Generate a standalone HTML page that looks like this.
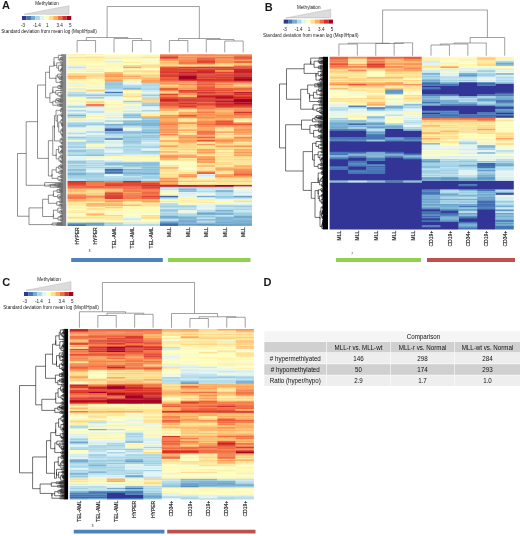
<!DOCTYPE html>
<html lang="en">
<head>
<meta charset="utf-8">
<title>Methylation heatmaps</title>
<style>
html,body{margin:0;padding:0;background:#fff;}
body{width:520px;height:536px;position:relative;overflow:hidden;font-family:"Liberation Sans",Arial,sans-serif;}
svg{position:absolute;left:0;top:0;}
svg text{font-family:"Liberation Sans",Arial,sans-serif;fill:#1a1a1a;}
svg .tbl text{fill:#111;}
</style>
</head>
<body>
<svg width="520" height="536" viewBox="0 0 520 536">
<defs>
<filter id="bl" x="-5%" y="-5%" width="110%" height="110%"><feGaussianBlur stdDeviation="0.55"/></filter>
<clipPath id="clipA"><rect x="67.5" y="54.2" width="184.5" height="171.8"/></clipPath>
<clipPath id="clipB"><rect x="329.6" y="56.8" width="184.2" height="172.6"/></clipPath>
<clipPath id="clipC"><rect x="69.7" y="328.9" width="184.2" height="170.5"/></clipPath>
</defs>
<g filter="url(#bl)" clip-path="url(#clipA)" fill="none" stroke-width="1.25">
<path stroke="#313695" d="M104.4 129.7h18.75M104.4 130.59h18.75"/>
<path stroke="#4168ae" d="M104.4 127.91h18.75M104.4 169.11h18.75M104.4 170.01h18.75M104.4 172.7h18.75M104.4 173.59h18.75M159.75 195.99h18.75M159.75 196.89h18.75M159.75 223.76h18.75M64.5 224.66h21.75M159.75 224.66h18.75"/>
<path stroke="#4575b4" d="M104.4 92.07h18.75M104.4 92.97h18.75M104.4 138.66h18.75M104.4 139.55h18.75M104.4 170.91h18.75M159.75 222.86h18.75M64.5 225.55h21.75M159.75 225.55h18.75M64.5 226.45h21.75M159.75 226.45h18.75M64.5 227.34h21.75M159.75 227.34h18.75M64.5 228.24h21.75M159.75 228.24h18.75M64.5 229.14h21.75M159.75 229.14h18.75M64.5 230.03h21.75M159.75 230.03h18.75M64.5 230.93h21.75M159.75 230.93h18.75"/>
<path stroke="#4e80ba" d="M104.4 128.8h18.75M104.4 171.8h18.75"/>
<path stroke="#588bc0" d="M196.65 213.01h18.75M178.2 221.97h18.75M233.55 223.76h21.45"/>
<path stroke="#6197c5" d="M215.1 213.01h18.75M215.1 214.8h18.75M178.2 220.18h37.2M233.55 221.97h21.45M196.65 223.76h18.75M178.2 224.66h37.2"/>
<path stroke="#6ba2cb" d="M64.5 115.36h21.75M122.85 137.76h18.75M122.85 163.74h18.75M64.5 170.01h21.75M178.2 191.51h18.75M233.55 195.99h21.45M233.55 196.89h21.45M196.65 213.91h18.75M159.75 216.59h18.75M233.55 216.59h21.45M233.55 217.49h21.45M215.1 220.18h39.9M159.75 221.97h18.75M64.5 222.86h40.2M64.5 223.76h40.2M178.2 223.76h18.75M215.1 223.76h18.75M85.95 224.66h18.75M215.1 224.66h39.9M215.1 225.55h18.75M215.1 226.45h18.75M215.1 227.34h18.75M215.1 228.24h18.75M215.1 229.14h18.75M215.1 230.03h18.75M215.1 230.93h18.75"/>
<path stroke="#74add1" d="M122.85 88.49h18.75M141.3 105.51h18.75M122.85 117.16h18.75M122.85 120.74h37.2M141.3 123.43h18.75M104.4 124.32h37.2M64.5 126.11h21.75M104.4 126.11h18.75M104.4 132.39h18.75M141.3 132.39h18.75M64.5 137.76h21.75M122.85 143.14h18.75M85.95 154.78h18.75M104.4 163.74h18.75M141.3 170.01h18.75M64.5 173.59h21.75M122.85 173.59h37.2M64.5 174.49h21.75M215.1 190.61h18.75M215.1 191.51h18.75M196.65 195.99h18.75M196.65 196.89h18.75M215.1 210.32h18.75M196.65 214.8h18.75M159.75 217.49h37.2M215.1 217.49h18.75M178.2 221.07h18.75M233.55 221.07h21.45M215.1 221.97h18.75M178.2 222.86h18.75M215.1 222.86h39.9M85.95 225.55h18.75M196.65 225.55h18.75M233.55 225.55h21.45M85.95 226.45h18.75M196.65 226.45h18.75M233.55 226.45h21.45M85.95 227.34h18.75M196.65 227.34h18.75M233.55 227.34h21.45M85.95 228.24h18.75M196.65 228.24h18.75M233.55 228.24h21.45M85.95 229.14h18.75M196.65 229.14h18.75M233.55 229.14h21.45M85.95 230.03h18.75M196.65 230.03h18.75M233.55 230.03h21.45M85.95 230.93h18.75M196.65 230.93h18.75M233.55 230.93h21.45"/>
<path stroke="#7fb6d6" d="M104.4 84.01h18.75M64.5 94.76h21.75M122.85 115.36h18.75M141.3 117.16h18.75M122.85 123.43h18.75M141.3 124.32h18.75M104.4 125.22h55.65M141.3 126.11h18.75M141.3 127.91h18.75M122.85 131.49h18.75M104.4 133.28h37.2M141.3 137.76h18.75M64.5 152.09h21.75M141.3 152.09h18.75M141.3 163.74h18.75M122.85 165.53h18.75M141.3 167.32h18.75M64.5 169.11h21.75M122.85 169.11h37.2M122.85 170.01h18.75M122.85 172.7h18.75M141.3 174.49h18.75M122.85 180.76h18.75M178.2 188.82h18.75M178.2 189.72h18.75M159.75 211.22h18.75M215.1 211.22h18.75M215.1 213.91h18.75M159.75 218.39h37.2M215.1 218.39h18.75M215.1 219.28h18.75M215.1 221.07h18.75M178.2 225.55h18.75M178.2 226.45h18.75M178.2 227.34h18.75M178.2 228.24h18.75M178.2 229.14h18.75M178.2 230.03h18.75M178.2 230.93h18.75"/>
<path stroke="#8abfdb" d="M104.4 83.11h18.75M104.4 85.8h18.75M122.85 89.39h18.75M85.95 94.76h37.2M85.95 98.34h18.75M122.85 101.03h18.75M64.5 110.89h21.75M141.3 110.89h18.75M122.85 118.05h18.75M122.85 121.64h37.2M141.3 122.53h18.75M64.5 125.22h21.75M141.3 129.7h18.75M141.3 130.59h18.75M104.4 131.49h18.75M122.85 132.39h18.75M141.3 133.28h18.75M122.85 135.97h18.75M141.3 136.86h18.75M122.85 141.34h18.75M64.5 151.2h21.75M85.95 155.68h18.75M122.85 161.95h18.75M104.4 164.64h18.75M141.3 164.64h18.75M64.5 165.53h21.75M141.3 165.53h18.75M104.4 167.32h18.75M122.85 171.8h18.75M141.3 172.7h18.75M85.95 177.18h18.75M141.3 178.07h18.75M85.95 180.76h37.2M159.75 197.78h18.75M215.1 197.78h18.75M196.65 212.11h18.75M233.55 213.01h21.45M159.75 215.7h18.75M233.55 215.7h21.45M178.2 216.59h37.2M233.55 218.39h21.45M178.2 219.28h37.2M233.55 219.28h21.45M159.75 221.07h18.75M196.65 222.86h18.75"/>
<path stroke="#95c7df" d="M104.4 81.32h18.75M104.4 82.22h18.75M104.4 84.91h18.75M122.85 85.8h18.75M104.4 87.59h18.75M85.95 95.66h37.2M141.3 95.66h18.75M85.95 97.45h18.75M122.85 101.93h18.75M141.3 103.72h18.75M122.85 114.47h18.75M64.5 117.16h21.75M141.3 118.05h18.75M141.3 118.95h18.75M104.4 120.74h18.75M122.85 122.53h18.75M85.95 124.32h18.75M122.85 126.11h18.75M141.3 131.49h18.75M141.3 135.07h18.75M141.3 135.97h18.75M64.5 136.86h21.75M122.85 136.86h18.75M85.95 137.76h37.2M122.85 139.55h37.2M85.95 141.34h18.75M122.85 142.24h18.75M64.5 143.14h40.2M64.5 146.72h21.75M122.85 146.72h18.75M64.5 150.3h21.75M141.3 151.2h18.75M122.85 152.09h18.75M64.5 154.78h21.75M64.5 155.68h21.75M64.5 161.05h40.2M64.5 161.95h21.75M141.3 161.95h18.75M64.5 162.84h21.75M141.3 162.84h18.75M85.95 163.74h18.75M122.85 164.64h18.75M85.95 167.32h18.75M141.3 168.22h18.75M64.5 170.91h21.75M122.85 170.91h37.2M141.3 171.8h18.75M64.5 172.7h21.75M85.95 173.59h18.75M85.95 174.49h18.75M122.85 174.49h18.75M64.5 175.39h21.75M122.85 175.39h18.75M64.5 177.18h21.75M141.3 177.18h18.75M104.4 178.07h18.75M122.85 178.97h18.75M104.4 179.86h18.75M178.2 187.03h18.75M178.2 190.61h18.75M215.1 195.99h18.75M215.1 196.89h18.75M233.55 197.78h21.45M215.1 206.74h39.9M159.75 209.43h37.2M233.55 209.43h21.45M159.75 210.32h18.75M215.1 212.11h18.75M159.75 213.91h18.75M104.4 223.76h18.75M141.3 224.66h18.75"/>
<path stroke="#a0d0e4" d="M141.3 85.8h18.75M104.4 86.7h18.75M122.85 87.59h18.75M104.4 88.49h18.75M141.3 89.39h18.75M141.3 94.76h18.75M64.5 95.66h21.75M141.3 104.61h18.75M64.5 106.41h21.75M64.5 107.3h21.75M85.95 111.78h18.75M122.85 116.26h18.75M141.3 119.84h18.75M64.5 123.43h40.2M64.5 124.32h21.75M85.95 125.22h18.75M141.3 127.01h18.75M104.4 134.18h18.75M122.85 138.66h18.75M122.85 140.45h18.75M141.3 141.34h18.75M64.5 142.24h21.75M64.5 144.93h21.75M122.85 144.93h18.75M141.3 146.72h18.75M64.5 147.61h21.75M104.4 147.61h18.75M141.3 147.61h18.75M85.95 149.41h18.75M122.85 149.41h18.75M85.95 152.09h18.75M104.4 153.89h18.75M104.4 161.95h18.75M104.4 162.84h37.2M64.5 163.74h21.75M85.95 165.53h37.2M122.85 166.43h37.2M64.5 167.32h21.75M122.85 167.32h18.75M104.4 168.22h18.75M64.5 171.8h21.75M85.95 172.7h18.75M85.95 175.39h18.75M64.5 176.28h40.2M141.3 176.28h18.75M64.5 178.07h21.75M122.85 178.07h18.75M85.95 178.97h18.75M85.95 179.86h18.75M122.85 179.86h18.75M141.3 180.76h18.75M196.65 187.03h37.2M159.75 187.93h55.65M196.65 191.51h18.75M215.1 194.2h18.75M159.75 205.84h37.2M233.55 205.84h21.45M159.75 206.74h37.2M159.75 213.01h18.75M178.2 213.91h18.75M233.55 213.91h21.45M233.55 214.8h21.45M215.1 216.59h18.75M196.65 217.49h18.75M196.65 221.97h18.75M104.4 222.86h18.75M122.85 224.66h18.75M104.4 225.55h18.75M104.4 226.45h18.75M104.4 227.34h18.75M104.4 228.24h18.75M104.4 229.14h18.75M104.4 230.03h18.75M104.4 230.93h18.75"/>
<path stroke="#a50026" d="M178.2 75.95h18.75M178.2 76.84h18.75M178.2 77.74h18.75M233.55 77.74h21.45M178.2 78.64h18.75M233.55 79.53h21.45M233.55 80.43h21.45M233.55 92.97h21.45M215.1 97.45h18.75M233.55 99.24h21.45M233.55 100.14h21.45M215.1 101.03h39.9M233.55 101.93h21.45M233.55 103.72h21.45M159.75 185.24h95.25M215.1 186.14h18.75"/>
<path stroke="#abd9e9" d="M64.5 67.89h21.75M141.3 83.11h18.75M141.3 84.01h18.75M141.3 84.91h18.75M122.85 86.7h18.75M141.3 88.49h18.75M104.4 89.39h18.75M141.3 91.18h18.75M64.5 92.97h21.75M104.4 93.86h18.75M141.3 102.82h18.75M122.85 113.57h18.75M64.5 114.47h21.75M64.5 116.26h21.75M104.4 121.64h18.75M64.5 122.53h40.2M64.5 127.01h21.75M104.4 127.01h18.75M141.3 128.8h18.75M85.95 131.49h18.75M85.95 132.39h18.75M64.5 133.28h21.75M122.85 134.18h37.2M122.85 135.07h18.75M141.3 138.66h18.75M64.5 139.55h40.2M85.95 142.24h18.75M64.5 144.03h21.75M141.3 144.93h18.75M122.85 147.61h18.75M64.5 149.41h21.75M85.95 150.3h18.75M122.85 150.3h18.75M85.95 151.2h18.75M122.85 151.2h18.75M85.95 152.99h18.75M141.3 152.99h18.75M64.5 153.89h40.2M122.85 153.89h37.2M64.5 166.43h21.75M141.3 175.39h18.75M122.85 177.18h18.75M85.95 178.07h18.75M64.5 178.97h21.75M104.4 178.97h18.75M141.3 178.97h18.75M159.75 187.03h18.75M215.1 187.93h18.75M215.1 192.41h18.75M159.75 204.95h18.75M215.1 204.95h18.75M215.1 205.84h18.75M215.1 209.43h18.75M159.75 214.8h37.2M178.2 215.7h37.2M159.75 220.18h18.75M104.4 224.66h18.75"/>
<path stroke="#af0a26" d="M215.1 101.93h18.75M178.2 186.14h18.75"/>
<path stroke="#b6deec" d="M141.3 86.7h18.75M141.3 87.59h18.75M104.4 91.18h18.75M64.5 92.07h21.75M64.5 93.86h21.75M64.5 96.55h21.75M141.3 97.45h18.75M141.3 98.34h18.75M64.5 109.99h21.75M141.3 109.99h18.75M64.5 113.57h21.75M64.5 118.05h21.75M104.4 135.07h18.75M104.4 135.97h18.75M85.95 136.86h18.75M64.5 138.66h40.2M85.95 140.45h18.75M122.85 144.03h18.75M64.5 145.82h21.75M122.85 145.82h37.2M122.85 148.51h18.75M64.5 152.99h21.75M104.4 152.99h37.2M64.5 168.22h40.2M104.4 176.28h18.75M104.4 177.18h18.75M64.5 179.86h21.75M64.5 180.76h21.75M159.75 189.72h18.75M215.1 193.3h18.75M159.75 198.68h18.75M215.1 198.68h18.75M159.75 203.16h18.75M159.75 204.05h18.75M178.2 204.95h18.75M233.55 204.95h21.45M159.75 207.64h37.2M233.55 207.64h21.45M215.1 208.53h39.9M196.65 210.32h18.75M196.65 211.22h18.75M159.75 212.11h18.75M233.55 212.11h21.45M196.65 221.07h18.75M122.85 225.55h37.2M122.85 226.45h37.2M122.85 227.34h37.2M122.85 228.24h37.2M122.85 229.14h37.2M122.85 230.03h37.2M122.85 230.93h37.2"/>
<path stroke="#b91326" d="M233.55 69.68h21.45M178.2 74.16h18.75M233.55 75.95h21.45M233.55 78.64h21.45M233.55 92.07h21.45M196.65 96.55h37.2M215.1 98.34h18.75M233.55 102.82h21.45M159.75 186.14h18.75M196.65 186.14h18.75M233.55 186.14h21.45"/>
<path stroke="#c0e3ef" d="M64.5 66.99h21.75M122.85 84.91h18.75M85.95 93.86h18.75M141.3 93.86h18.75M104.4 96.55h18.75M122.85 110.89h18.75M85.95 112.68h18.75M104.4 117.16h18.75M64.5 134.18h21.75M85.95 135.07h18.75M85.95 135.97h18.75M104.4 136.86h18.75M141.3 140.45h18.75M104.4 143.14h18.75M141.3 143.14h18.75M104.4 148.51h18.75M64.5 160.16h40.2M85.95 161.95h18.75M85.95 162.84h18.75M64.5 164.64h40.2M85.95 166.43h18.75M85.95 170.01h18.75M122.85 176.28h18.75M141.3 179.86h18.75M196.65 188.82h37.2M196.65 190.61h18.75M215.1 195.09h18.75M233.55 198.68h21.45M233.55 201.36h21.45M215.1 207.64h18.75M178.2 208.53h18.75M233.55 211.22h21.45M215.1 215.7h18.75M196.65 218.39h18.75M159.75 219.28h18.75"/>
<path stroke="#c31d27" d="M196.65 67.89h18.75M233.55 71.47h21.45M178.2 72.36h37.2M233.55 72.36h21.45M159.75 74.16h18.75M233.55 74.16h21.45M178.2 79.53h37.2M196.65 92.97h18.75M196.65 95.66h37.2M233.55 97.45h21.45M178.2 100.14h18.75M104.4 197.78h18.75"/>
<path stroke="#c4b3a4" d="M122.85 66.99h18.75M122.85 67.89h18.75"/>
<path stroke="#cbe9f2" d="M104.4 61.61h18.75M104.4 90.28h18.75M141.3 90.28h18.75M85.95 96.55h18.75M141.3 96.55h18.75M85.95 106.41h18.75M122.85 108.2h18.75M85.95 110.89h18.75M64.5 111.78h21.75M122.85 111.78h37.2M104.4 123.43h18.75M122.85 127.01h18.75M85.95 127.91h18.75M122.85 127.91h18.75M141.3 144.03h18.75M104.4 146.72h18.75M64.5 148.51h21.75M141.3 148.51h18.75M104.4 154.78h55.65M104.4 155.68h18.75M104.4 166.43h18.75M122.85 168.22h18.75M85.95 169.11h18.75M196.65 175.39h18.75M159.75 188.82h18.75M196.65 189.72h37.2M196.65 192.41h18.75M233.55 192.41h21.45M178.2 195.99h18.75M196.65 197.78h18.75M159.75 201.36h18.75M159.75 208.53h18.75M233.55 210.32h21.45M178.2 213.01h18.75M122.85 219.28h18.75M122.85 220.18h18.75M122.85 222.86h37.2"/>
<path stroke="#cd2627" d="M196.65 66.99h18.75M233.55 70.57h21.45M196.65 71.47h18.75M215.1 74.16h18.75M178.2 75.05h18.75M233.55 76.84h21.45M178.2 80.43h18.75M159.75 99.24h37.2M159.75 100.14h18.75M196.65 100.14h37.2M159.75 101.03h18.75M215.1 104.61h39.9M233.55 112.68h21.45M122.85 181.66h18.75M141.3 187.93h18.75M104.4 195.99h18.75M141.3 195.99h18.75"/>
<path stroke="#d5eef5" d="M85.95 69.68h18.75M64.5 88.49h21.75M64.5 89.39h21.75M122.85 102.82h18.75M122.85 103.72h18.75M64.5 105.51h21.75M122.85 106.41h37.2M85.95 107.3h18.75M141.3 107.3h18.75M64.5 108.2h40.2M104.4 111.78h18.75M104.4 115.36h18.75M104.4 118.05h18.75M64.5 120.74h40.2M85.95 126.11h18.75M64.5 127.91h21.75M64.5 132.39h21.75M64.5 141.34h21.75M104.4 141.34h18.75M104.4 142.24h18.75M85.95 147.61h18.75M104.4 149.41h18.75M104.4 150.3h18.75M141.3 150.3h18.75M104.4 161.05h18.75M104.4 174.49h18.75M196.65 177.18h18.75M178.2 193.3h18.75M178.2 194.2h18.75M196.65 206.74h18.75M196.65 209.43h18.75M122.85 218.39h18.75M122.85 223.76h37.2"/>
<path stroke="#d73027" d="M233.55 68.78h21.45M178.2 69.68h37.2M196.65 70.57h18.75M159.75 72.36h18.75M233.55 75.05h21.45M215.1 75.95h18.75M196.65 76.84h18.75M215.1 79.53h18.75M196.65 80.43h37.2M178.2 90.28h37.2M196.65 92.07h18.75M233.55 93.86h21.45M233.55 94.76h21.45M196.65 97.45h18.75M233.55 98.34h21.45M196.65 99.24h37.2M178.2 101.03h37.2M159.75 101.93h18.75M178.2 102.82h18.75M215.1 102.82h18.75M178.2 103.72h18.75M215.1 103.72h18.75M215.1 105.51h39.9M178.2 106.41h18.75M196.65 173.59h18.75M64.5 181.66h21.75M141.3 183.45h18.75M141.3 185.24h18.75M122.85 186.14h37.2M104.4 196.89h18.75M141.3 196.89h18.75"/>
<path stroke="#dd3c2d" d="M159.75 57.14h18.75M233.55 57.14h21.45M159.75 58.03h18.75M196.65 58.03h18.75M196.65 59.82h18.75M196.65 61.61h18.75M196.65 62.51h18.75M159.75 66.99h37.2M215.1 66.99h39.9M178.2 67.89h18.75M215.1 67.89h18.75M159.75 69.68h18.75M215.1 69.68h18.75M159.75 71.47h18.75M215.1 72.36h18.75M178.2 73.26h18.75M233.55 73.26h21.45M196.65 74.16h18.75M159.75 75.05h18.75M215.1 75.05h18.75M159.75 75.95h18.75M196.65 75.95h18.75M159.75 76.84h18.75M215.1 76.84h18.75M196.65 77.74h37.2M215.1 82.22h39.9M215.1 90.28h18.75M215.1 92.97h18.75M196.65 93.86h18.75M233.55 96.55h21.45M178.2 97.45h18.75M196.65 101.93h18.75M196.65 103.72h18.75M215.1 106.41h18.75M215.1 107.3h18.75M233.55 111.78h21.45M196.65 140.45h18.75M196.65 141.34h18.75M196.65 172.7h18.75M64.5 182.55h21.75M122.85 182.55h18.75M64.5 183.45h21.75M104.4 185.24h37.2M64.5 186.14h21.75M104.4 186.14h18.75M141.3 187.03h18.75M104.4 195.09h18.75M104.4 198.68h18.75"/>
<path stroke="#e0f3f8" d="M64.5 65.2h21.75M64.5 66.09h21.75M64.5 69.68h21.75M122.85 81.32h18.75M64.5 83.11h21.75M64.5 84.01h21.75M122.85 84.01h18.75M64.5 85.8h21.75M85.95 87.59h18.75M85.95 92.97h18.75M141.3 92.97h18.75M104.4 98.34h18.75M64.5 101.03h21.75M141.3 108.2h18.75M85.95 109.99h18.75M85.95 114.47h18.75M104.4 122.53h18.75M64.5 129.7h21.75M122.85 129.7h18.75M122.85 130.59h18.75M64.5 131.49h21.75M85.95 133.28h18.75M141.3 142.24h18.75M104.4 152.09h18.75M122.85 155.68h37.2M64.5 157.47h40.2M64.5 158.36h21.75M64.5 159.26h21.75M104.4 160.16h18.75M85.95 171.8h18.75M196.65 174.49h18.75M196.65 176.28h18.75M233.55 187.03h21.45M233.55 187.93h21.45M159.75 191.51h18.75M233.55 191.51h21.45M178.2 192.41h18.75M196.65 194.2h18.75M233.55 194.2h21.45M178.2 196.89h18.75M196.65 204.95h18.75M196.65 205.84h18.75M196.65 207.64h18.75"/>
<path stroke="#e34832" d="M233.55 58.03h21.45M233.55 62.51h21.45M159.75 67.89h18.75M233.55 67.89h21.45M159.75 68.78h37.2M215.1 68.78h18.75M159.75 70.57h37.2M178.2 71.47h18.75M196.65 73.26h18.75M196.65 75.05h18.75M215.1 78.64h18.75M159.75 79.53h18.75M196.65 82.22h18.75M196.65 84.91h18.75M159.75 88.49h18.75M215.1 88.49h18.75M215.1 92.07h18.75M178.2 92.97h18.75M159.75 93.86h18.75M159.75 94.76h18.75M215.1 94.76h18.75M159.75 97.45h18.75M159.75 98.34h18.75M196.65 98.34h18.75M178.2 101.93h18.75M196.65 104.61h18.75M178.2 105.51h18.75M233.55 106.41h21.45M178.2 107.3h18.75M233.55 107.3h21.45M215.1 125.22h18.75M196.65 137.76h18.75M104.4 183.45h37.2M64.5 184.34h21.75M104.4 184.34h55.65M64.5 185.24h21.75M141.3 188.82h18.75M104.4 193.3h18.75M104.4 194.2h18.75"/>
<path stroke="#e6f5ed" d="M64.5 68.78h21.75M122.85 83.11h18.75M85.95 92.07h18.75M104.4 100.14h18.75M64.5 101.93h21.75M122.85 107.3h18.75M64.5 112.68h21.75M122.85 112.68h18.75M85.95 113.57h37.2M104.4 114.47h18.75M85.95 118.95h55.65M85.95 119.84h18.75M122.85 119.84h18.75M64.5 121.64h40.2M85.95 129.7h18.75M85.95 130.59h18.75M85.95 134.18h18.75M64.5 135.07h21.75M64.5 135.97h21.75M104.4 144.03h18.75M104.4 144.93h18.75M104.4 145.82h18.75M85.95 148.51h18.75M141.3 149.41h18.75M104.4 151.2h18.75M64.5 156.57h21.75M85.95 170.91h18.75M233.55 190.61h21.45M196.65 193.3h18.75M233.55 193.3h21.45M233.55 195.09h21.45M196.65 198.68h18.75M215.1 199.57h18.75M233.55 202.26h21.45M196.65 204.05h58.35M196.65 208.53h18.75M178.2 211.22h18.75"/>
<path stroke="#e85538" d="M159.75 56.24h18.75M233.55 58.93h21.45M196.65 60.72h18.75M233.55 61.61h21.45M196.65 68.78h18.75M159.75 73.26h18.75M196.65 78.64h18.75M196.65 81.32h58.35M196.65 84.01h18.75M196.65 87.59h18.75M196.65 88.49h18.75M233.55 88.49h21.45M159.75 89.39h18.75M178.2 91.18h37.2M178.2 92.07h18.75M215.1 93.86h18.75M196.65 94.76h18.75M233.55 95.66h21.45M178.2 98.34h18.75M159.75 102.82h18.75M159.75 103.72h18.75M85.95 104.61h18.75M159.75 104.61h37.2M159.75 105.51h18.75M196.65 105.51h18.75M178.2 115.36h18.75M215.1 121.64h18.75M215.1 123.43h18.75M215.1 124.32h39.9M233.55 125.22h21.45M196.65 134.18h18.75M196.65 136.86h18.75M233.55 174.49h21.45M64.5 187.93h40.2M122.85 188.82h18.75M141.3 193.3h18.75M64.5 197.78h21.75M122.85 197.78h37.2"/>
<path stroke="#ecf8e1" d="M104.4 58.93h18.75M104.4 62.51h18.75M64.5 63.41h21.75M104.4 63.41h18.75M85.95 68.78h18.75M85.95 73.26h18.75M122.85 82.22h18.75M64.5 84.91h21.75M85.95 89.39h18.75M141.3 92.07h18.75M104.4 97.45h18.75M104.4 99.24h18.75M64.5 104.61h21.75M104.4 106.41h18.75M85.95 109.09h18.75M104.4 112.68h18.75M141.3 112.68h18.75M104.4 119.84h18.75M85.95 127.01h18.75M64.5 128.8h40.2M64.5 130.59h21.75M178.2 133.28h18.75M104.4 140.45h18.75M85.95 146.72h18.75M85.95 156.57h18.75M178.2 165.53h18.75M178.2 170.01h18.75M159.75 190.61h18.75M178.2 195.09h18.75M215.1 200.47h18.75M178.2 201.36h18.75M215.1 203.16h39.9M178.2 210.32h18.75M122.85 212.11h18.75M122.85 217.49h18.75"/>
<path stroke="#ee613d" d="M233.55 56.24h21.45M215.1 57.14h18.75M159.75 58.93h18.75M196.65 58.93h18.75M233.55 66.09h21.45M215.1 73.26h18.75M159.75 77.74h18.75M159.75 78.64h18.75M159.75 80.43h18.75M196.65 83.11h18.75M196.65 89.39h58.35M215.1 91.18h18.75M196.65 102.82h18.75M196.65 108.2h18.75M233.55 109.99h21.45M233.55 114.47h21.45M178.2 116.26h18.75M215.1 120.74h18.75M215.1 122.53h18.75M233.55 170.91h21.45M85.95 181.66h18.75M85.95 186.14h18.75M85.95 187.03h18.75M122.85 187.93h18.75M104.4 192.41h18.75M141.3 192.41h18.75M64.5 195.99h40.2M122.85 195.99h18.75M141.3 198.68h18.75"/>
<path stroke="#f3fad6" d="M104.4 56.24h18.75M104.4 59.82h55.65M104.4 60.72h18.75M141.3 60.72h18.75M64.5 61.61h40.2M122.85 61.61h18.75M85.95 63.41h18.75M141.3 63.41h18.75M64.5 70.57h21.75M64.5 73.26h21.75M85.95 86.7h18.75M64.5 103.72h21.75M104.4 108.2h18.75M64.5 109.09h21.75M122.85 109.09h37.2M122.85 109.99h18.75M104.4 116.26h18.75M85.95 117.16h18.75M122.85 128.8h18.75M64.5 140.45h21.75M85.95 158.36h55.65M122.85 161.05h37.2M159.75 164.64h18.75M178.2 167.32h18.75M104.4 175.39h18.75M196.65 178.07h18.75M233.55 188.82h21.45M233.55 189.72h21.45M196.65 195.09h18.75M178.2 197.78h18.75M196.65 201.36h18.75M159.75 202.26h18.75M196.65 203.16h18.75M141.3 212.11h18.75M178.2 212.11h18.75M64.5 214.8h21.75M122.85 216.59h18.75M64.5 219.28h40.2"/>
<path stroke="#f46d43" d="M178.2 57.14h18.75M215.1 58.03h18.75M178.2 59.82h18.75M233.55 59.82h21.45M178.2 62.51h18.75M196.65 63.41h18.75M178.2 82.22h18.75M178.2 84.91h18.75M196.65 85.8h18.75M196.65 86.7h18.75M233.55 90.28h21.45M196.65 109.09h18.75M233.55 113.57h21.45M233.55 118.05h21.45M196.65 124.32h18.75M196.65 125.22h18.75M196.65 131.49h18.75M196.65 132.39h18.75M233.55 175.39h21.45M104.4 182.55h18.75M141.3 182.55h18.75M85.95 185.24h18.75M64.5 187.03h21.75M104.4 187.03h37.2M104.4 187.93h18.75M122.85 191.51h18.75M122.85 194.2h18.75M64.5 196.89h21.75M122.85 196.89h18.75"/>
<path stroke="#f67a49" d="M196.65 53.55h18.75M196.65 52.66h18.75M196.65 51.76h18.75M196.65 50.86h18.75M196.65 54.45h18.75M159.75 55.34h18.75M215.1 55.34h18.75M196.65 57.14h18.75M215.1 62.51h18.75M178.2 63.41h18.75M178.2 64.3h18.75M215.1 71.47h18.75M159.75 81.32h18.75M159.75 90.28h18.75M159.75 95.66h18.75M159.75 96.55h18.75M85.95 105.51h18.75M159.75 106.41h18.75M196.65 106.41h18.75M159.75 107.3h18.75M196.65 107.3h18.75M196.65 111.78h18.75M196.65 112.68h18.75M159.75 117.16h18.75M178.2 118.05h18.75M178.2 123.43h18.75M233.55 123.43h21.45M159.75 124.32h18.75M159.75 127.01h18.75M196.65 133.28h18.75M178.2 135.07h18.75M178.2 136.86h18.75M215.1 141.34h18.75M159.75 145.82h18.75M215.1 145.82h18.75M196.65 149.41h18.75M196.65 152.99h18.75M233.55 169.11h21.45M233.55 171.8h21.45M233.55 173.59h21.45M159.75 178.97h18.75M141.3 181.66h18.75M85.95 182.55h18.75M85.95 183.45h18.75M85.95 184.34h18.75M141.3 189.72h18.75M122.85 190.61h18.75M141.3 191.51h18.75M141.3 194.2h18.75M122.85 195.09h37.2M85.95 196.89h18.75M64.5 198.68h21.75M122.85 198.68h18.75"/>
<path stroke="#f8874f" d="M159.75 53.55h37.2M159.75 52.66h37.2M159.75 51.76h37.2M159.75 50.86h37.2M159.75 54.45h37.2M178.2 55.34h37.2M233.55 55.34h21.45M178.2 58.03h18.75M159.75 59.82h18.75M215.1 59.82h18.75M178.2 60.72h18.75M178.2 61.61h18.75M196.65 64.3h18.75M159.75 82.22h18.75M178.2 84.01h18.75M215.1 84.01h18.75M215.1 84.91h18.75M233.55 91.18h21.45M159.75 108.2h37.2M215.1 108.2h39.9M233.55 110.89h21.45M196.65 114.47h18.75M215.1 115.36h39.9M178.2 117.16h37.2M233.55 117.16h21.45M159.75 118.05h18.75M196.65 118.05h18.75M196.65 121.64h18.75M196.65 122.53h18.75M159.75 123.43h18.75M196.65 123.43h18.75M159.75 125.22h18.75M215.1 127.01h39.9M159.75 128.8h18.75M196.65 128.8h18.75M233.55 128.8h21.45M159.75 132.39h18.75M159.75 134.18h18.75M233.55 134.18h21.45M159.75 135.07h18.75M196.65 135.07h18.75M233.55 136.86h21.45M178.2 137.76h18.75M233.55 137.76h21.45M215.1 140.45h18.75M159.75 141.34h18.75M196.65 144.03h18.75M233.55 145.82h21.45M233.55 152.09h21.45M178.2 154.78h18.75M159.75 156.57h18.75M178.2 157.47h18.75M196.65 159.26h18.75M233.55 172.7h21.45M178.2 174.49h18.75M178.2 177.18h18.75M233.55 177.18h21.45M159.75 180.76h18.75M104.4 181.66h18.75M159.75 181.66h18.75M159.75 184.34h18.75M64.5 188.82h21.75M104.4 188.82h18.75M122.85 189.72h18.75M141.3 190.61h18.75M122.85 193.3h18.75M64.5 195.09h21.75M85.95 197.78h18.75M104.4 201.36h18.75"/>
<path stroke="#f99455" d="M215.1 53.55h39.9M215.1 52.66h39.9M215.1 51.76h39.9M215.1 50.86h39.9M215.1 54.45h39.9M196.65 56.24h18.75M178.2 58.93h18.75M215.1 58.93h18.75M215.1 60.72h18.75M215.1 61.61h18.75M233.55 65.2h21.45M215.1 70.57h18.75M104.4 75.95h18.75M104.4 76.84h37.2M104.4 80.43h18.75M141.3 80.43h18.75M178.2 81.32h18.75M141.3 82.22h18.75M159.75 83.11h18.75M215.1 83.11h39.9M159.75 84.01h18.75M233.55 87.59h21.45M178.2 88.49h18.75M159.75 91.18h18.75M178.2 93.86h18.75M178.2 94.76h18.75M159.75 109.09h37.2M233.55 109.09h21.45M196.65 110.89h18.75M178.2 114.47h18.75M159.75 115.36h18.75M196.65 115.36h18.75M215.1 116.26h39.9M215.1 117.16h18.75M215.1 118.05h18.75M159.75 122.53h37.2M233.55 122.53h21.45M159.75 126.11h18.75M196.65 126.11h58.35M196.65 127.01h18.75M159.75 129.7h18.75M233.55 129.7h21.45M159.75 130.59h55.65M233.55 130.59h21.45M215.1 132.39h39.9M233.55 141.34h21.45M178.2 142.24h18.75M196.65 144.93h18.75M233.55 146.72h21.45M233.55 149.41h21.45M159.75 152.09h18.75M233.55 152.99h21.45M159.75 154.78h18.75M196.65 156.57h18.75M159.75 157.47h18.75M159.75 159.26h18.75M196.65 160.16h18.75M159.75 168.22h18.75M215.1 169.11h18.75M233.55 170.01h21.45M196.65 170.91h18.75M215.1 174.49h18.75M178.2 176.28h18.75M215.1 176.28h18.75M215.1 177.18h18.75M159.75 178.07h18.75M85.95 188.82h18.75M64.5 194.2h21.75M141.3 201.36h18.75"/>
<path stroke="#f9fdca" d="M141.3 53.55h18.75M141.3 52.66h18.75M141.3 51.76h18.75M141.3 50.86h18.75M141.3 54.45h18.75M104.4 55.34h55.65M122.85 56.24h18.75M141.3 61.61h18.75M122.85 63.41h18.75M141.3 64.3h18.75M85.95 70.57h18.75M85.95 72.36h18.75M64.5 79.53h40.2M122.85 79.53h18.75M85.95 81.32h18.75M85.95 84.01h18.75M85.95 85.8h18.75M85.95 88.49h18.75M64.5 102.82h21.75M104.4 102.82h18.75M104.4 103.72h18.75M104.4 105.51h37.2M104.4 110.89h18.75M85.95 115.36h18.75M233.55 120.74h21.45M85.95 144.93h18.75M159.75 162.84h18.75M178.2 164.64h18.75M178.2 168.22h18.75M178.2 171.8h18.75M159.75 192.41h18.75M159.75 193.3h18.75M215.1 201.36h18.75M85.95 206.74h18.75M141.3 206.74h18.75M104.4 209.43h18.75M64.5 211.22h58.65M104.4 212.11h18.75M104.4 214.8h18.75M141.3 214.8h18.75M122.85 215.7h18.75M64.5 216.59h21.75M141.3 219.28h18.75M64.5 220.18h21.75M64.5 221.07h40.2M141.3 221.07h18.75"/>
<path stroke="#fba15b" d="M178.2 56.24h18.75M215.1 56.24h18.75M159.75 60.72h18.75M233.55 60.72h21.45M104.4 74.16h18.75M104.4 75.05h18.75M122.85 75.95h18.75M141.3 81.32h18.75M178.2 83.11h18.75M233.55 84.01h21.45M215.1 85.8h18.75M215.1 86.7h39.9M215.1 87.59h18.75M178.2 89.39h18.75M215.1 109.09h18.75M196.65 109.99h37.2M159.75 110.89h18.75M178.2 112.68h18.75M196.65 113.57h37.2M215.1 114.47h18.75M159.75 116.26h18.75M196.65 116.26h18.75M196.65 118.95h18.75M215.1 119.84h18.75M159.75 121.64h18.75M159.75 127.91h18.75M178.2 129.7h18.75M159.75 131.49h18.75M233.55 131.49h21.45M196.65 138.66h18.75M233.55 138.66h21.45M196.65 139.55h37.2M159.75 140.45h37.2M178.2 141.34h18.75M159.75 146.72h18.75M215.1 146.72h18.75M196.65 152.09h18.75M233.55 154.78h21.45M159.75 155.68h18.75M233.55 155.68h21.45M178.2 156.57h18.75M196.65 157.47h18.75M196.65 158.36h18.75M196.65 161.05h18.75M196.65 161.95h18.75M196.65 162.84h18.75M215.1 168.22h18.75M215.1 170.01h18.75M196.65 171.8h18.75M178.2 175.39h18.75M215.1 175.39h18.75M233.55 176.28h21.45M122.85 192.41h18.75M64.5 200.47h21.75M104.4 200.47h37.2M85.95 203.16h18.75M85.95 205.84h18.75M122.85 205.84h18.75"/>
<path stroke="#fdae61" d="M159.75 66.09h18.75M64.5 75.95h21.75M64.5 76.84h21.75M104.4 79.53h18.75M159.75 86.7h37.2M159.75 87.59h37.2M159.75 109.99h18.75M215.1 111.78h18.75M215.1 112.68h18.75M178.2 113.57h18.75M159.75 118.95h18.75M215.1 118.95h18.75M159.75 119.84h18.75M196.65 119.84h18.75M159.75 120.74h18.75M196.65 120.74h18.75M196.65 127.91h18.75M233.55 127.91h21.45M196.65 129.7h18.75M215.1 131.49h18.75M233.55 133.28h21.45M178.2 135.97h18.75M178.2 138.66h18.75M215.1 138.66h18.75M178.2 139.55h18.75M233.55 139.55h21.45M233.55 140.45h21.45M215.1 142.24h18.75M178.2 143.14h18.75M215.1 143.14h18.75M196.65 150.3h18.75M233.55 150.3h21.45M196.65 151.2h18.75M233.55 153.89h21.45M178.2 155.68h18.75M159.75 158.36h18.75M233.55 165.53h21.45M196.65 166.43h18.75M233.55 166.43h21.45M233.55 168.22h21.45M159.75 179.86h18.75M159.75 182.55h18.75M159.75 183.45h18.75M104.4 191.51h18.75M141.3 200.47h18.75M104.4 203.16h18.75M85.95 204.05h18.75M104.4 204.95h18.75M104.4 205.84h18.75"/>
<path stroke="#fdb86a" d="M159.75 62.51h18.75M196.65 66.09h37.2M104.4 73.26h18.75M141.3 77.74h18.75M104.4 78.64h55.65M141.3 79.53h18.75M159.75 84.91h18.75M178.2 85.8h18.75M178.2 96.55h18.75M215.1 110.89h18.75M178.2 111.78h18.75M159.75 135.97h18.75M196.65 135.97h18.75M159.75 151.2h18.75M233.55 151.2h21.45M196.65 153.89h18.75M196.65 165.53h18.75M159.75 167.32h18.75M64.5 190.61h21.75M64.5 191.51h21.75M85.95 198.68h18.75M64.5 199.57h21.75M122.85 199.57h37.2M85.95 200.47h18.75M104.4 204.05h18.75M85.95 204.95h18.75M122.85 204.95h18.75M85.95 213.91h18.75M85.95 214.8h18.75"/>
<path stroke="#fdc274" d="M159.75 63.41h18.75M215.1 63.41h39.9M159.75 64.3h18.75M233.55 64.3h21.45M178.2 66.09h18.75M104.4 72.36h18.75M64.5 77.74h21.75M104.4 77.74h18.75M64.5 78.64h21.75M233.55 84.91h21.45M85.95 90.28h18.75M141.3 116.26h18.75M178.2 125.22h18.75M178.2 127.01h18.75M159.75 133.28h18.75M215.1 135.07h39.9M215.1 144.03h18.75M178.2 149.41h18.75M215.1 149.41h18.75M215.1 167.32h39.9M215.1 170.91h18.75M178.2 180.76h37.2M178.2 181.66h18.75M64.5 189.72h58.65M104.4 190.61h18.75M85.95 195.09h18.75M85.95 199.57h37.2M64.5 201.36h21.75M141.3 202.26h18.75M104.4 207.64h18.75"/>
<path stroke="#fecc7d" d="M159.75 61.61h18.75M215.1 64.3h18.75M141.3 66.99h18.75M64.5 74.16h21.75M85.95 75.05h18.75M122.85 75.05h37.2M141.3 75.95h18.75M85.95 76.84h18.75M122.85 77.74h18.75M159.75 92.97h18.75M178.2 95.66h18.75M122.85 96.55h18.75M141.3 99.24h18.75M141.3 100.14h18.75M141.3 101.93h18.75M178.2 124.32h18.75M178.2 126.11h18.75M178.2 132.39h18.75M215.1 134.18h18.75M159.75 137.76h18.75M233.55 144.93h21.45M159.75 149.41h18.75M159.75 152.99h37.2M215.1 152.99h18.75M159.75 170.91h18.75M233.55 178.97h21.45M196.65 181.66h18.75M233.55 181.66h21.45M64.5 193.3h40.2M85.95 194.2h18.75M85.95 201.36h18.75M122.85 201.36h18.75M104.4 202.26h18.75"/>
<path stroke="#fed687" d="M64.5 57.14h40.2M141.3 58.03h18.75M122.85 65.2h37.2M122.85 66.09h18.75M122.85 71.47h37.2M85.95 74.16h18.75M122.85 74.16h18.75M64.5 75.05h21.75M85.95 75.95h18.75M141.3 76.84h18.75M233.55 85.8h21.45M159.75 92.07h18.75M122.85 93.86h18.75M141.3 101.03h18.75M85.95 101.93h18.75M85.95 102.82h18.75M159.75 112.68h18.75M159.75 114.47h18.75M215.1 128.8h18.75M159.75 136.86h18.75M215.1 136.86h18.75M215.1 137.76h18.75M178.2 144.03h18.75M159.75 144.93h37.2M178.2 145.82h37.2M178.2 146.72h18.75M159.75 147.61h95.25M196.65 154.78h37.2M215.1 156.57h39.9M233.55 157.47h21.45M233.55 159.26h21.45M159.75 160.16h37.2M215.1 160.16h39.9M215.1 164.64h18.75M159.75 169.11h18.75M196.65 169.11h18.75M159.75 174.49h18.75M159.75 177.18h18.75M178.2 178.97h18.75M215.1 178.97h18.75M215.1 180.76h39.9M215.1 181.66h18.75M196.65 184.34h18.75M233.55 184.34h21.45M85.95 191.51h18.75M64.5 192.41h21.75M141.3 204.95h18.75M85.95 208.53h18.75M85.95 213.01h18.75M85.95 215.7h37.2M64.5 217.49h40.2M141.3 217.49h18.75"/>
<path stroke="#fee090" d="M141.3 57.14h18.75M122.85 58.03h18.75M159.75 65.2h18.75M141.3 66.09h18.75M122.85 70.57h37.2M141.3 72.36h18.75M141.3 74.16h18.75M159.75 85.8h18.75M85.95 91.18h18.75M85.95 101.03h18.75M233.55 119.84h21.45M178.2 121.64h18.75M178.2 127.91h18.75M215.1 127.91h18.75M178.2 128.8h18.75M215.1 129.7h18.75M159.75 142.24h18.75M159.75 143.14h18.75M233.55 143.14h21.45M159.75 144.03h18.75M233.55 144.03h21.45M215.1 144.93h18.75M159.75 148.51h95.25M178.2 152.09h18.75M215.1 152.09h18.75M215.1 157.47h18.75M178.2 159.26h18.75M215.1 159.26h18.75M215.1 161.95h18.75M215.1 162.84h39.9M215.1 163.74h18.75M196.65 164.64h18.75M178.2 172.7h18.75M159.75 176.28h18.75M215.1 178.07h39.9M215.1 179.86h18.75M178.2 184.34h18.75M215.1 184.34h18.75M85.95 190.61h18.75M85.95 192.41h18.75M141.3 203.16h18.75M122.85 204.05h18.75M64.5 204.95h21.75M141.3 205.84h18.75M85.95 209.43h18.75M64.5 213.01h21.75M141.3 215.7h18.75M104.4 217.49h18.75M141.3 218.39h18.75"/>
<path stroke="#fee699" d="M64.5 53.55h21.75M64.5 52.66h21.75M64.5 51.76h21.75M64.5 50.86h21.75M64.5 54.45h21.75M64.5 58.03h40.2M178.2 65.2h55.65M141.3 67.89h18.75M85.95 77.74h18.75M85.95 78.64h18.75M178.2 109.99h18.75M178.2 110.89h18.75M159.75 113.57h18.75M178.2 120.74h18.75M215.1 130.59h18.75M178.2 131.49h18.75M159.75 139.55h18.75M196.65 142.24h18.75M233.55 142.24h21.45M196.65 143.14h18.75M196.65 146.72h18.75M178.2 150.3h18.75M196.65 155.68h18.75M215.1 158.36h39.9M233.55 161.05h21.45M233.55 161.95h21.45M196.65 163.74h18.75M233.55 163.74h21.45M233.55 164.64h21.45M159.75 165.53h18.75M159.75 166.43h18.75M215.1 166.43h18.75M196.65 168.22h18.75M159.75 170.01h18.75M159.75 171.8h18.75M215.1 171.8h18.75M215.1 172.7h18.75M159.75 175.39h18.75M178.2 178.07h18.75M196.65 179.86h18.75M233.55 179.86h21.45M178.2 183.45h18.75M64.5 202.26h21.75M64.5 203.16h21.75M122.85 203.16h18.75M64.5 204.05h21.75M141.3 204.05h18.75M64.5 205.84h21.75M104.4 206.74h18.75M64.5 212.11h21.75M141.3 216.59h18.75M104.4 220.18h18.75"/>
<path stroke="#feeca3" d="M85.95 53.55h18.75M85.95 52.66h18.75M85.95 51.76h18.75M85.95 50.86h18.75M85.95 54.45h18.75M104.4 58.03h18.75M64.5 60.72h21.75M122.85 62.51h18.75M85.95 71.47h18.75M122.85 72.36h18.75M122.85 90.28h18.75M122.85 94.76h18.75M122.85 95.66h18.75M85.95 103.72h18.75M104.4 109.09h18.75M159.75 111.78h18.75M178.2 118.95h18.75M233.55 118.95h21.45M178.2 119.84h18.75M215.1 133.28h18.75M178.2 134.18h18.75M215.1 135.97h39.9M159.75 138.66h18.75M159.75 150.3h18.75M215.1 150.3h18.75M178.2 151.2h18.75M159.75 153.89h37.2M215.1 153.89h18.75M215.1 155.68h18.75M178.2 158.36h18.75M159.75 161.05h37.2M215.1 161.05h18.75M215.1 165.53h18.75M196.65 170.01h18.75M178.2 170.91h18.75M159.75 172.7h18.75M159.75 173.59h37.2M215.1 173.59h18.75M178.2 179.86h18.75M215.1 182.55h39.9M196.65 183.45h58.35M159.75 199.57h18.75M196.65 199.57h18.75M178.2 200.47h18.75M233.55 200.47h21.45M85.95 202.26h18.75M196.65 202.26h18.75M64.5 207.64h21.75M104.4 208.53h18.75M85.95 216.59h37.2M64.5 218.39h58.65M104.4 219.28h18.75M85.95 221.97h55.65"/>
<path stroke="#fff3ac" d="M64.5 55.34h21.75M85.95 56.24h18.75M141.3 56.24h18.75M104.4 57.14h37.2M64.5 58.93h40.2M85.95 59.82h18.75M85.95 60.72h18.75M104.4 65.2h18.75M85.95 66.99h18.75M122.85 68.78h18.75M64.5 71.47h21.75M122.85 73.26h37.2M64.5 80.43h21.75M122.85 80.43h18.75M64.5 86.7h21.75M64.5 90.28h21.75M64.5 91.18h21.75M64.5 97.45h21.75M122.85 97.45h18.75M122.85 100.14h18.75M104.4 101.93h18.75M104.4 104.61h18.75M104.4 109.99h18.75M141.3 113.57h18.75M141.3 114.47h18.75M141.3 115.36h18.75M85.95 116.26h18.75M64.5 118.95h21.75M64.5 119.84h21.75M215.1 151.2h18.75M122.85 156.57h37.2M141.3 157.47h18.75M196.65 167.32h18.75M196.65 178.97h18.75M178.2 182.55h37.2M159.75 195.09h18.75M178.2 198.68h18.75M233.55 199.57h21.45M196.65 200.47h18.75M122.85 202.26h18.75M178.2 202.26h18.75M178.2 203.16h18.75M64.5 208.53h21.75M122.85 208.53h18.75M64.5 210.32h95.55M85.95 212.11h18.75M104.4 213.01h18.75M141.3 213.01h18.75"/>
<path stroke="#fff9b6" d="M122.85 58.93h18.75M64.5 59.82h21.75M64.5 62.51h40.2M141.3 62.51h18.75M64.5 64.3h21.75M104.4 64.3h18.75M85.95 65.2h18.75M85.95 66.09h37.2M104.4 66.99h18.75M85.95 67.89h37.2M122.85 69.68h18.75M104.4 71.47h18.75M85.95 80.43h18.75M64.5 81.32h21.75M64.5 82.22h40.2M85.95 83.11h18.75M85.95 84.91h18.75M122.85 91.18h18.75M64.5 99.24h40.2M122.85 99.24h18.75M64.5 100.14h40.2M122.85 104.61h18.75M104.4 107.3h18.75M233.55 121.64h21.45M85.95 144.03h18.75M85.95 145.82h18.75M104.4 156.57h18.75M122.85 157.47h18.75M122.85 159.26h37.2M122.85 160.16h37.2M178.2 161.95h18.75M159.75 163.74h37.2M178.2 166.43h18.75M159.75 194.2h18.75M178.2 199.57h18.75M159.75 200.47h18.75M215.1 202.26h18.75M64.5 206.74h21.75M122.85 206.74h18.75M85.95 207.64h18.75M122.85 207.64h37.2M141.3 208.53h18.75M122.85 213.01h18.75M104.4 213.91h18.75M64.5 215.7h21.75M64.5 221.97h21.75M141.3 221.97h18.75"/>
<path stroke="#ffffbf" d="M104.4 53.55h37.2M104.4 52.66h37.2M104.4 51.76h37.2M104.4 50.86h37.2M104.4 54.45h37.2M85.95 55.34h18.75M64.5 56.24h21.75M141.3 58.93h18.75M122.85 60.72h18.75M85.95 64.3h18.75M122.85 64.3h18.75M104.4 68.78h18.75M141.3 68.78h18.75M104.4 69.68h18.75M141.3 69.68h18.75M104.4 70.57h18.75M64.5 72.36h21.75M64.5 87.59h21.75M122.85 92.07h18.75M122.85 92.97h18.75M64.5 98.34h21.75M122.85 98.34h18.75M104.4 101.03h18.75M85.95 118.05h18.75M104.4 157.47h18.75M141.3 158.36h18.75M85.95 159.26h37.2M159.75 161.95h18.75M178.2 162.84h18.75M178.2 169.11h18.75M178.2 204.05h18.75M64.5 209.43h21.75M122.85 209.43h37.2M122.85 211.22h37.2M64.5 213.91h21.75M122.85 213.91h37.2M122.85 214.8h18.75M85.95 220.18h18.75M141.3 220.18h18.75M104.4 221.07h37.2"/>
</g>
<path d="M61.18 55.33L63.5 54.2L63.5 56.46ZM59.77 59.09L63.5 56.46L63.5 61.72ZM60.49 58.56L63.5 56.46L63.5 60.67ZM61.77 57.51L63.5 56.46L63.5 58.56ZM61.8 59.61L63.5 58.56L63.5 60.67ZM60.8 62.85L63.5 61.72L63.5 63.98ZM60.95 65.33L63.5 63.98L63.5 66.68ZM61.83 64.65L63.5 63.98L63.5 65.33ZM60.34 69.84L63.5 66.68L63.5 73ZM61.06 68.89L63.5 66.68L63.5 71.1ZM61.66 68.45L63.5 66.68L63.5 70.22ZM61.92 72.05L63.5 71.1L63.5 73ZM60.95 74.16L63.5 73L63.5 75.31ZM58.8 78L63.5 75.31L63.5 80.7ZM61.13 76.12L63.5 75.31L63.5 76.93ZM59.78 78.81L63.5 76.93L63.5 80.7ZM61.29 77.87L63.5 76.93L63.5 78.81ZM61.14 79.76L63.5 78.81L63.5 80.7ZM59.96 82.35L63.5 80.7L63.5 84ZM61.31 81.53L63.5 80.7L63.5 82.35ZM61.18 83.17L63.5 82.35L63.5 84ZM57.98 86.8L63.5 84L63.5 89.6ZM60.17 85.68L63.5 84L63.5 87.36ZM61.29 84.84L63.5 84L63.5 85.68ZM61.41 86.52L63.5 85.68L63.5 87.36ZM60.37 88.48L63.5 87.36L63.5 89.6ZM60.59 90.44L63.5 89.6L63.5 91.28ZM60.65 92.62L63.5 91.28L63.5 93.97ZM59.96 95.98L63.5 93.97L63.5 98ZM61.28 94.98L63.5 93.97L63.5 95.98ZM61.12 96.99L63.5 95.98L63.5 98ZM55.67 100.7L63.5 98L63.5 103.4ZM56.87 100.16L63.5 98L63.5 102.32ZM58.53 100.59L63.5 98.86L63.5 102.32ZM60.44 99.73L63.5 98.86L63.5 100.59ZM60.41 101.46L63.5 100.59L63.5 102.32ZM57.69 105.2L63.5 103.4L63.5 107ZM59.66 104.3L63.5 103.4L63.5 105.2ZM59.9 106.1L63.5 105.2L63.5 107ZM60.64 110.04L63.5 107L63.5 113.08ZM61.55 108.82L63.5 107L63.5 110.65ZM61.04 115.51L63.5 113.08L63.5 117.94ZM61.69 116.24L63.5 114.54L63.5 117.94ZM61.94 119.89L63.5 117.94L63.5 121.84ZM61.63 124.75L63.5 121.84L63.5 127.67ZM61.97 130.1L63.5 127.67L63.5 132.54ZM61.92 134.97L63.5 132.54L63.5 137.4ZM61.26 139.3L63.5 137.4L63.5 141.2ZM61.89 139.87L63.5 138.54L63.5 141.2ZM61.51 143.1L63.5 141.2L63.5 145ZM60.61 146.9L63.5 145L63.5 148.8ZM61.29 147.28L63.5 145.76L63.5 148.8ZM59.93 151.65L63.5 148.8L63.5 154.5ZM60.97 151.08L63.5 148.8L63.5 153.36ZM61.7 150.4L63.5 148.8L63.5 151.99ZM60.52 156.88L63.5 154.5L63.5 159.25ZM61.86 155.45L63.5 154.5L63.5 156.4ZM61.59 157.82L63.5 156.4L63.5 159.25ZM60.55 161.62L63.5 159.25L63.5 164ZM61.95 159.96L63.5 159.25L63.5 160.68ZM61.52 162.34L63.5 160.68L63.5 164ZM58.72 166.7L63.5 164L63.5 169.4ZM60.11 166.16L63.5 164L63.5 168.32ZM61.12 166.81L63.5 165.3L63.5 168.32ZM61.86 167.56L63.5 166.81L63.5 168.32ZM59 172.1L63.5 169.4L63.5 174.8ZM60.74 171.02L63.5 169.4L63.5 172.64ZM61.91 170.21L63.5 169.4L63.5 171.02ZM61.74 171.83L63.5 171.02L63.5 172.64ZM60.97 173.72L63.5 172.64L63.5 174.8ZM60.07 176.6L63.5 174.8L63.5 178.4ZM61.17 175.7L63.5 174.8L63.5 176.6ZM61.55 177.5L63.5 176.6L63.5 178.4ZM59.78 180.2L63.5 178.4L63.5 182ZM61.14 179.3L63.5 178.4L63.5 180.2ZM61.44 181.1L63.5 180.2L63.5 182ZM44.7 185L63.5 182L63.5 188ZM50.25 185.6L63.5 183.2L63.5 188ZM54.84 184.88L63.5 183.2L63.5 186.56ZM58.72 184.04L63.5 183.2L63.5 184.88ZM57.86 185.72L63.5 184.88L63.5 186.56ZM57.53 187.28L63.5 186.56L63.5 188ZM57.13 191L63.5 188L63.5 194ZM59.5 189.5L63.5 188L63.5 191ZM60.87 188.75L63.5 188L63.5 189.5ZM60.79 190.25L63.5 189.5L63.5 191ZM60.06 192.5L63.5 191L63.5 194ZM61.44 191.75L63.5 191L63.5 192.5ZM61.56 193.25L63.5 192.5L63.5 194ZM57.72 197L63.5 194L63.5 200ZM60.92 194.9L63.5 194L63.5 195.8ZM59.04 197.9L63.5 195.8L63.5 200ZM60.67 197.06L63.5 195.8L63.5 198.32ZM61.02 199.16L63.5 198.32L63.5 200ZM59.57 201.75L63.5 200L63.5 203.5ZM60.81 200.88L63.5 200L63.5 201.75ZM61.1 202.62L63.5 201.75L63.5 203.5ZM59.13 205.25L63.5 203.5L63.5 207ZM60.53 204.38L63.5 203.5L63.5 205.25ZM61.09 206.12L63.5 205.25L63.5 207ZM60.97 208.12L63.5 207L63.5 209.25ZM59.86 211.88L63.5 209.25L63.5 214.5ZM61.1 211.09L63.5 209.25L63.5 212.93ZM61.7 211.64L63.5 210.35L63.5 212.93ZM61.7 213.71L63.5 212.93L63.5 214.5ZM59.97 216.38L63.5 214.5L63.5 218.25ZM60.57 216L63.5 214.5L63.5 217.5ZM61.81 215.25L63.5 214.5L63.5 216ZM61.54 216.75L63.5 216L63.5 217.5ZM60.27 220.12L63.5 218.25L63.5 222ZM61.8 219L63.5 218.25L63.5 219.75ZM61.47 220.88L63.5 219.75L63.5 222ZM52.2 224L63.5 222L63.5 226ZM57.39 223L63.5 222L63.5 224ZM56.71 225L63.5 224L63.5 226Z" fill="#444" fill-opacity="0.45"/>
<path d="M61.18 54.76L61.18 55.89M61.18 54.76L63.2 54.76M61.18 55.89L63.2 55.89M61.77 56.98L61.77 58.04M61.77 56.98L63.2 56.98M61.77 58.04L63.2 58.04M61.8 59.09L61.8 60.14M61.8 59.09L63.2 59.09M61.8 60.14L63.2 60.14M60.49 57.51L60.49 59.61M60.49 57.51L61.77 57.51M60.49 59.61L61.8 59.61M59.77 58.56L59.77 61.19M59.77 58.56L60.49 58.56M59.77 61.19L63.2 61.19M58.34 55.33L58.34 59.88M58.34 55.33L61.18 55.33M58.34 59.88L59.77 59.88M60.8 62.28L60.8 63.41M60.8 62.28L63.2 62.28M60.8 63.41L63.2 63.41M61.83 64.31L61.83 64.99M61.83 64.31L63.2 64.31M61.83 64.99L63.2 64.99M62.04 65.67L62.04 66.34M62.04 65.67L63.2 65.67M62.04 66.34L63.2 66.34M60.95 64.65L60.95 66.01M60.95 64.65L61.83 64.65M60.95 66.01L62.04 66.01M62.2 67.13L62.2 68.01M62.2 67.13L63.2 67.13M62.2 68.01L63.2 68.01M62.2 68.89L62.2 69.78M62.2 68.89L63.2 68.89M62.2 69.78L63.2 69.78M61.66 67.57L61.66 69.34M61.66 67.57L62.2 67.57M61.66 69.34L62.2 69.34M61.06 68.45L61.06 70.66M61.06 68.45L61.66 68.45M61.06 70.66L63.2 70.66M61.92 71.58L61.92 72.53M61.92 71.58L63.2 71.58M61.92 72.53L63.2 72.53M60.34 69.56L60.34 72.05M60.34 69.56L61.06 69.56M60.34 72.05L61.92 72.05M58.6 65.33L58.6 70.8M58.6 65.33L60.95 65.33M58.6 70.8L60.34 70.8M56.76 62.85L56.76 68.07M56.76 62.85L60.8 62.85M56.76 68.07L58.6 68.07M54 57.6L54 65.46M54 57.6L58.34 57.6M54 65.46L56.76 65.46M54 61.53L54 66.2M60.95 73.58L60.95 74.73M60.95 73.58L63.2 73.58M60.95 74.73L63.2 74.73M61.13 75.71L61.13 76.52M61.13 75.71L63.2 75.71M61.13 76.52L63.2 76.52M61.29 77.4L61.29 78.34M61.29 77.4L63.2 77.4M61.29 78.34L63.2 78.34M61.14 79.29L61.14 80.23M61.14 79.29L63.2 79.29M61.14 80.23L63.2 80.23M59.78 77.87L59.78 79.76M59.78 77.87L61.29 77.87M59.78 79.76L61.14 79.76M58.8 76.12L58.8 78.81M58.8 76.12L61.13 76.12M58.8 78.81L59.78 78.81M57.67 74.16L57.67 77.47M57.67 74.16L60.95 74.16M57.67 77.47L58.8 77.47M61.31 81.11L61.31 81.94M61.31 81.11L63.2 81.11M61.31 81.94L63.2 81.94M61.18 82.76L61.18 83.59M61.18 82.76L63.2 82.76M61.18 83.59L63.2 83.59M59.96 81.53L59.96 83.17M59.96 81.53L61.31 81.53M59.96 83.17L61.18 83.17M56 75.81L56 82.35M56 75.81L57.67 75.81M56 82.35L59.96 82.35M56 78.3L56 79.08M49.5 66.2L49.5 78.3M49.5 66.2L54 66.2M49.5 78.3L56 78.3M61.29 84.42L61.29 85.26M61.29 84.42L63.2 84.42M61.29 85.26L63.2 85.26M61.41 86.1L61.41 86.94M61.41 86.1L63.2 86.1M61.41 86.94L63.2 86.94M60.17 84.84L60.17 86.52M60.17 84.84L61.29 84.84M60.17 86.52L61.41 86.52M60.37 87.92L60.37 89.04M60.37 87.92L63.2 87.92M60.37 89.04L63.2 89.04M57.98 85.68L57.98 88.48M57.98 85.68L60.17 85.68M57.98 88.48L60.37 88.48M60.59 90.02L60.59 90.86M60.59 90.02L63.2 90.02M60.59 90.86L63.2 90.86M60.65 91.95L60.65 93.3M60.65 91.95L63.2 91.95M60.65 93.3L63.2 93.3M61.28 94.47L61.28 95.48M61.28 94.47L63.2 94.47M61.28 95.48L63.2 95.48M61.12 96.49L61.12 97.5M61.12 96.49L63.2 96.49M61.12 97.5L63.2 97.5M59.96 94.98L59.96 96.99M59.96 94.98L61.28 94.98M59.96 96.99L61.12 96.99M57.84 92.62L57.84 95.98M57.84 92.62L60.65 92.62M57.84 95.98L59.96 95.98M55.79 90.44L55.79 94.3M55.79 90.44L60.59 90.44M55.79 94.3L57.84 94.3M52.8 87.08L52.8 92.37M52.8 87.08L57.98 87.08M52.8 92.37L55.79 92.37M52.8 89.73L52.8 93M60.44 99.3L60.44 100.16M60.44 99.3L63.2 99.3M60.44 100.16L63.2 100.16M60.41 101.02L60.41 101.89M60.41 101.02L63.2 101.02M60.41 101.89L63.2 101.89M58.53 99.73L58.53 101.46M58.53 99.73L60.44 99.73M58.53 101.46L60.41 101.46M56.87 98.43L56.87 100.59M56.87 98.43L63.2 98.43M56.87 100.59L58.53 100.59M55.67 99.51L55.67 102.86M55.67 99.51L56.87 99.51M55.67 102.86L63.2 102.86M59.66 103.85L59.66 104.75M59.66 103.85L63.2 103.85M59.66 104.75L63.2 104.75M59.9 105.65L59.9 106.55M59.9 105.65L63.2 105.65M59.9 106.55L63.2 106.55M57.69 104.3L57.69 106.1M57.69 104.3L59.66 104.3M57.69 106.1L59.9 106.1M52.8 101.19L52.8 105.2M52.8 101.19L55.67 101.19M52.8 105.2L57.69 105.2M52.8 102.6L52.8 103.19M49.9 93L49.9 102.6M49.9 93L52.8 93M49.9 102.6L52.8 102.6M45.6 72.25L45.6 97.8M45.6 72.25L49.5 72.25M45.6 97.8L49.9 97.8M62.2 107.46L62.2 108.37M62.2 107.46L63.2 107.46M62.2 108.37L63.2 108.37M62.2 109.28L62.2 110.19M62.2 109.28L63.2 109.28M62.2 110.19L63.2 110.19M61.55 107.91L61.55 109.74M61.55 107.91L62.2 107.91M61.55 109.74L62.2 109.74M62.03 111.26L62.03 112.47M62.03 111.26L63.2 111.26M62.03 112.47L63.2 112.47M60.64 108.82L60.64 111.86M60.64 108.82L61.55 108.82M60.64 111.86L62.03 111.86M62.15 113.44L62.15 114.17M62.15 113.44L63.2 113.44M62.15 114.17L63.2 114.17M62.2 114.96L62.2 115.82M62.2 114.96L63.2 114.96M62.2 115.82L63.2 115.82M62.2 116.67L62.2 117.52M62.2 116.67L63.2 116.67M62.2 117.52L63.2 117.52M61.69 115.39L61.69 117.09M61.69 115.39L62.2 115.39M61.69 117.09L62.2 117.09M61.04 113.81L61.04 116.24M61.04 113.81L62.15 113.81M61.04 116.24L61.69 116.24M62.2 118.43L62.2 119.4M62.2 118.43L63.2 118.43M62.2 119.4L63.2 119.4M62.2 120.38L62.2 121.35M62.2 120.38L63.2 120.38M62.2 121.35L63.2 121.35M61.94 118.92L61.94 120.86M61.94 118.92L62.2 118.92M61.94 120.86L62.2 120.86M62.2 123.35L62.2 124.05M62.2 123.35L63.2 123.35M62.2 124.05L63.2 124.05M62.2 124.75L62.2 125.45M62.2 124.75L63.2 124.75M62.2 125.45L63.2 125.45M62.2 123.7L62.2 125.1M62.2 123.7L62.2 123.7M62.2 125.1L62.2 125.1M62.2 126.27L62.2 127.21M62.2 126.27L63.2 126.27M62.2 127.21L63.2 127.21M62.2 124.4L62.2 126.74M62.2 124.4L62.2 124.4M62.2 126.74L62.2 126.74M61.63 122.42L61.63 125.57M61.63 122.42L63.2 122.42M61.63 125.57L62.2 125.57M60.87 119.89L60.87 123.99M60.87 119.89L61.94 119.89M60.87 123.99L61.63 123.99M62.2 128.16L62.2 129.13M62.2 128.16L63.2 128.16M62.2 129.13L63.2 129.13M62.2 129.98L62.2 130.71M62.2 129.98L63.2 129.98M62.2 130.71L63.2 130.71M62.2 131.44L62.2 132.17M62.2 131.44L63.2 131.44M62.2 132.17L63.2 132.17M62.2 130.35L62.2 131.81M62.2 130.35L62.2 130.35M62.2 131.81L62.2 131.81M61.97 128.64L61.97 131.08M61.97 128.64L62.2 128.64M61.97 131.08L62.2 131.08M62.2 134.09L62.2 135.26M62.2 134.09L63.2 134.09M62.2 135.26L63.2 135.26M62.2 136.23L62.2 137.01M62.2 136.23L63.2 136.23M62.2 137.01L63.2 137.01M62.2 134.68L62.2 136.62M62.2 134.68L62.2 134.68M62.2 136.62L62.2 136.62M61.92 133.02L61.92 135.65M61.92 133.02L63.2 133.02M61.92 135.65L62.2 135.65M60.81 129.86L60.81 134.34M60.81 129.86L61.97 129.86M60.81 134.34L61.92 134.34M58.74 121.94L58.74 132.1M58.74 121.94L60.87 121.94M58.74 132.1L60.81 132.1M57.59 115.03L57.59 127.02M57.59 115.03L61.04 115.03M57.59 127.02L58.74 127.02M56.05 110.34L56.05 121.02M56.05 110.34L60.64 110.34M56.05 121.02L57.59 121.02M61.89 139.2L61.89 140.53M61.89 139.2L63.2 139.2M61.89 140.53L63.2 140.53M61.26 137.97L61.26 139.87M61.26 137.97L63.2 137.97M61.26 139.87L61.89 139.87M62.2 141.58L62.2 142.34M62.2 141.58L63.2 141.58M62.2 142.34L63.2 142.34M62.17 143.29L62.17 144.43M62.17 143.29L63.2 143.29M62.17 144.43L63.2 144.43M61.51 141.96L61.51 143.86M61.51 141.96L62.2 141.96M61.51 143.86L62.17 143.86M60.18 138.92L60.18 142.91M60.18 138.92L61.26 138.92M60.18 142.91L61.51 142.91M54.5 115.68L54.5 140.92M54.5 115.68L56.05 115.68M54.5 140.92L60.18 140.92M54.5 126L54.5 128.3M62.19 146.14L62.19 146.9M62.19 146.14L63.2 146.14M62.19 146.9L63.2 146.9M62.06 147.66L62.06 148.42M62.06 147.66L63.2 147.66M62.06 148.42L63.2 148.42M61.29 146.52L61.29 148.04M61.29 146.52L62.19 146.52M61.29 148.04L62.06 148.04M60.61 145.38L60.61 147.28M60.61 145.38L63.2 145.38M60.61 147.28L61.29 147.28M62.2 149.2L62.2 150M62.2 149.2L63.2 149.2M62.2 150L63.2 150M62.2 150.8L62.2 151.59M62.2 150.8L63.2 150.8M62.2 151.59L63.2 151.59M61.7 149.6L61.7 151.19M61.7 149.6L62.2 149.6M61.7 151.19L62.2 151.19M62.2 152.33L62.2 153.02M62.2 152.33L63.2 152.33M62.2 153.02L63.2 153.02M60.97 150.4L60.97 152.68M60.97 150.4L61.7 150.4M60.97 152.68L62.2 152.68M59.93 151.54L59.93 153.93M59.93 151.54L60.97 151.54M59.93 153.93L63.2 153.93M58.6 146.33L58.6 152.73M58.6 146.33L60.61 146.33M58.6 152.73L59.93 152.73M61.86 154.97L61.86 155.93M61.86 154.97L63.2 154.97M61.86 155.93L63.2 155.93M62.19 156.76L62.19 157.47M62.19 156.76L63.2 156.76M62.19 157.47L63.2 157.47M62.2 158.18L62.2 158.89M62.2 158.18L63.2 158.18M62.2 158.89L63.2 158.89M61.59 157.11L61.59 158.54M61.59 157.11L62.19 157.11M61.59 158.54L62.2 158.54M60.52 155.45L60.52 157.82M60.52 155.45L61.86 155.45M60.52 157.82L61.59 157.82M61.95 159.61L61.95 160.32M61.95 159.61L63.2 159.61M61.95 160.32L63.2 160.32M62.12 161.09L62.12 161.92M62.12 161.09L63.2 161.09M62.12 161.92L63.2 161.92M62.2 162.75L62.2 163.58M62.2 162.75L63.2 162.75M62.2 163.58L63.2 163.58M61.52 161.51L61.52 163.17M61.52 161.51L62.12 161.51M61.52 163.17L62.2 163.17M60.55 159.96L60.55 162.34M60.55 159.96L61.95 159.96M60.55 162.34L61.52 162.34M59.01 156.64L59.01 161.15M59.01 156.64L60.52 156.64M59.01 161.15L60.55 161.15M56.2 149.53L56.2 158.89M56.2 149.53L58.6 149.53M56.2 158.89L59.01 158.89M56.2 154.21L56.2 155.4M52.8 126L52.8 155.4M52.8 126L54.5 126M52.8 155.4L56.2 155.4M62.11 165.67L62.11 166.43M62.11 165.67L63.2 165.67M62.11 166.43L63.2 166.43M61.86 167.19L61.86 167.94M61.86 167.19L63.2 167.19M61.86 167.94L63.2 167.94M61.12 166.05L61.12 167.56M61.12 166.05L62.11 166.05M61.12 167.56L61.86 167.56M60.11 164.65L60.11 166.81M60.11 164.65L63.2 164.65M60.11 166.81L61.12 166.81M58.72 165.73L58.72 168.86M58.72 165.73L60.11 165.73M58.72 168.86L63.2 168.86M61.91 169.81L61.91 170.62M61.91 169.81L63.2 169.81M61.91 170.62L63.2 170.62M61.74 171.43L61.74 172.24M61.74 171.43L63.2 171.43M61.74 172.24L63.2 172.24M60.74 170.21L60.74 171.83M60.74 170.21L61.91 170.21M60.74 171.83L61.74 171.83M60.97 173.18L60.97 174.26M60.97 173.18L63.2 173.18M60.97 174.26L63.2 174.26M59 171.02L59 173.72M59 171.02L60.74 171.02M59 173.72L60.97 173.72M56.23 167.29L56.23 172.37M56.23 167.29L58.72 167.29M56.23 172.37L59 172.37M61.17 175.25L61.17 176.15M61.17 175.25L63.2 175.25M61.17 176.15L63.2 176.15M61.55 177.05L61.55 177.95M61.55 177.05L63.2 177.05M61.55 177.95L63.2 177.95M60.07 175.7L60.07 177.5M60.07 175.7L61.17 175.7M60.07 177.5L61.55 177.5M61.14 178.85L61.14 179.75M61.14 178.85L63.2 178.85M61.14 179.75L63.2 179.75M61.44 180.65L61.44 181.55M61.44 180.65L63.2 180.65M61.44 181.55L63.2 181.55M59.78 179.3L59.78 181.1M59.78 179.3L61.14 179.3M59.78 181.1L61.44 181.1M57.96 176.6L57.96 180.2M57.96 176.6L60.07 176.6M57.96 180.2L59.78 180.2M52 169.83L52 178.4M52 169.83L56.23 169.83M52 178.4L57.96 178.4M52 174.12L52 176M48.4 140.7L48.4 176M48.4 140.7L52.8 140.7M48.4 176L52 176M37.5 85.03L37.5 158.35M37.5 85.03L45.6 85.03M37.5 158.35L48.4 158.35M58.72 183.62L58.72 184.46M58.72 183.62L63.2 183.62M58.72 184.46L63.2 184.46M57.86 185.3L57.86 186.14M57.86 185.3L63.2 185.3M57.86 186.14L63.2 186.14M54.84 184.04L54.84 185.72M54.84 184.04L58.72 184.04M54.84 185.72L57.86 185.72M57.53 186.92L57.53 187.64M57.53 186.92L63.2 186.92M57.53 187.64L63.2 187.64M50.25 184.88L50.25 187.28M50.25 184.88L54.84 184.88M50.25 187.28L57.53 187.28M44.7 182.6L44.7 186.08M44.7 182.6L63.2 182.6M44.7 186.08L50.25 186.08M44.7 184.34L44.7 185.3M26.2 121.69L26.2 185.3M26.2 121.69L37.5 121.69M26.2 185.3L44.7 185.3M60.87 188.38L60.87 189.12M60.87 188.38L63.2 188.38M60.87 189.12L63.2 189.12M60.79 189.88L60.79 190.62M60.79 189.88L63.2 189.88M60.79 190.62L63.2 190.62M59.5 188.75L59.5 190.25M59.5 188.75L60.87 188.75M59.5 190.25L60.79 190.25M61.44 191.38L61.44 192.12M61.44 191.38L63.2 191.38M61.44 192.12L63.2 192.12M61.56 192.88L61.56 193.62M61.56 192.88L63.2 192.88M61.56 193.62L63.2 193.62M60.06 191.75L60.06 193.25M60.06 191.75L61.44 191.75M60.06 193.25L61.56 193.25M57.13 189.5L57.13 192.5M57.13 189.5L59.5 189.5M57.13 192.5L60.06 192.5M60.92 194.45L60.92 195.35M60.92 194.45L63.2 194.45M60.92 195.35L63.2 195.35M60.67 196.43L60.67 197.69M60.67 196.43L63.2 196.43M60.67 197.69L63.2 197.69M61.02 198.74L61.02 199.58M61.02 198.74L63.2 198.74M61.02 199.58L63.2 199.58M59.04 197.06L59.04 199.16M59.04 197.06L60.67 197.06M59.04 199.16L61.02 199.16M57.72 194.9L57.72 198.11M57.72 194.9L60.92 194.9M57.72 198.11L59.04 198.11M53.4 191L53.4 196.5M53.4 191L57.13 191M53.4 196.5L57.72 196.5M53.4 193.75L53.4 195.2M60.81 200.44L60.81 201.31M60.81 200.44L63.2 200.44M60.81 201.31L63.2 201.31M61.1 202.19L61.1 203.06M61.1 202.19L63.2 202.19M61.1 203.06L63.2 203.06M59.57 200.88L59.57 202.62M59.57 200.88L60.81 200.88M59.57 202.62L61.1 202.62M60.53 203.94L60.53 204.81M60.53 203.94L63.2 203.94M60.53 204.81L63.2 204.81M61.09 205.69L61.09 206.56M61.09 205.69L63.2 205.69M61.09 206.56L63.2 206.56M59.13 204.38L59.13 206.12M59.13 204.38L60.53 204.38M59.13 206.12L61.09 206.12M56.8 201.75L56.8 205.25M56.8 201.75L59.57 201.75M56.8 205.25L59.13 205.25M56.8 203.3L56.8 203.5M48.4 195.2L48.4 203.3M48.4 195.2L53.4 195.2M48.4 203.3L56.8 203.3M60.97 207.56L60.97 208.69M60.97 207.56L63.2 207.56M60.97 208.69L63.2 208.69M61.7 211L61.7 212.28M61.7 211L63.2 211M61.7 212.28L63.2 212.28M61.1 209.8L61.1 211.64M61.1 209.8L63.2 209.8M61.1 211.64L61.7 211.64M61.7 213.32L61.7 214.11M61.7 213.32L63.2 213.32M61.7 214.11L63.2 214.11M59.86 210.72L59.86 213.71M59.86 210.72L61.1 210.72M59.86 213.71L61.7 213.71M57.82 208.12L57.82 212.22M57.82 208.12L60.97 208.12M57.82 212.22L59.86 212.22M61.81 214.88L61.81 215.62M61.81 214.88L63.2 214.88M61.81 215.62L63.2 215.62M61.54 216.38L61.54 217.12M61.54 216.38L63.2 216.38M61.54 217.12L63.2 217.12M60.57 215.25L60.57 216.75M60.57 215.25L61.81 215.25M60.57 216.75L61.54 216.75M59.97 216L59.97 217.88M59.97 216L60.57 216M59.97 217.88L63.2 217.88M61.8 218.62L61.8 219.38M61.8 218.62L63.2 218.62M61.8 219.38L63.2 219.38M61.47 220.31L61.47 221.44M61.47 220.31L63.2 220.31M61.47 221.44L63.2 221.44M60.27 219L60.27 220.88M60.27 219L61.8 219M60.27 220.88L61.47 220.88M58.03 216.94L58.03 219.94M58.03 216.94L59.97 216.94M58.03 219.94L60.27 219.94M53.4 210.17L53.4 218.44M53.4 210.17L57.82 210.17M53.4 218.44L58.03 218.44M53.4 214.3L53.4 216.5M42.6 199.25L42.6 216.5M42.6 199.25L48.4 199.25M42.6 216.5L53.4 216.5M57.39 222.5L57.39 223.5M57.39 222.5L63.2 222.5M57.39 223.5L63.2 223.5M56.71 224.5L56.71 225.5M56.71 224.5L63.2 224.5M56.71 225.5L63.2 225.5M52.2 223L52.2 225M52.2 223L57.39 223M52.2 225L56.71 225M52.2 224L52.2 224.6M29 207.88L29 224.6M29 207.88L42.6 207.88M29 224.6L52.2 224.6M17.5 153.49L17.5 216.24M17.5 153.49L26.2 153.49M17.5 216.24L29 216.24" fill="none" stroke="#444" stroke-width="0.6"/>
<rect x="62.8" y="54.2" width="3.4" height="171.8" fill="#858585"/>
<path transform="translate(0.4 0)" d="M76.72 40.5L95.17 40.5M76.72 40.5L76.72 52.4M95.17 40.5L95.17 52.4M132.07 40.5L150.52 40.5M132.07 40.5L132.07 52.4M150.52 40.5L150.52 52.4M113.62 38.5L141.3 38.5M113.62 38.5L113.62 52.4M141.3 38.5L141.3 40.5M85.95 37.5L127.46 37.5M85.95 37.5L85.95 40.5M127.46 37.5L127.46 38.5M168.97 40.5L187.43 40.5M168.97 40.5L168.97 52.4M187.43 40.5L187.43 52.4M224.32 41L242.78 41M224.32 41L224.32 52.4M242.78 41L242.78 52.4M205.88 39.5L233.55 39.5M205.88 39.5L205.88 52.4M233.55 39.5L233.55 41M178.2 38.5L219.71 38.5M178.2 38.5L178.2 40.5M219.71 38.5L219.71 39.5M106.71 6.5L198.96 6.5M106.71 6.5L106.71 37.5M198.96 6.5L198.96 38.5" fill="none" stroke="#555" stroke-width="0.55"/>
<text transform="translate(78.92 227.3) rotate(-90)" font-size="5.0" text-anchor="end" fill="#111" stroke="#111" stroke-width="0.15">HYPER</text>
<text transform="translate(97.38 227.3) rotate(-90)" font-size="5.0" text-anchor="end" fill="#111" stroke="#111" stroke-width="0.15">HYPER</text>
<text transform="translate(115.83 227.3) rotate(-90)" font-size="5.0" text-anchor="end" fill="#111" stroke="#111" stroke-width="0.15">TEL-AML</text>
<text transform="translate(134.28 227.3) rotate(-90)" font-size="5.0" text-anchor="end" fill="#111" stroke="#111" stroke-width="0.15">TEL-AML</text>
<text transform="translate(152.72 227.3) rotate(-90)" font-size="5.0" text-anchor="end" fill="#111" stroke="#111" stroke-width="0.15">TEL-AML</text>
<text transform="translate(171.18 227.3) rotate(-90)" font-size="5.0" text-anchor="end" fill="#111" stroke="#111" stroke-width="0.15">MLL</text>
<text transform="translate(189.63 227.3) rotate(-90)" font-size="5.0" text-anchor="end" fill="#111" stroke="#111" stroke-width="0.15">MLL</text>
<text transform="translate(208.08 227.3) rotate(-90)" font-size="5.0" text-anchor="end" fill="#111" stroke="#111" stroke-width="0.15">MLL</text>
<text transform="translate(226.53 227.3) rotate(-90)" font-size="5.0" text-anchor="end" fill="#111" stroke="#111" stroke-width="0.15">MLL</text>
<text transform="translate(244.98 227.3) rotate(-90)" font-size="5.0" text-anchor="end" fill="#111" stroke="#111" stroke-width="0.15">MLL</text>
<rect x="71.2" y="258" width="91.6" height="4" fill="#4f81bd"/>
<rect x="168" y="258" width="82.5" height="4" fill="#92d050"/>
<text x="89.5" y="252" font-size="3" text-anchor="middle" fill="#444">8</text>
<g transform="translate(0 0)">
<text x="47" y="4.7" font-size="4.6" text-anchor="middle">Methylation</text>
<path d="M24 14.3L69 5.7L69 14.3Z" fill="#dcdcdc" stroke="#a8a8a8" stroke-width="0.4"/>
<rect x="22" y="16" width="4.52" height="4" fill="#313695"/>
<rect x="26.47" y="16" width="4.52" height="4" fill="#4575b4"/>
<rect x="30.95" y="16" width="4.52" height="4" fill="#74add1"/>
<rect x="35.42" y="16" width="4.52" height="4" fill="#abd9e9"/>
<rect x="39.89" y="16" width="4.52" height="4" fill="#e0f3f8"/>
<rect x="44.36" y="16" width="4.52" height="4" fill="#ffffbf"/>
<rect x="48.84" y="16" width="4.52" height="4" fill="#fee090"/>
<rect x="53.31" y="16" width="4.52" height="4" fill="#fdae61"/>
<rect x="57.78" y="16" width="4.52" height="4" fill="#f46d43"/>
<rect x="62.25" y="16" width="4.52" height="4" fill="#d73027"/>
<rect x="66.73" y="16" width="4.52" height="4" fill="#a50026"/>
<text x="23.1" y="27.3" font-size="4.6" text-anchor="middle">-3</text>
<text x="36.9" y="27.3" font-size="4.6" text-anchor="middle">-1.4</text>
<text x="47.25" y="27.3" font-size="4.6" text-anchor="middle">1</text>
<text x="59.6" y="27.3" font-size="4.6" text-anchor="middle">3.4</text>
<text x="70.4" y="27.3" font-size="4.6" text-anchor="middle">5</text>
<text x="1.3" y="33.4" font-size="4.6">Standard deviation from mean log (MspI/HpaII)</text>
</g>
<g filter="url(#bl)" clip-path="url(#clipB)" fill="none" stroke-width="1.25">
<path stroke="#313695" d="M458.54 82.53h18.72M458.54 83.43h18.72M458.54 84.32h18.72M495.38 84.32h21.42M458.54 85.22h18.72M495.38 85.22h21.42M421.7 86.11h95.1M421.7 87.01h95.1M440.12 87.91h76.68M440.12 88.8h76.68M421.7 89.7h95.1M421.7 90.59h95.1M421.7 91.49h95.1M421.7 92.39h95.1M421.7 93.28h73.98M421.7 94.18h73.98M458.54 95.07h18.72M458.54 95.97h18.72M421.7 105.82h73.98M421.7 106.72h73.98M421.7 107.61h95.1M421.7 108.51h95.1M421.7 109.41h73.98M421.7 110.3h73.98M458.54 111.2h37.14M458.54 112.09h37.14M421.7 112.99h18.72M458.54 112.99h18.72M495.38 112.99h21.42M421.7 113.89h18.72M458.54 113.89h18.72M495.38 113.89h21.42M495.38 116.57h21.42M495.38 117.47h21.42M384.86 129.11h18.72M384.86 130.01h18.72M326.6 130.91h40.14M384.86 130.91h37.14M326.6 131.8h40.14M384.86 131.8h37.14M326.6 132.7h40.14M384.86 132.7h37.14M326.6 133.59h40.14M384.86 133.59h37.14M326.6 134.49h40.14M384.86 134.49h37.14M326.6 135.39h40.14M384.86 135.39h37.14M326.6 136.28h40.14M384.86 136.28h37.14M326.6 137.18h40.14M384.86 137.18h37.14M326.6 141.66h95.4M326.6 142.55h95.4M326.6 143.45h95.4M326.6 144.34h95.4M326.6 145.24h95.4M326.6 146.14h95.4M326.6 147.03h95.4M326.6 147.93h95.4M326.6 148.82h95.4M326.6 149.72h95.4M326.6 150.61h95.4M326.6 151.51h95.4M403.28 152.41h18.72M403.28 153.3h18.72M348.02 157.78h18.72M384.86 157.78h18.72M348.02 158.68h18.72M384.86 158.68h18.72M326.6 159.57h40.14M384.86 159.57h37.14M326.6 160.47h40.14M384.86 160.47h37.14M326.6 161.36h21.72M366.44 161.36h55.56M326.6 162.26h21.72M366.44 162.26h55.56M326.6 163.16h21.72M366.44 163.16h55.56M326.6 164.05h21.72M366.44 164.05h55.56M326.6 164.95h21.72M384.86 164.95h37.14M326.6 165.84h21.72M384.86 165.84h37.14M348.02 166.74h18.72M384.86 166.74h37.14M348.02 167.64h18.72M384.86 167.64h37.14M348.02 168.53h18.72M384.86 168.53h37.14M348.02 169.43h18.72M384.86 169.43h37.14M326.6 170.32h21.72M384.86 170.32h37.14M326.6 171.22h21.72M384.86 171.22h37.14M326.6 172.11h21.72M384.86 172.11h37.14M326.6 173.01h21.72M384.86 173.01h37.14M326.6 173.91h95.4M326.6 174.8h95.4M326.6 175.7h95.4M326.6 176.59h95.4M326.6 177.49h95.4M326.6 178.39h95.4M326.6 179.28h95.4M326.6 180.18h95.4M421.7 181.07h95.1M421.7 181.97h95.1M326.6 182.86h190.2M326.6 183.76h190.2M326.6 184.66h132.24M476.96 184.66h39.84M326.6 185.55h132.24M476.96 185.55h39.84M326.6 186.45h190.2M326.6 187.34h190.2M326.6 188.24h190.2M326.6 189.14h190.2M326.6 190.03h95.4M326.6 190.93h95.4M326.6 191.82h95.4M326.6 192.72h95.4M326.6 193.61h95.4M495.38 193.61h21.42M326.6 194.51h95.4M495.38 194.51h21.42M326.6 195.41h95.4M326.6 196.3h95.4M326.6 197.2h95.4M326.6 198.09h95.4M326.6 198.99h95.4M326.6 199.89h95.4M326.6 200.78h95.4M326.6 201.68h95.4M326.6 202.57h95.4M326.6 203.47h95.4M326.6 204.36h95.4M326.6 205.26h95.4M326.6 206.16h95.4M326.6 207.05h95.4M326.6 207.95h95.4M326.6 208.84h95.4M326.6 209.74h113.82M476.96 209.74h18.72M326.6 210.64h113.82M476.96 210.64h18.72M326.6 211.53h95.4M440.12 211.53h18.72M476.96 211.53h18.72M326.6 212.43h95.4M440.12 212.43h18.72M476.96 212.43h18.72M326.6 213.32h95.4M476.96 213.32h18.72M326.6 214.22h95.4M476.96 214.22h18.72M326.6 215.11h95.4M476.96 215.11h18.72M326.6 216.01h95.4M476.96 216.01h18.72M326.6 216.91h95.4M476.96 216.91h18.72M326.6 217.8h95.4M476.96 217.8h18.72M326.6 218.7h113.82M458.54 218.7h37.14M326.6 219.59h113.82M458.54 219.59h37.14M326.6 220.49h95.4M458.54 220.49h37.14M326.6 221.39h95.4M458.54 221.39h37.14M326.6 222.28h132.24M476.96 222.28h18.72M326.6 223.18h132.24M476.96 223.18h18.72M326.6 224.07h132.24M476.96 224.07h18.72M326.6 224.97h132.24M476.96 224.97h18.72M326.6 225.86h95.4M440.12 225.86h18.72M476.96 225.86h18.72M326.6 226.76h95.4M440.12 226.76h18.72M476.96 226.76h18.72M326.6 227.66h132.24M476.96 227.66h18.72M326.6 228.55h132.24M476.96 228.55h18.72M326.6 229.45h132.24M476.96 229.45h18.72M326.6 230.34h132.24M476.96 230.34h18.72M326.6 231.24h132.24M476.96 231.24h18.72M326.6 232.14h132.24M476.96 232.14h18.72M326.6 233.03h132.24M476.96 233.03h18.72M326.6 233.93h132.24M476.96 233.93h18.72"/>
<path stroke="#3d5ca8" d="M348.02 139.86h18.72"/>
<path stroke="#4168ae" d="M421.7 83.43h18.72M476.96 83.43h18.72M440.12 85.22h18.72M495.38 93.28h21.42M495.38 94.18h21.42M495.38 100.45h21.42M495.38 103.14h21.42M348.02 105.82h18.72M458.54 114.78h37.14M440.12 115.68h18.72M476.96 115.68h39.84M421.7 117.47h73.98M348.02 123.74h18.72M348.02 124.64h18.72M326.6 129.11h40.14M326.6 139.86h21.72M384.86 139.86h37.14M348.02 152.41h18.72M384.86 152.41h18.72M348.02 156.89h18.72M384.86 156.89h18.72M326.6 157.78h21.72M403.28 157.78h18.72M348.02 162.26h18.72M476.96 163.16h18.72M476.96 164.05h18.72M476.96 164.95h18.72M476.96 165.84h18.72M326.6 166.74h21.72M366.44 166.74h18.72M348.02 171.22h18.72M421.7 190.03h18.72M476.96 201.68h18.72M476.96 202.57h18.72M476.96 204.36h18.72M421.7 211.53h18.72M421.7 213.32h37.14M421.7 216.01h37.14M421.7 216.91h18.72M421.7 220.49h18.72M495.38 221.39h21.42M458.54 223.18h18.72M421.7 226.76h18.72"/>
<path stroke="#4575b4" d="M421.7 82.53h18.72M476.96 82.53h18.72M421.7 84.32h37.14M476.96 84.32h18.72M421.7 85.22h18.72M476.96 85.22h18.72M421.7 87.91h18.72M421.7 88.8h18.72M440.12 95.07h18.72M495.38 101.34h21.42M421.7 102.24h18.72M495.38 102.24h21.42M421.7 103.14h18.72M440.12 104.03h37.14M495.38 105.82h21.42M366.44 107.61h18.72M421.7 111.2h37.14M495.38 111.2h21.42M440.12 113.89h18.72M421.7 114.78h37.14M495.38 114.78h21.42M421.7 115.68h18.72M458.54 115.68h18.72M458.54 116.57h37.14M326.6 130.01h21.72M366.44 134.49h18.72M366.44 135.39h18.72M366.44 136.28h18.72M366.44 137.18h18.72M326.6 138.07h58.56M403.28 138.07h18.72M326.6 138.97h58.56M403.28 138.97h18.72M326.6 140.76h21.72M384.86 140.76h18.72M326.6 152.41h21.72M384.86 153.3h18.72M326.6 154.2h21.72M403.28 154.2h18.72M326.6 155.09h21.72M403.28 155.09h18.72M348.02 155.99h18.72M384.86 155.99h18.72M366.44 157.78h18.72M366.44 159.57h18.72M348.02 161.36h18.72M348.02 164.05h18.72M366.44 165.84h18.72M476.96 166.74h18.72M476.96 167.64h18.72M326.6 168.53h21.72M366.44 168.53h18.72M326.6 169.43h21.72M348.02 170.32h37.14M366.44 171.22h18.72M348.02 172.11h37.14M348.02 173.01h37.14M458.54 185.55h18.72M476.96 190.03h18.72M476.96 190.93h18.72M421.7 191.82h18.72M421.7 192.72h18.72M421.7 193.61h18.72M421.7 194.51h18.72M476.96 200.78h18.72M476.96 205.26h18.72M458.54 206.16h37.14M458.54 207.05h37.14M421.7 207.95h18.72M440.12 209.74h18.72M440.12 210.64h18.72M421.7 212.43h18.72M421.7 214.22h37.14M440.12 215.11h18.72M458.54 216.91h18.72M421.7 217.8h18.72M458.54 217.8h18.72M495.38 220.49h21.42M421.7 221.39h18.72M458.54 222.28h18.72M421.7 225.86h18.72M495.38 225.86h21.42M495.38 226.76h21.42M458.54 227.66h18.72M495.38 227.66h21.42M458.54 228.55h18.72M495.38 228.55h21.42M458.54 229.45h18.72M495.38 229.45h21.42M458.54 230.34h18.72M495.38 230.34h21.42M458.54 231.24h18.72M495.38 231.24h21.42M458.54 232.14h18.72M495.38 232.14h21.42M458.54 233.03h18.72M495.38 233.03h21.42M458.54 233.93h18.72M495.38 233.93h21.42"/>
<path stroke="#4e80ba" d="M421.7 95.07h18.72M476.96 95.07h39.84M421.7 95.97h37.14M476.96 95.97h39.84M440.12 104.93h37.14M348.02 106.72h18.72M495.38 106.72h21.42M366.44 108.51h18.72M421.7 112.09h37.14M495.38 112.09h21.42M440.12 112.99h18.72M476.96 112.99h18.72M476.96 113.89h18.72M421.7 116.57h37.14M348.02 130.01h18.72M348.02 140.76h18.72M403.28 140.76h18.72M326.6 153.3h40.14M326.6 158.68h21.72M366.44 158.68h18.72M403.28 158.68h18.72M366.44 160.47h18.72M348.02 163.16h18.72M348.02 164.95h37.14M348.02 165.84h18.72M326.6 167.64h21.72M366.44 167.64h18.72M366.44 169.43h18.72M384.86 181.07h18.72M384.86 181.97h18.72M458.54 184.66h18.72M421.7 190.93h18.72M476.96 203.47h18.72M476.96 207.95h18.72M421.7 208.84h18.72M476.96 208.84h18.72M421.7 215.11h18.72"/>
<path stroke="#588bc0" d="M366.44 139.86h18.72M476.96 146.14h18.72M326.6 156.89h21.72M440.12 177.49h18.72M440.12 179.28h18.72M476.96 179.28h18.72M421.7 199.89h18.72M476.96 199.89h18.72M458.54 209.74h18.72M495.38 209.74h21.42M458.54 216.01h18.72M440.12 221.39h18.72"/>
<path stroke="#6197c5" d="M421.7 73.57h18.72M458.54 73.57h18.72M458.54 75.36h18.72M384.86 90.59h18.72M384.86 91.49h18.72M384.86 92.39h18.72M476.96 99.55h18.72M495.38 110.3h21.42M366.44 127.32h18.72M366.44 131.8h18.72M476.96 153.3h18.72M366.44 154.2h18.72M421.7 159.57h18.72M421.7 161.36h18.72M458.54 164.95h18.72M495.38 165.84h21.42M476.96 170.32h18.72M421.7 177.49h18.72M476.96 177.49h18.72M440.12 178.39h18.72M476.96 178.39h18.72M458.54 190.03h18.72M440.12 194.51h18.72M476.96 194.51h18.72M421.7 198.99h18.72M476.96 198.99h18.72M440.12 199.89h37.14M495.38 210.64h21.42M458.54 214.22h18.72M440.12 220.49h18.72M495.38 223.18h21.42M495.38 224.07h21.42"/>
<path stroke="#6ba2cb" d="M495.38 63.72h21.42M495.38 73.57h21.42M458.54 76.26h18.72M421.7 80.74h18.72M440.12 83.43h18.72M384.86 89.7h18.72M384.86 93.28h18.72M458.54 97.76h18.72M495.38 99.55h21.42M421.7 100.45h37.14M476.96 100.45h18.72M421.7 101.34h18.72M458.54 103.14h18.72M403.28 104.03h18.72M384.86 105.82h18.72M495.38 109.41h21.42M366.44 122.84h18.72M326.6 123.74h21.72M366.44 123.74h18.72M366.44 124.64h18.72M348.02 126.43h55.56M326.6 127.32h21.72M384.86 127.32h18.72M366.44 128.22h18.72M403.28 129.11h18.72M366.44 132.7h18.72M384.86 138.07h18.72M384.86 138.97h18.72M366.44 152.41h18.72M348.02 154.2h18.72M384.86 154.2h18.72M495.38 163.16h21.42M495.38 164.95h21.42M458.54 165.84h18.72M476.96 171.22h18.72M476.96 175.7h18.72M421.7 178.39h18.72M421.7 179.28h18.72M458.54 179.28h18.72M458.54 195.41h18.72M421.7 197.2h18.72M476.96 197.2h18.72M476.96 198.09h18.72M421.7 202.57h18.72M421.7 204.36h55.56M421.7 205.26h18.72M458.54 213.32h18.72M495.38 213.32h21.42M495.38 214.22h21.42M495.38 216.01h21.42M440.12 217.8h18.72M458.54 224.07h18.72M458.54 225.86h18.72M458.54 226.76h18.72"/>
<path stroke="#74add1" d="M495.38 62.82h21.42M458.54 74.47h18.72M421.7 79.84h18.72M440.12 82.53h18.72M495.38 83.43h21.42M384.86 94.18h18.72M421.7 96.86h18.72M495.38 96.86h21.42M421.7 97.76h18.72M495.38 97.76h21.42M476.96 98.66h39.84M421.7 99.55h18.72M440.12 101.34h18.72M476.96 101.34h18.72M440.12 102.24h37.14M440.12 103.14h18.72M421.7 104.03h18.72M384.86 106.72h18.72M384.86 107.61h18.72M326.6 124.64h21.72M326.6 126.43h21.72M326.6 128.22h21.72M366.44 133.59h18.72M421.7 143.45h18.72M421.7 144.34h18.72M476.96 147.93h18.72M366.44 155.09h37.14M366.44 156.89h18.72M403.28 156.89h18.72M421.7 162.26h18.72M495.38 164.05h21.42M421.7 166.74h18.72M440.12 180.18h18.72M326.6 181.07h21.72M476.96 191.82h18.72M476.96 192.72h39.84M421.7 196.3h18.72M421.7 198.09h18.72M440.12 198.99h37.14M421.7 200.78h18.72M421.7 201.68h18.72M440.12 205.26h37.14M440.12 206.16h18.72M495.38 206.16h21.42M421.7 207.05h37.14M495.38 207.05h21.42M458.54 210.64h18.72M440.12 216.91h18.72M495.38 216.91h21.42M440.12 219.59h18.72M495.38 219.59h21.42M458.54 224.97h18.72M495.38 224.97h21.42"/>
<path stroke="#7fb6d6" d="M495.38 64.61h21.42M495.38 65.51h21.42M421.7 74.47h18.72M495.38 74.47h21.42M421.7 81.64h18.72M458.54 96.86h18.72M495.38 104.03h21.42M421.7 104.93h18.72M476.96 104.93h39.84M366.44 109.41h18.72M366.44 110.3h18.72M366.44 117.47h18.72M326.6 120.16h40.14M326.6 121.95h21.72M326.6 122.84h40.14M326.6 125.53h21.72M384.86 125.53h18.72M384.86 128.22h18.72M476.96 152.41h18.72M366.44 153.3h18.72M348.02 155.09h18.72M366.44 155.99h18.72M403.28 155.99h18.72M421.7 160.47h18.72M476.96 168.53h18.72M476.96 173.91h18.72M476.96 176.59h18.72M421.7 180.18h18.72M476.96 180.18h18.72M366.44 181.07h18.72M403.28 181.07h18.72M458.54 190.93h18.72M495.38 191.82h21.42M440.12 193.61h18.72M421.7 195.41h37.14M476.96 195.41h18.72M458.54 196.3h37.14M421.7 206.16h18.72M440.12 207.95h18.72M440.12 208.84h37.14M458.54 215.11h18.72M495.38 215.11h21.42M495.38 217.8h21.42M440.12 218.7h18.72M495.38 222.28h21.42"/>
<path stroke="#8abfdb" d="M421.7 78.95h18.72M458.54 80.74h18.72M495.38 82.53h21.42M421.7 98.66h18.72M476.96 104.03h18.72M403.28 104.93h18.72M384.86 108.51h18.72M366.44 116.57h18.72M348.02 121.05h18.72M348.02 121.95h37.14M348.02 125.53h18.72M403.28 130.01h18.72M366.44 130.91h18.72M476.96 145.24h18.72M476.96 147.03h18.72M326.6 155.99h21.72M458.54 161.36h37.14M440.12 164.95h18.72M421.7 167.64h18.72M476.96 169.43h18.72M476.96 174.8h18.72M458.54 178.39h18.72M458.54 180.18h18.72M326.6 181.97h21.72M366.44 181.97h18.72M403.28 181.97h18.72M476.96 193.61h18.72M440.12 196.3h18.72M458.54 202.57h18.72M421.7 203.47h18.72M495.38 218.7h21.42"/>
<path stroke="#95c7df" d="M476.96 69.99h18.72M421.7 76.26h18.72M421.7 77.16h18.72M495.38 77.16h21.42M440.12 80.74h18.72M476.96 97.76h18.72M403.28 105.82h18.72M326.6 121.05h21.72M384.86 123.74h18.72M366.44 125.53h18.72M348.02 127.32h18.72M366.44 140.76h18.72M458.54 143.45h18.72M476.96 149.72h18.72M440.12 159.57h18.72M440.12 161.36h18.72M495.38 161.36h21.42M421.7 163.16h18.72M458.54 163.16h18.72M458.54 166.74h18.72M440.12 173.01h18.72M476.96 173.01h18.72M421.7 175.7h18.72M458.54 177.49h18.72M495.38 190.03h21.42M458.54 192.72h18.72M440.12 201.68h37.14M495.38 201.68h21.42M495.38 205.26h21.42M458.54 207.95h18.72"/>
<path stroke="#a0d0e4" d="M495.38 61.93h21.42M476.96 70.89h18.72M458.54 71.78h37.14M476.96 73.57h18.72M476.96 74.47h18.72M476.96 75.36h18.72M476.96 76.26h18.72M440.12 77.16h37.14M495.38 80.74h21.42M440.12 99.55h37.14M458.54 100.45h18.72M476.96 103.14h18.72M348.02 107.61h18.72M403.28 107.61h18.72M326.6 118.36h21.72M366.44 118.36h18.72M403.28 122.84h18.72M403.28 127.32h18.72M366.44 129.11h18.72M495.38 159.57h21.42M421.7 164.05h18.72M421.7 164.95h18.72M421.7 165.84h37.14M440.12 166.74h18.72M495.38 166.74h21.42M421.7 170.32h37.14M421.7 171.22h37.14M421.7 172.11h18.72M476.96 172.11h18.72M421.7 173.01h18.72M440.12 173.91h18.72M440.12 175.7h37.14M440.12 190.03h18.72M458.54 194.51h18.72M440.12 197.2h18.72M495.38 200.78h21.42M440.12 202.57h18.72M495.38 202.57h21.42M495.38 211.53h21.42"/>
<path stroke="#abd9e9" d="M495.38 61.03h21.42M421.7 75.36h18.72M421.7 78.05h18.72M458.54 78.05h18.72M458.54 79.84h18.72M440.12 96.86h18.72M476.96 96.86h18.72M440.12 97.76h18.72M476.96 102.24h18.72M326.6 107.61h21.72M326.6 109.41h21.72M326.6 110.3h21.72M384.86 110.3h18.72M384.86 114.78h18.72M403.28 120.16h18.72M403.28 121.95h18.72M384.86 124.64h18.72M348.02 128.22h18.72M458.54 142.55h18.72M476.96 148.82h18.72M495.38 150.61h21.42M458.54 159.57h18.72M458.54 160.47h18.72M440.12 162.26h76.68M440.12 163.16h18.72M440.12 164.05h37.14M458.54 167.64h18.72M421.7 168.53h37.14M440.12 169.43h18.72M440.12 172.11h18.72M421.7 173.91h18.72M440.12 176.59h18.72M440.12 190.93h18.72M458.54 191.82h18.72M440.12 192.72h18.72M458.54 193.61h18.72M458.54 197.2h18.72M440.12 198.09h18.72M440.12 200.78h37.14M440.12 203.47h18.72M495.38 204.36h21.42M458.54 211.53h18.72"/>
<path stroke="#b6deec" d="M421.7 71.78h18.72M440.12 78.05h18.72M495.38 78.05h21.42M495.38 79.84h21.42M440.12 81.64h18.72M440.12 98.66h37.14M458.54 101.34h18.72M403.28 106.72h18.72M348.02 108.51h18.72M384.86 109.41h18.72M326.6 119.26h21.72M366.44 120.16h18.72M458.54 144.34h18.72M495.38 151.51h21.42M458.54 168.53h18.72M495.38 168.53h21.42M458.54 169.43h18.72M495.38 169.43h21.42M421.7 174.8h18.72M348.02 181.07h18.72M440.12 191.82h18.72M458.54 198.09h18.72M458.54 203.47h18.72M458.54 212.43h18.72"/>
<path stroke="#c0e3ef" d="M458.54 68.2h18.72M440.12 76.26h18.72M440.12 78.95h37.14M495.38 78.95h21.42M440.12 79.84h18.72M458.54 81.64h18.72M495.38 81.64h21.42M326.6 108.51h21.72M384.86 115.68h18.72M366.44 119.26h18.72M403.28 128.22h18.72M366.44 130.01h18.72M458.54 141.66h18.72M458.54 156.89h18.72M440.12 160.47h18.72M495.38 160.47h21.42M440.12 167.64h18.72M495.38 167.64h21.42M421.7 169.43h18.72M440.12 174.8h18.72M421.7 176.59h18.72M458.54 176.59h18.72M495.38 179.28h21.42M348.02 181.97h18.72M495.38 190.93h21.42M495.38 203.47h21.42M495.38 208.84h21.42M495.38 212.43h21.42"/>
<path stroke="#cbe9f2" d="M476.96 68.2h18.72M458.54 69.99h18.72M421.7 72.68h18.72M458.54 72.68h37.14M495.38 76.26h21.42M476.96 80.74h18.72M384.86 99.55h18.72M403.28 108.51h18.72M366.44 111.2h18.72M366.44 121.05h18.72M403.28 121.05h18.72M403.28 123.74h18.72M403.28 124.64h18.72M421.7 146.14h18.72M458.54 146.14h18.72M458.54 149.72h18.72M458.54 153.3h18.72M495.38 153.3h21.42M440.12 156.89h18.72M495.38 156.89h21.42M458.54 173.01h18.72M495.38 207.95h21.42"/>
<path stroke="#d5eef5" d="M421.7 61.03h18.72M421.7 61.93h18.72M421.7 62.82h18.72M421.7 69.99h18.72M421.7 70.89h18.72M440.12 73.57h18.72M495.38 75.36h21.42M476.96 77.16h18.72M326.6 104.03h21.72M326.6 105.82h21.72M366.44 105.82h18.72M326.6 111.2h21.72M384.86 111.2h18.72M348.02 112.09h18.72M403.28 118.36h18.72M458.54 140.76h18.72M458.54 148.82h18.72M421.7 149.72h37.14M495.38 152.41h21.42M476.96 156.89h18.72M476.96 159.57h18.72M458.54 170.32h18.72M495.38 170.32h21.42M495.38 171.22h21.42M495.38 173.91h21.42M495.38 175.7h21.42M495.38 177.49h21.42M495.38 178.39h21.42M495.38 197.2h21.42M495.38 198.09h21.42M495.38 198.99h21.42M495.38 199.89h21.42"/>
<path stroke="#d73027" d="M366.44 64.61h18.72M366.44 67.3h18.72"/>
<path stroke="#e0f3f8" d="M440.12 62.82h18.72M421.7 63.72h37.14M440.12 69.99h18.72M495.38 69.99h21.42M440.12 70.89h18.72M495.38 70.89h21.42M495.38 71.78h21.42M440.12 75.36h18.72M476.96 78.05h18.72M384.86 104.03h18.72M348.02 111.2h18.72M403.28 111.2h18.72M366.44 112.09h18.72M403.28 116.57h18.72M495.38 146.14h21.42M421.7 147.93h18.72M421.7 148.82h37.14M458.54 152.41h18.72M421.7 157.78h37.14M495.38 157.78h21.42M458.54 171.22h18.72M458.54 172.11h18.72M495.38 173.01h21.42"/>
<path stroke="#e34832" d="M326.6 59.24h21.72M326.6 63.72h21.72M366.44 66.41h18.72M421.7 119.26h18.72"/>
<path stroke="#e6f5ed" d="M421.7 64.61h18.72M421.7 65.51h18.72M476.96 69.09h18.72M458.54 70.89h18.72M440.12 71.78h18.72M440.12 74.47h18.72M476.96 78.95h18.72M476.96 81.64h18.72M384.86 98.66h18.72M326.6 106.72h21.72M403.28 109.41h18.72M348.02 110.3h18.72M403.28 110.3h18.72M326.6 112.09h21.72M384.86 112.09h37.14M326.6 112.99h21.72M326.6 113.89h21.72M384.86 113.89h18.72M348.02 114.78h18.72M326.6 115.68h21.72M366.44 115.68h18.72M326.6 117.47h21.72M403.28 119.26h18.72M403.28 126.43h18.72M476.96 143.45h18.72M458.54 147.93h18.72M458.54 150.61h37.14M476.96 151.51h18.72M440.12 153.3h18.72M476.96 154.2h18.72M440.12 155.99h18.72M476.96 155.99h18.72M421.7 156.89h18.72M458.54 157.78h37.14M421.7 158.68h55.56M495.38 158.68h21.42M476.96 160.47h18.72M495.38 172.11h21.42M458.54 173.91h18.72M458.54 174.8h18.72M495.38 174.8h21.42M495.38 176.59h21.42M495.38 180.18h21.42M495.38 195.41h21.42"/>
<path stroke="#e85538" d="M403.28 56.55h18.72M403.28 55.66h18.72M403.28 54.76h18.72M403.28 53.86h18.72M403.28 57.45h18.72M366.44 59.24h18.72M326.6 61.03h21.72M366.44 63.72h18.72M326.6 64.61h21.72M366.44 65.51h18.72M348.02 84.32h18.72M348.02 85.22h18.72M458.54 119.26h18.72"/>
<path stroke="#ecf8e1" d="M495.38 59.24h21.42M495.38 60.14h21.42M495.38 68.2h21.42M458.54 69.09h18.72M476.96 79.84h18.72M384.86 103.14h18.72M326.6 104.93h21.72M366.44 106.72h18.72M348.02 109.41h18.72M366.44 112.99h37.14M348.02 113.89h18.72M326.6 114.78h21.72M366.44 114.78h18.72M403.28 114.78h18.72M348.02 115.68h18.72M384.86 116.57h18.72M403.28 117.47h18.72M403.28 125.53h18.72M458.54 135.39h18.72M458.54 139.86h18.72M476.96 144.34h18.72M421.7 145.24h18.72M458.54 145.24h18.72M440.12 146.14h18.72M421.7 147.03h55.56M440.12 147.93h18.72M495.38 149.72h21.42M458.54 151.51h18.72M440.12 152.41h18.72M421.7 153.3h18.72M458.54 154.2h18.72M476.96 155.09h18.72M458.54 155.99h18.72M495.38 155.99h21.42M476.96 158.68h18.72M495.38 196.3h21.42"/>
<path stroke="#ee613d" d="M326.6 56.55h21.72M366.44 56.55h37.14M326.6 55.66h21.72M366.44 55.66h37.14M326.6 54.76h21.72M366.44 54.76h37.14M326.6 53.86h21.72M366.44 53.86h37.14M326.6 57.45h21.72M366.44 57.45h37.14M326.6 58.34h21.72M366.44 58.34h18.72M403.28 58.34h18.72M403.28 59.24h18.72M366.44 61.03h18.72M403.28 68.2h18.72M440.12 119.26h18.72M476.96 119.26h18.72"/>
<path stroke="#f3fad6" d="M421.7 56.55h18.72M458.54 56.55h18.72M495.38 56.55h21.42M421.7 55.66h18.72M458.54 55.66h18.72M495.38 55.66h21.42M421.7 54.76h18.72M458.54 54.76h18.72M495.38 54.76h21.42M421.7 53.86h18.72M458.54 53.86h18.72M495.38 53.86h21.42M421.7 57.45h18.72M458.54 57.45h18.72M495.38 57.45h21.42M458.54 62.82h18.72M440.12 72.68h18.72M495.38 72.68h21.42M326.6 89.7h21.72M326.6 90.59h21.72M326.6 91.49h40.14M403.28 91.49h18.72M348.02 92.39h18.72M403.28 92.39h18.72M348.02 94.18h18.72M348.02 95.07h18.72M384.86 102.24h37.14M326.6 103.14h21.72M403.28 103.14h18.72M384.86 104.93h18.72M348.02 112.99h18.72M366.44 113.89h18.72M403.28 115.68h18.72M326.6 116.57h21.72M384.86 117.47h18.72M495.38 118.36h21.42M495.38 130.91h21.42M458.54 132.7h18.72M476.96 135.39h18.72M476.96 142.55h18.72M440.12 143.45h18.72M440.12 145.24h18.72M495.38 145.24h21.42M495.38 147.93h21.42M421.7 152.41h18.72M421.7 154.2h18.72"/>
<path stroke="#f46d43" d="M366.44 61.93h18.72M326.6 66.41h40.14M326.6 67.3h40.14M384.86 67.3h18.72M348.02 70.89h18.72M421.7 118.36h18.72M458.54 118.36h37.14"/>
<path stroke="#f67a49" d="M384.86 58.34h18.72M326.6 60.14h21.72M326.6 61.93h21.72M366.44 62.82h18.72M384.86 66.41h18.72M348.02 69.99h18.72M440.12 118.36h18.72M476.96 120.16h18.72"/>
<path stroke="#f8874f" d="M348.02 56.55h18.72M348.02 55.66h18.72M348.02 54.76h18.72M348.02 53.86h18.72M348.02 57.45h18.72M326.6 62.82h21.72M403.28 63.72h18.72M326.6 65.51h21.72M403.28 69.09h18.72M384.86 78.05h18.72M326.6 84.32h21.72M403.28 84.32h18.72M476.96 121.05h18.72"/>
<path stroke="#f99455" d="M348.02 58.34h18.72M384.86 59.24h18.72M366.44 60.14h18.72M403.28 60.14h18.72M384.86 61.03h37.14M384.86 63.72h18.72M348.02 64.61h18.72M403.28 64.61h18.72M366.44 78.05h18.72M366.44 84.32h18.72M366.44 85.22h18.72M326.6 87.91h21.72M366.44 104.93h18.72M440.12 131.8h18.72M421.7 138.97h18.72M495.38 138.97h21.42"/>
<path stroke="#f9fdca" d="M440.12 56.55h18.72M440.12 55.66h18.72M440.12 54.76h18.72M440.12 53.86h18.72M440.12 57.45h18.72M458.54 61.03h18.72M458.54 61.93h18.72M476.96 67.3h18.72M421.7 68.2h37.14M366.44 74.47h18.72M403.28 79.84h18.72M326.6 92.39h21.72M366.44 94.18h18.72M348.02 95.97h18.72M384.86 95.97h18.72M326.6 96.86h21.72M348.02 97.76h18.72M384.86 100.45h18.72M384.86 101.34h18.72M326.6 102.24h21.72M384.86 118.36h18.72M495.38 124.64h21.42M495.38 125.53h21.42M476.96 137.18h18.72M495.38 142.55h21.42M495.38 147.03h21.42M495.38 148.82h21.42M421.7 150.61h37.14M440.12 154.2h18.72M458.54 155.09h18.72M495.38 155.09h21.42M421.7 155.99h18.72"/>
<path stroke="#fba15b" d="M384.86 64.61h18.72M403.28 67.3h18.72M440.12 67.3h18.72M366.44 68.2h18.72M403.28 69.99h18.72M403.28 70.89h18.72M326.6 78.05h21.72M384.86 82.53h18.72M348.02 83.43h18.72M384.86 83.43h18.72M384.86 84.32h18.72M326.6 85.22h21.72M384.86 85.22h37.14M384.86 87.91h18.72M476.96 129.11h18.72M476.96 130.01h18.72M421.7 133.59h18.72M495.38 138.07h21.42"/>
<path stroke="#fdae61" d="M384.86 62.82h37.14M403.28 66.41h18.72M440.12 66.41h18.72M326.6 68.2h21.72M326.6 69.09h21.72M384.86 69.09h18.72M384.86 69.99h18.72M384.86 70.89h18.72M326.6 82.53h21.72M326.6 83.43h21.72M366.44 83.43h18.72M366.44 104.03h18.72M421.7 121.05h55.56M421.7 125.53h18.72M421.7 132.7h18.72"/>
<path stroke="#fdb86a" d="M384.86 61.93h37.14M403.28 65.51h18.72M348.02 68.2h18.72M384.86 68.2h18.72M366.44 69.09h18.72M366.44 77.16h37.14M348.02 82.53h37.14M348.02 86.11h37.14M326.6 88.8h21.72M440.12 120.16h37.14M421.7 138.07h18.72"/>
<path stroke="#fdc274" d="M476.96 58.34h18.72M384.86 60.14h18.72M348.02 69.09h18.72M384.86 71.78h18.72M326.6 77.16h21.72M366.44 87.01h18.72M384.86 88.8h18.72M366.44 102.24h18.72M366.44 103.14h18.72M421.7 120.16h18.72M421.7 126.43h18.72M440.12 130.91h18.72"/>
<path stroke="#fecc7d" d="M348.02 59.24h18.72M476.96 59.24h18.72M348.02 61.03h18.72M348.02 63.72h18.72M348.02 65.51h18.72M384.86 65.51h18.72M476.96 65.51h18.72M326.6 70.89h21.72M326.6 71.78h40.14M403.28 71.78h18.72M384.86 73.57h18.72M326.6 80.74h40.14M348.02 87.01h18.72M326.6 98.66h21.72M366.44 98.66h18.72M421.7 121.95h73.98M440.12 127.32h18.72M458.54 131.8h37.14M440.12 133.59h18.72M476.96 133.59h18.72M421.7 136.28h18.72M495.38 136.28h21.42M421.7 139.86h18.72M495.38 139.86h21.42"/>
<path stroke="#fed687" d="M476.96 60.14h18.72M476.96 64.61h18.72M366.44 69.99h18.72M326.6 72.68h21.72M384.86 72.68h18.72M348.02 78.05h18.72M403.28 78.05h18.72M348.02 78.95h37.14M348.02 79.84h18.72M366.44 80.74h18.72M403.28 80.74h18.72M403.28 86.11h18.72M348.02 87.91h18.72M403.28 87.91h18.72M366.44 97.76h18.72M403.28 97.76h18.72M403.28 98.66h18.72M440.12 122.84h37.14M440.12 125.53h18.72M476.96 125.53h18.72M421.7 127.32h18.72M476.96 127.32h18.72M476.96 128.22h18.72M458.54 129.11h18.72M440.12 130.01h18.72M421.7 131.8h18.72M495.38 133.59h21.42M440.12 136.28h18.72M440.12 138.97h18.72M421.7 141.66h37.14"/>
<path stroke="#fee090" d="M476.96 56.55h18.72M476.96 55.66h18.72M476.96 54.76h18.72M476.96 53.86h18.72M476.96 57.45h18.72M348.02 61.93h18.72M476.96 61.93h18.72M476.96 63.72h18.72M421.7 66.41h18.72M326.6 69.99h21.72M366.44 70.89h18.72M348.02 72.68h18.72M403.28 72.68h18.72M326.6 73.57h40.14M403.28 73.57h18.72M326.6 76.26h40.14M384.86 76.26h37.14M403.28 77.16h18.72M326.6 78.95h21.72M384.86 78.95h18.72M366.44 79.84h18.72M384.86 80.74h18.72M403.28 83.43h18.72M384.86 86.11h18.72M366.44 87.91h18.72M403.28 88.8h18.72M348.02 90.59h37.14M403.28 95.07h18.72M366.44 95.97h18.72M403.28 95.97h18.72M366.44 96.86h18.72M348.02 98.66h18.72M421.7 122.84h18.72M458.54 123.74h18.72M458.54 125.53h18.72M476.96 126.43h18.72M458.54 127.32h18.72M458.54 128.22h18.72M421.7 129.11h37.14M421.7 130.01h18.72M458.54 130.01h18.72M440.12 132.7h18.72M476.96 132.7h18.72M421.7 134.49h37.14M495.38 134.49h21.42M440.12 138.07h18.72M495.38 143.45h21.42M495.38 144.34h21.42"/>
<path stroke="#fee699" d="M476.96 62.82h18.72M421.7 67.3h18.72M403.28 74.47h18.72M326.6 75.36h40.14M384.86 75.36h37.14M326.6 79.84h21.72M384.86 79.84h18.72M403.28 82.53h18.72M326.6 86.11h21.72M403.28 87.01h18.72M366.44 88.8h18.72M348.02 89.7h18.72M366.44 92.39h18.72M403.28 96.86h18.72M326.6 99.55h21.72M403.28 99.55h18.72M348.02 100.45h18.72M326.6 101.34h40.14M348.02 103.14h18.72M495.38 120.16h21.42M495.38 121.05h21.42M476.96 122.84h18.72M421.7 123.74h37.14M476.96 123.74h18.72M421.7 124.64h18.72M458.54 124.64h18.72M440.12 126.43h18.72M421.7 128.22h37.14M421.7 130.91h18.72M458.54 130.91h37.14M495.38 132.7h21.42M495.38 135.39h21.42M440.12 137.18h18.72M495.38 137.18h21.42M421.7 140.76h18.72M495.38 140.76h21.42M440.12 142.55h18.72"/>
<path stroke="#feeca3" d="M348.02 60.14h18.72M421.7 60.14h18.72M476.96 61.03h18.72M348.02 62.82h18.72M440.12 69.09h18.72M495.38 69.09h21.42M326.6 74.47h40.14M384.86 74.47h18.72M348.02 77.16h18.72M326.6 81.64h40.14M384.86 81.64h37.14M348.02 88.8h18.72M366.44 89.7h18.72M403.28 89.7h18.72M403.28 90.59h18.72M366.44 91.49h18.72M366.44 95.07h18.72M348.02 99.55h37.14M326.6 100.45h21.72M366.44 100.45h18.72M403.28 100.45h18.72M366.44 101.34h18.72M403.28 101.34h18.72M348.02 102.24h18.72M440.12 124.64h18.72M476.96 124.64h18.72M458.54 126.43h18.72M421.7 137.18h18.72M476.96 139.86h18.72M421.7 142.55h18.72"/>
<path stroke="#fff3ac" d="M421.7 58.34h18.72M495.38 58.34h21.42M421.7 59.24h18.72M458.54 59.24h18.72M458.54 60.14h18.72M458.54 64.61h18.72M440.12 65.51h18.72M495.38 66.41h21.42M421.7 69.09h18.72M366.44 81.64h18.72M326.6 87.01h21.72M384.86 87.01h18.72M348.02 104.93h18.72M403.28 113.89h18.72M348.02 116.57h18.72M348.02 117.47h18.72M348.02 119.26h18.72M384.86 119.26h18.72M495.38 119.26h21.42M384.86 121.05h18.72M495.38 127.32h21.42M495.38 129.11h21.42M458.54 133.59h18.72M421.7 135.39h37.14M458.54 138.97h37.14M440.12 139.86h18.72M476.96 141.66h39.84"/>
<path stroke="#fff9b6" d="M440.12 58.34h37.14M440.12 59.24h18.72M440.12 60.14h18.72M440.12 61.93h18.72M440.12 64.61h18.72M458.54 65.51h18.72M458.54 66.41h37.14M366.44 76.26h18.72M348.02 93.28h18.72M326.6 95.97h21.72M403.28 112.99h18.72M495.38 121.95h21.42M495.38 123.74h21.42M495.38 131.8h21.42M458.54 136.28h37.14M458.54 138.07h18.72M440.12 140.76h18.72M421.7 151.51h37.14"/>
<path stroke="#ffffbf" d="M440.12 61.03h18.72M458.54 63.72h18.72M458.54 67.3h18.72M495.38 67.3h21.42M366.44 71.78h18.72M366.44 72.68h18.72M366.44 73.57h18.72M366.44 75.36h18.72M403.28 78.95h18.72M326.6 93.28h21.72M366.44 93.28h18.72M403.28 93.28h18.72M326.6 94.18h21.72M403.28 94.18h18.72M326.6 95.07h21.72M384.86 95.07h18.72M348.02 96.86h18.72M384.86 96.86h18.72M326.6 97.76h21.72M384.86 97.76h18.72M348.02 104.03h18.72M348.02 118.36h18.72M384.86 120.16h18.72M384.86 121.95h18.72M384.86 122.84h18.72M495.38 122.84h21.42M495.38 126.43h21.42M495.38 128.22h21.42M495.38 130.01h21.42M458.54 134.49h37.14M458.54 137.18h18.72M476.96 138.07h18.72M476.96 140.76h18.72M440.12 144.34h18.72M495.38 154.2h21.42M421.7 155.09h37.14"/>
</g>
<path d="M319.43 58.12L323.8 56.8L323.8 59.44ZM318.33 62.08L323.8 59.44L323.8 64.72ZM319.49 62.61L323.8 60.5L323.8 64.72ZM321.15 61.34L323.8 60.5L323.8 62.19ZM320.8 63.45L323.8 62.19L323.8 64.72ZM318.39 67.36L323.8 64.72L323.8 70ZM320.19 66.04L323.8 64.72L323.8 67.36ZM320.21 68.68L323.8 67.36L323.8 70ZM320.66 71.44L323.8 70L323.8 72.88ZM321.97 70.72L323.8 70L323.8 71.44ZM321.97 72.16L323.8 71.44L323.8 72.88ZM320.24 75.04L323.8 72.88L323.8 77.2ZM320.84 74.61L323.8 72.88L323.8 76.34ZM321.82 73.74L323.8 72.88L323.8 74.61ZM322 75.47L323.8 74.61L323.8 76.34ZM319.68 79.6L323.8 77.2L323.8 82ZM320.65 78.88L323.8 77.2L323.8 80.56ZM321.83 78.04L323.8 77.2L323.8 78.88ZM321.64 79.72L323.8 78.88L323.8 80.56ZM321.82 81.28L323.8 80.56L323.8 82ZM314.8 85L323.8 82L323.8 88ZM317.75 83.8L323.8 82L323.8 85.6ZM320.14 82.9L323.8 82L323.8 83.8ZM320.36 84.7L323.8 83.8L323.8 85.6ZM318.49 86.8L323.8 85.6L323.8 88ZM318.62 90.52L323.8 88L323.8 93.04ZM321.18 88.76L323.8 88L323.8 89.51ZM320.19 91.28L323.8 89.51L323.8 93.04ZM321.31 90.39L323.8 89.51L323.8 91.28ZM321.75 92.16L323.8 91.28L323.8 93.04ZM319.87 94.72L323.8 93.04L323.8 96.4ZM321.27 93.88L323.8 93.04L323.8 94.72ZM321.14 95.56L323.8 94.72L323.8 96.4ZM319.37 98.2L323.8 96.4L323.8 100ZM320.87 97.3L323.8 96.4L323.8 98.2ZM320.8 99.1L323.8 98.2L323.8 100ZM317.99 101.5L323.8 100L323.8 103ZM320.63 100.75L323.8 100L323.8 101.5ZM320.38 102.25L323.8 101.5L323.8 103ZM319.3 104.8L323.8 103L323.8 106.6ZM320.89 103.9L323.8 103L323.8 104.8ZM321.34 105.7L323.8 104.8L323.8 106.6ZM319.86 108.28L323.8 106.6L323.8 109.96ZM321.43 107.44L323.8 106.6L323.8 108.28ZM321.61 109.12L323.8 108.28L323.8 109.96ZM319.19 112.48L323.8 109.96L323.8 115ZM320.64 112.98L323.8 110.97L323.8 115ZM321.59 113.59L323.8 112.18L323.8 115ZM315 117.8L323.8 115L323.8 120.6ZM316.28 117.24L323.8 115L323.8 119.48ZM318.19 117.91L323.8 116.34L323.8 119.48ZM320.11 117.13L323.8 116.34L323.8 117.91ZM320.76 118.7L323.8 117.91L323.8 119.48ZM318.36 121.8L323.8 120.6L323.8 123ZM315 125.5L323.8 123L323.8 128ZM318.48 124.5L323.8 123L323.8 126ZM320.73 123.75L323.8 123L323.8 124.5ZM320.2 125.25L323.8 124.5L323.8 126ZM318.56 127L323.8 126L323.8 128ZM318.38 131L323.8 128L323.8 134ZM321.26 128.9L323.8 128L323.8 129.8ZM320.13 131.9L323.8 129.8L323.8 134ZM321.66 130.85L323.8 129.8L323.8 131.9ZM321.55 132.95L323.8 131.9L323.8 134ZM318.19 137L323.8 134L323.8 140ZM320.28 135.5L323.8 134L323.8 137ZM321.73 134.75L323.8 134L323.8 135.5ZM321.65 136.25L323.8 135.5L323.8 137ZM320.14 138.5L323.8 137L323.8 140ZM321.58 137.75L323.8 137L323.8 138.5ZM321.7 139.25L323.8 138.5L323.8 140ZM320.51 141.5L323.8 140L323.8 143ZM321.92 140.75L323.8 140L323.8 141.5ZM321.96 142.25L323.8 141.5L323.8 143ZM320.61 144.75L323.8 143L323.8 146.5ZM321.71 143.88L323.8 143L323.8 144.75ZM321.83 145.62L323.8 144.75L323.8 146.5ZM320.73 148.25L323.8 146.5L323.8 150ZM321.69 147.38L323.8 146.5L323.8 148.25ZM321.84 149.12L323.8 148.25L323.8 150ZM321.08 151.8L323.8 150L323.8 153.6ZM322.15 150.9L323.8 150L323.8 151.8ZM321.95 152.7L323.8 151.8L323.8 153.6ZM322.01 154.86L323.8 153.6L323.8 156.12ZM320.78 159.06L323.8 156.12L323.8 162ZM321.66 158.47L323.8 156.12L323.8 160.82ZM322.26 158L323.8 156.12L323.8 159.88ZM320.17 164.4L323.8 162L323.8 166.8ZM321.41 163.2L323.8 162L323.8 164.4ZM321.7 165.6L323.8 164.4L323.8 166.8ZM320.53 168.4L323.8 166.8L323.8 170ZM321.92 167.6L323.8 166.8L323.8 168.4ZM321.83 169.2L323.8 168.4L323.8 170ZM321.38 172.7L323.8 170L323.8 175.4ZM322.07 171.62L323.8 170L323.8 173.24ZM322.27 174.32L323.8 173.24L323.8 175.4ZM321.79 177.67L323.8 175.4L323.8 179.94ZM322.04 181.45L323.8 179.94L323.8 182.96ZM321.68 185.48L323.8 182.96L323.8 188ZM322.28 186.24L323.8 184.47L323.8 188ZM320.97 190.55L323.8 188L323.8 193.1ZM321.76 191.06L323.8 189.02L323.8 193.1ZM321.34 195.48L323.8 193.1L323.8 197.86ZM322.13 194.77L323.8 193.1L323.8 196.43ZM322.25 199.29L323.8 197.86L323.8 200.72ZM321.84 202.86L323.8 200.72L323.8 205ZM322.3 207.2L323.8 205L323.8 209.39ZM322.25 212.47L323.8 209.39L323.8 215.54Z" fill="#111" fill-opacity="0.6"/>
<path d="M319.43 57.46L319.43 58.78M319.43 57.46L323.5 57.46M319.43 58.78L323.5 58.78M321.15 60.92L321.15 61.76M321.15 60.92L323.5 60.92M321.15 61.76L323.5 61.76M320.8 62.82L320.8 64.09M320.8 62.82L323.5 62.82M320.8 64.09L323.5 64.09M319.49 61.34L319.49 63.45M319.49 61.34L321.15 61.34M319.49 63.45L320.8 63.45M318.33 59.97L318.33 62.4M318.33 59.97L323.5 59.97M318.33 62.4L319.49 62.4M320.19 65.38L320.19 66.7M320.19 65.38L323.5 65.38M320.19 66.7L323.5 66.7M320.21 68.02L320.21 69.34M320.21 68.02L323.5 68.02M320.21 69.34L323.5 69.34M318.39 66.04L318.39 68.68M318.39 66.04L320.19 66.04M318.39 68.68L320.21 68.68M314.11 61.18L314.11 67.36M314.11 61.18L318.33 61.18M314.11 67.36L318.39 67.36M310.7 58.12L310.7 64.27M310.7 58.12L319.43 58.12M310.7 64.27L314.11 64.27M310.7 61.2L310.7 64.1M321.97 70.36L321.97 71.08M321.97 70.36L323.5 70.36M321.97 71.08L323.5 71.08M321.97 71.8L321.97 72.52M321.97 71.8L323.5 71.8M321.97 72.52L323.5 72.52M320.66 70.72L320.66 72.16M320.66 70.72L321.97 70.72M320.66 72.16L321.97 72.16M321.82 73.31L321.82 74.18M321.82 73.31L323.5 73.31M321.82 74.18L323.5 74.18M322 75.04L322 75.9M322 75.04L323.5 75.04M322 75.9L323.5 75.9M320.84 73.74L320.84 75.47M320.84 73.74L321.82 73.74M320.84 75.47L322 75.47M320.24 74.61L320.24 76.77M320.24 74.61L320.84 74.61M320.24 76.77L323.5 76.77M318.12 71.44L318.12 75.69M318.12 71.44L320.66 71.44M318.12 75.69L320.24 75.69M321.83 77.62L321.83 78.46M321.83 77.62L323.5 77.62M321.83 78.46L323.5 78.46M321.64 79.3L321.64 80.14M321.64 79.3L323.5 79.3M321.64 80.14L323.5 80.14M320.65 78.04L320.65 79.72M320.65 78.04L321.83 78.04M320.65 79.72L321.64 79.72M321.82 80.92L321.82 81.64M321.82 80.92L323.5 80.92M321.82 81.64L323.5 81.64M319.68 78.88L319.68 81.28M319.68 78.88L320.65 78.88M319.68 81.28L321.82 81.28M316 73.56L316 80.08M316 73.56L318.12 73.56M316 80.08L319.68 80.08M316 73.4L316 76.82M304.1 64.1L304.1 73.4M304.1 64.1L310.7 64.1M304.1 73.4L316 73.4M320.14 82.45L320.14 83.35M320.14 82.45L323.5 82.45M320.14 83.35L323.5 83.35M320.36 84.25L320.36 85.15M320.36 84.25L323.5 84.25M320.36 85.15L323.5 85.15M317.75 82.9L317.75 84.7M317.75 82.9L320.14 82.9M317.75 84.7L320.36 84.7M318.49 86.2L318.49 87.4M318.49 86.2L323.5 86.2M318.49 87.4L323.5 87.4M314.8 83.8L314.8 86.8M314.8 83.8L317.75 83.8M314.8 86.8L318.49 86.8M314.8 85L314.8 85.3M321.18 88.38L321.18 89.13M321.18 88.38L323.5 88.38M321.18 89.13L323.5 89.13M321.31 89.95L321.31 90.84M321.31 89.95L323.5 89.95M321.31 90.84L323.5 90.84M321.75 91.72L321.75 92.6M321.75 91.72L323.5 91.72M321.75 92.6L323.5 92.6M320.19 90.39L320.19 92.16M320.19 90.39L321.31 90.39M320.19 92.16L321.75 92.16M318.62 88.76L318.62 91.28M318.62 88.76L321.18 88.76M318.62 91.28L320.19 91.28M321.27 93.46L321.27 94.3M321.27 93.46L323.5 93.46M321.27 94.3L323.5 94.3M321.14 95.14L321.14 95.98M321.14 95.14L323.5 95.14M321.14 95.98L323.5 95.98M319.87 93.88L319.87 95.56M319.87 93.88L321.27 93.88M319.87 95.56L321.14 95.56M316.73 90.02L316.73 94.72M316.73 90.02L318.62 90.02M316.73 94.72L319.87 94.72M320.87 96.85L320.87 97.75M320.87 96.85L323.5 96.85M320.87 97.75L323.5 97.75M320.8 98.65L320.8 99.55M320.8 98.65L323.5 98.65M320.8 99.55L323.5 99.55M319.37 97.3L319.37 99.1M319.37 97.3L320.87 97.3M319.37 99.1L320.8 99.1M313.44 92.37L313.44 98.2M313.44 92.37L316.73 92.37M313.44 98.2L319.37 98.2M320.63 100.38L320.63 101.12M320.63 100.38L323.5 100.38M320.63 101.12L323.5 101.12M320.38 101.88L320.38 102.62M320.38 101.88L323.5 101.88M320.38 102.62L323.5 102.62M317.99 100.75L317.99 102.25M317.99 100.75L320.63 100.75M317.99 102.25L320.38 102.25M309.6 95.28L309.6 101.5M309.6 95.28L313.44 95.28M309.6 101.5L317.99 101.5M309.6 93.6L309.6 98.39M307.6 85L307.6 93.6M307.6 85L314.8 85M307.6 93.6L309.6 93.6M320.89 103.45L320.89 104.35M320.89 103.45L323.5 103.45M320.89 104.35L323.5 104.35M321.34 105.25L321.34 106.15M321.34 105.25L323.5 105.25M321.34 106.15L323.5 106.15M319.3 103.9L319.3 105.7M319.3 103.9L320.89 103.9M319.3 105.7L321.34 105.7M321.43 107.02L321.43 107.86M321.43 107.02L323.5 107.02M321.43 107.86L323.5 107.86M321.61 108.7L321.61 109.54M321.61 108.7L323.5 108.7M321.61 109.54L323.5 109.54M319.86 107.44L319.86 109.12M319.86 107.44L321.43 107.44M319.86 109.12L321.61 109.12M322.5 112.53L322.5 113.24M322.5 112.53L323.5 112.53M322.5 113.24L323.5 113.24M322.39 113.94L322.39 114.65M322.39 113.94L323.5 113.94M322.39 114.65L323.5 114.65M321.59 112.88L321.59 114.29M321.59 112.88L322.5 112.88M321.59 114.29L322.39 114.29M320.64 111.57L320.64 113.59M320.64 111.57L323.5 111.57M320.64 113.59L321.59 113.59M319.19 110.46L319.19 112.58M319.19 110.46L323.5 110.46M319.19 112.58L320.64 112.58M316.9 108.28L316.9 111.52M316.9 108.28L319.86 108.28M316.9 111.52L319.19 111.52M313 104.8L313 109.9M313 104.8L319.3 104.8M313 109.9L316.9 109.9M313 107.35L313 109.2M300.7 89.3L300.7 109.2M300.7 89.3L307.6 89.3M300.7 109.2L313 109.2M286.5 68.75L286.5 99.25M286.5 68.75L304.1 68.75M286.5 99.25L300.7 99.25M320.11 116.74L320.11 117.52M320.11 116.74L323.5 116.74M320.11 117.52L323.5 117.52M320.76 118.3L320.76 119.09M320.76 118.3L323.5 118.3M320.76 119.09L323.5 119.09M318.19 117.13L318.19 118.7M318.19 117.13L320.11 117.13M318.19 118.7L320.76 118.7M316.28 115.67L316.28 117.91M316.28 115.67L323.5 115.67M316.28 117.91L318.19 117.91M315 116.79L315 120.04M315 116.79L316.28 116.79M315 120.04L323.5 120.04M318.36 121.2L318.36 122.4M318.36 121.2L323.5 121.2M318.36 122.4L323.5 122.4M312.5 118.42L312.5 121.8M312.5 118.42L315 118.42M312.5 121.8L318.36 121.8M312.5 120.1L312.5 120.11M320.73 123.38L320.73 124.12M320.73 123.38L323.5 123.38M320.73 124.12L323.5 124.12M320.2 124.88L320.2 125.62M320.2 124.88L323.5 124.88M320.2 125.62L323.5 125.62M318.48 123.75L318.48 125.25M318.48 123.75L320.73 123.75M318.48 125.25L320.2 125.25M318.56 126.5L318.56 127.5M318.56 126.5L323.5 126.5M318.56 127.5L323.5 127.5M315 124.5L315 127M315 124.5L318.48 124.5M315 127L318.56 127M315 125.3L315 125.75M321.26 128.45L321.26 129.35M321.26 128.45L323.5 128.45M321.26 129.35L323.5 129.35M321.66 130.33L321.66 131.38M321.66 130.33L323.5 130.33M321.66 131.38L323.5 131.38M321.55 132.43L321.55 133.47M321.55 132.43L323.5 132.43M321.55 133.47L323.5 133.47M320.13 130.85L320.13 132.95M320.13 130.85L321.66 130.85M320.13 132.95L321.55 132.95M318.38 128.9L318.38 131.9M318.38 128.9L321.26 128.9M318.38 131.9L320.13 131.9M321.73 134.38L321.73 135.12M321.73 134.38L323.5 134.38M321.73 135.12L323.5 135.12M321.65 135.88L321.65 136.62M321.65 135.88L323.5 135.88M321.65 136.62L323.5 136.62M320.28 134.75L320.28 136.25M320.28 134.75L321.73 134.75M320.28 136.25L321.65 136.25M321.58 137.38L321.58 138.12M321.58 137.38L323.5 137.38M321.58 138.12L323.5 138.12M321.7 138.88L321.7 139.62M321.7 138.88L323.5 138.88M321.7 139.62L323.5 139.62M320.14 137.75L320.14 139.25M320.14 137.75L321.58 137.75M320.14 139.25L321.7 139.25M318.19 135.5L318.19 138.5M318.19 135.5L320.28 135.5M318.19 138.5L320.14 138.5M313.6 130.4L313.6 137M313.6 130.4L318.38 130.4M313.6 137L318.19 137M313.6 133.4L313.6 133.7M309.9 125.3L309.9 133.4M309.9 125.3L315 125.3M309.9 133.4L313.6 133.4M301.5 120.1L301.5 129.35M301.5 120.1L312.5 120.1M301.5 129.35L309.9 129.35M321.92 140.38L321.92 141.12M321.92 140.38L323.5 140.38M321.92 141.12L323.5 141.12M321.96 141.88L321.96 142.62M321.96 141.88L323.5 141.88M321.96 142.62L323.5 142.62M320.51 140.75L320.51 142.25M320.51 140.75L321.92 140.75M320.51 142.25L321.96 142.25M321.71 143.44L321.71 144.31M321.71 143.44L323.5 143.44M321.71 144.31L323.5 144.31M321.83 145.19L321.83 146.06M321.83 145.19L323.5 145.19M321.83 146.06L323.5 146.06M320.61 143.88L320.61 145.62M320.61 143.88L321.71 143.88M320.61 145.62L321.83 145.62M321.69 146.94L321.69 147.81M321.69 146.94L323.5 146.94M321.69 147.81L323.5 147.81M321.84 148.69L321.84 149.56M321.84 148.69L323.5 148.69M321.84 149.56L323.5 149.56M320.73 147.38L320.73 149.12M320.73 147.38L321.69 147.38M320.73 149.12L321.84 149.12M318.63 144.75L318.63 148.25M318.63 144.75L320.61 144.75M318.63 148.25L320.73 148.25M316 141.5L316 146.5M316 141.5L320.51 141.5M316 146.5L318.63 146.5M316 143.2L316 144M322.15 150.45L322.15 151.35M322.15 150.45L323.5 150.45M322.15 151.35L323.5 151.35M321.95 152.25L321.95 153.15M321.95 152.25L323.5 152.25M321.95 153.15L323.5 153.15M321.08 150.9L321.08 152.7M321.08 150.9L322.15 150.9M321.08 152.7L321.95 152.7M322.01 154.23L322.01 155.49M322.01 154.23L323.5 154.23M322.01 155.49L323.5 155.49M322.5 157.91L322.5 159.22M322.5 157.91L323.5 157.91M322.5 159.22L323.5 159.22M322.26 156.68L322.26 158.57M322.26 156.68L323.5 156.68M322.26 158.57L322.5 158.57M321.66 157.63L321.66 160.35M321.66 157.63L322.26 157.63M321.66 160.35L323.5 160.35M320.78 158.99L320.78 161.41M320.78 158.99L321.66 158.99M320.78 161.41L323.5 161.41M319.96 154.86L319.96 160.2M319.96 154.86L322.01 154.86M319.96 160.2L320.78 160.2M318.2 151.8L318.2 157.53M318.2 151.8L321.08 151.8M318.2 157.53L319.96 157.53M321.41 162.6L321.41 163.8M321.41 162.6L323.5 162.6M321.41 163.8L323.5 163.8M321.7 165L321.7 166.2M321.7 165L323.5 165M321.7 166.2L323.5 166.2M320.17 163.2L320.17 165.6M320.17 163.2L321.41 163.2M320.17 165.6L321.7 165.6M321.92 167.2L321.92 168M321.92 167.2L323.5 167.2M321.92 168L323.5 168M321.83 168.8L321.83 169.6M321.83 168.8L323.5 168.8M321.83 169.6L323.5 169.6M320.53 167.6L320.53 169.2M320.53 167.6L321.92 167.6M320.53 169.2L321.83 169.2M318.1 164.4L318.1 168.4M318.1 164.4L320.17 164.4M318.1 168.4L320.53 168.4M314.2 154.67L314.2 166.4M314.2 154.67L318.2 154.67M314.2 166.4L318.1 166.4M314.2 160L314.2 160.53M312.5 143.2L312.5 160M312.5 143.2L316 143.2M312.5 160L314.2 160M322.5 170.41L322.5 171.22M322.5 170.41L323.5 170.41M322.5 171.22L323.5 171.22M322.5 172.03L322.5 172.84M322.5 172.03L323.5 172.03M322.5 172.84L323.5 172.84M322.07 170.81L322.07 172.43M322.07 170.81L322.5 170.81M322.07 172.43L322.5 172.43M322.27 173.78L322.27 174.86M322.27 173.78L323.5 173.78M322.27 174.86L323.5 174.86M321.38 171.62L321.38 174.32M321.38 171.62L322.07 171.62M321.38 174.32L322.27 174.32M322.5 176.04L322.5 177.31M322.5 176.04L323.5 176.04M322.5 177.31L323.5 177.31M322.39 176.67L322.39 178.48M322.39 176.67L322.5 176.67M322.39 178.48L323.5 178.48M321.79 177.58L321.79 179.48M321.79 177.58L322.39 177.58M321.79 179.48L323.5 179.48M322.5 180.31L322.5 181.07M322.5 180.31L323.5 180.31M322.5 181.07L323.5 181.07M322.5 181.83L322.5 182.58M322.5 181.83L323.5 181.83M322.5 182.58L323.5 182.58M322.04 180.69L322.04 182.2M322.04 180.69L322.5 180.69M322.04 182.2L322.5 182.2M320.7 178.53L320.7 181.45M320.7 178.53L321.79 178.53M320.7 181.45L322.04 181.45M322.5 183.34L322.5 184.09M322.5 183.34L323.5 183.34M322.5 184.09L323.5 184.09M322.5 184.91L322.5 185.79M322.5 184.91L323.5 184.91M322.5 185.79L323.5 185.79M322.5 186.68L322.5 187.56M322.5 186.68L323.5 186.68M322.5 187.56L323.5 187.56M322.28 185.35L322.28 187.12M322.28 185.35L322.5 185.35M322.28 187.12L322.5 187.12M321.68 183.72L321.68 186.24M321.68 183.72L322.5 183.72M321.68 186.24L322.28 186.24M319.64 179.99L319.64 184.98M319.64 179.99L320.7 179.99M319.64 184.98L321.68 184.98M318.2 172.97L318.2 182.48M318.2 172.97L321.38 172.97M318.2 182.48L319.64 182.48M318.2 177.73L318.2 182.5M322.5 189.53L322.5 190.55M322.5 189.53L323.5 189.53M322.5 190.55L323.5 190.55M322.42 191.57L322.42 192.59M322.42 191.57L323.5 191.57M322.42 192.59L323.5 192.59M321.76 190.04L321.76 192.08M321.76 190.04L322.5 190.04M321.76 192.08L322.42 192.08M320.97 188.51L320.97 191.06M320.97 188.51L323.5 188.51M320.97 191.06L321.76 191.06M322.5 193.52L322.5 194.35M322.5 193.52L323.5 193.52M322.5 194.35L323.5 194.35M322.5 195.18L322.5 196.02M322.5 195.18L323.5 195.18M322.5 196.02L323.5 196.02M322.13 193.93L322.13 195.6M322.13 193.93L322.5 193.93M322.13 195.6L322.5 195.6M322.5 196.79L322.5 197.5M322.5 196.79L323.5 196.79M322.5 197.5L323.5 197.5M321.34 194.77L321.34 197.15M321.34 194.77L322.13 194.77M321.34 197.15L322.5 197.15M322.5 198.22L322.5 198.93M322.5 198.22L323.5 198.22M322.5 198.93L323.5 198.93M322.5 199.64L322.5 200.36M322.5 199.64L323.5 199.64M322.5 200.36L323.5 200.36M322.25 198.57L322.25 200M322.25 198.57L322.5 198.57M322.25 200L322.5 200M322.5 201.25L322.5 202.32M322.5 201.25L323.5 201.25M322.5 202.32L323.5 202.32M322.47 203.39L322.47 204.46M322.47 203.39L323.5 203.39M322.47 204.46L323.5 204.46M321.84 201.79L321.84 203.93M321.84 201.79L322.5 201.79M321.84 203.93L322.47 203.93M321.08 199.29L321.08 202.86M321.08 199.29L322.25 199.29M321.08 202.86L321.84 202.86M319.36 195.96L319.36 201.07M319.36 195.96L321.34 195.96M319.36 201.07L321.08 201.07M318.2 189.78L318.2 198.51M318.2 189.78L320.97 189.78M318.2 198.51L319.36 198.51M318.2 190.6L318.2 194.15M322.5 205.55L322.5 206.65M322.5 205.55L323.5 205.55M322.5 206.65L323.5 206.65M322.5 207.75L322.5 208.84M322.5 207.75L323.5 207.75M322.5 208.84L323.5 208.84M322.3 206.1L322.3 208.29M322.3 206.1L322.5 206.1M322.3 208.29L322.5 208.29M322.5 209.76L322.5 210.5M322.5 209.76L323.5 209.76M322.5 210.5L323.5 210.5M322.5 211.3L322.5 212.16M322.5 211.3L323.5 211.3M322.5 212.16L323.5 212.16M322.5 213.02L322.5 213.88M322.5 213.02L323.5 213.02M322.5 213.88L323.5 213.88M322.5 211.73L322.5 213.45M322.5 211.73L322.5 211.73M322.5 213.45L322.5 213.45M322.5 210.13L322.5 212.59M322.5 210.13L322.5 210.13M322.5 212.59L322.5 212.59M322.25 211.36L322.25 214.93M322.25 211.36L322.5 211.36M322.25 214.93L323.5 214.93M322.5 216.05L322.5 217.08M322.5 216.05L323.5 216.05M322.5 217.08L323.5 217.08M322.5 218.1L322.5 219.13M322.5 218.1L323.5 218.1M322.5 219.13L323.5 219.13M322.44 216.57L322.44 218.62M322.44 216.57L322.5 216.57M322.44 218.62L322.5 218.62M321.56 213.14L321.56 217.59M321.56 213.14L322.25 213.14M321.56 217.59L322.44 217.59M320.96 207.2L320.96 215.37M320.96 207.2L322.3 207.2M320.96 215.37L321.56 215.37M322.5 220.11L322.5 221.05M322.5 220.11L323.5 220.11M322.5 221.05L323.5 221.05M322.5 221.95L322.5 222.83M322.5 221.95L323.5 221.95M322.5 222.83L323.5 222.83M322.5 223.7L322.5 224.57M322.5 223.7L323.5 223.7M322.5 224.57L323.5 224.57M322.5 222.39L322.5 224.14M322.5 222.39L322.5 222.39M322.5 224.14L322.5 224.14M322.5 223.26L322.5 225.45M322.5 223.26L322.5 223.26M322.5 225.45L323.5 225.45M322.5 220.58L322.5 224.36M322.5 220.58L322.5 220.58M322.5 224.36L322.5 224.36M322.5 226.28L322.5 227.06M322.5 226.28L323.5 226.28M322.5 227.06L323.5 227.06M322.36 222.47L322.36 226.67M322.36 222.47L322.5 222.47M322.36 226.67L322.5 226.67M322.5 227.94L322.5 228.91M322.5 227.94L323.5 227.94M322.5 228.91L323.5 228.91M321.76 224.57L321.76 228.42M321.76 224.57L322.36 224.57M321.76 228.42L322.5 228.42M320 211.28L320 226.5M320 211.28L320.96 211.28M320 226.5L321.76 226.5M320 217.4L320 218.89M315 190.6L315 217.4M315 190.6L318.2 190.6M315 217.4L320 217.4M311.3 182.5L311.3 198.3M311.3 182.5L318.2 182.5M311.3 198.3L315 198.3M303.2 151.6L303.2 190.4M303.2 151.6L312.5 151.6M303.2 190.4L311.3 190.4M285.6 124.72L285.6 171M285.6 124.72L301.5 124.72M285.6 171L303.2 171M279.5 84L279.5 147.86M279.5 84L286.5 84M279.5 147.86L285.6 147.86" fill="none" stroke="#111" stroke-width="0.6"/>
<rect x="323" y="56.8" width="5" height="172.6" fill="#000"/>
<path transform="translate(0.1 0)" d="M338.81 44L357.23 44M338.81 44L338.81 55.7M357.23 44L357.23 55.7M394.07 42.8L412.49 42.8M394.07 42.8L394.07 55.7M412.49 42.8L412.49 55.7M375.65 43.5L403.28 43.5M375.65 43.5L375.65 55.7M403.28 43.5L403.28 42.8M348.02 43.2L389.46 43.2M348.02 43.2L348.02 44M389.46 43.2L389.46 43.5M430.91 45L449.33 45M430.91 45L430.91 55.7M449.33 45L449.33 55.7M440.12 44L467.75 44M440.12 44L440.12 45M467.75 44L467.75 55.7M453.94 43L486.17 43M453.94 43L453.94 44M486.17 43L486.17 55.7M470.05 37.5L504.59 37.5M470.05 37.5L470.05 43M504.59 37.5L504.59 55.7M382.5 10L487.32 10M382.5 10L382.5 43.2M487.32 10L487.32 37.5" fill="none" stroke="#555" stroke-width="0.55"/>
<text transform="translate(341.01 230.8) rotate(-90)" font-size="5.0" text-anchor="end" fill="#111" stroke="#111" stroke-width="0.15">MLL</text>
<text transform="translate(359.43 230.8) rotate(-90)" font-size="5.0" text-anchor="end" fill="#111" stroke="#111" stroke-width="0.15">MLL</text>
<text transform="translate(377.85 230.8) rotate(-90)" font-size="5.0" text-anchor="end" fill="#111" stroke="#111" stroke-width="0.15">MLL</text>
<text transform="translate(396.27 230.8) rotate(-90)" font-size="5.0" text-anchor="end" fill="#111" stroke="#111" stroke-width="0.15">MLL</text>
<text transform="translate(414.69 230.8) rotate(-90)" font-size="5.0" text-anchor="end" fill="#111" stroke="#111" stroke-width="0.15">MLL</text>
<text transform="translate(433.11 230.8) rotate(-90)" font-size="5.0" text-anchor="end" fill="#111" stroke="#111" stroke-width="0.15">CD19+</text>
<text transform="translate(451.53 230.8) rotate(-90)" font-size="5.0" text-anchor="end" fill="#111" stroke="#111" stroke-width="0.15">CD19+</text>
<text transform="translate(469.95 230.8) rotate(-90)" font-size="5.0" text-anchor="end" fill="#111" stroke="#111" stroke-width="0.15">CD34+</text>
<text transform="translate(488.37 230.8) rotate(-90)" font-size="5.0" text-anchor="end" fill="#111" stroke="#111" stroke-width="0.15">CD19+</text>
<text transform="translate(506.79 230.8) rotate(-90)" font-size="5.0" text-anchor="end" fill="#111" stroke="#111" stroke-width="0.15">CD34+</text>
<rect x="336" y="258" width="85" height="4" fill="#92d050"/>
<rect x="427" y="258" width="88" height="4" fill="#c0504d"/>
<text x="352" y="254.5" font-size="3" text-anchor="middle" fill="#444">7</text>
<g transform="translate(261.7 3.6)">
<text x="47" y="5.3" font-size="4.6" text-anchor="middle">Methylation</text>
<path d="M24 14.3L69 5.7L69 14.3Z" fill="#dcdcdc" stroke="#a8a8a8" stroke-width="0.4"/>
<rect x="22" y="16" width="4.52" height="4" fill="#313695"/>
<rect x="26.47" y="16" width="4.52" height="4" fill="#4575b4"/>
<rect x="30.95" y="16" width="4.52" height="4" fill="#74add1"/>
<rect x="35.42" y="16" width="4.52" height="4" fill="#abd9e9"/>
<rect x="39.89" y="16" width="4.52" height="4" fill="#e0f3f8"/>
<rect x="44.36" y="16" width="4.52" height="4" fill="#ffffbf"/>
<rect x="48.84" y="16" width="4.52" height="4" fill="#fee090"/>
<rect x="53.31" y="16" width="4.52" height="4" fill="#fdae61"/>
<rect x="57.78" y="16" width="4.52" height="4" fill="#f46d43"/>
<rect x="62.25" y="16" width="4.52" height="4" fill="#d73027"/>
<rect x="66.73" y="16" width="4.52" height="4" fill="#a50026"/>
<text x="23.1" y="27.3" font-size="4.6" text-anchor="middle">-3</text>
<text x="36.9" y="27.3" font-size="4.6" text-anchor="middle">-1.4</text>
<text x="47.25" y="27.3" font-size="4.6" text-anchor="middle">1</text>
<text x="59.6" y="27.3" font-size="4.6" text-anchor="middle">3.4</text>
<text x="70.4" y="27.3" font-size="4.6" text-anchor="middle">5</text>
<text x="1.3" y="33.4" font-size="4.6">Standard deviation from mean log (MspI/HpaII)</text>
</g>
<g filter="url(#bl)" clip-path="url(#clipC)" fill="none" stroke-width="1.24">
<path stroke="#313695" d="M106.54 493.32h18.72M106.54 494.21h18.72M106.54 495.1h37.14M106.54 495.99h37.14M106.54 496.88h37.14M106.54 497.77h37.14"/>
<path stroke="#4168ae" d="M106.54 491.54h37.14M66.7 496.88h40.14M66.7 497.77h40.14M106.54 498.66h18.72"/>
<path stroke="#4575b4" d="M180.22 487.09h18.72M124.96 487.98h18.72M124.96 488.87h18.72M88.12 491.54h18.72M88.12 492.43h55.56M66.7 495.1h40.14M66.7 495.99h40.14M124.96 498.66h18.72M106.54 499.55h37.14M106.54 500.45h37.14M106.54 501.34h37.14M106.54 502.23h37.14M106.54 503.12h37.14M106.54 504.01h37.14M106.54 504.9h37.14"/>
<path stroke="#4e80ba" d="M180.22 486.2h18.72M66.7 493.32h40.14M124.96 493.32h18.72M66.7 494.21h40.14M124.96 494.21h18.72"/>
<path stroke="#588bc0" d="M235.48 381.99h21.42M124.96 461.26h18.72M198.64 485.3h18.72"/>
<path stroke="#6197c5" d="M180.22 381.99h18.72M88.12 429.2h18.72M66.7 442.55h21.72M124.96 476.4h18.72M217.06 481.74h18.72M217.06 483.52h18.72M235.48 485.3h21.42M198.64 487.09h18.72M235.48 487.09h21.42M143.38 497.77h18.72M66.7 498.66h21.72"/>
<path stroke="#6ba2cb" d="M180.22 382.88h18.72M180.22 383.77h18.72M124.96 442.55h18.72M88.12 472.84h18.72M66.7 473.73h21.72M124.96 475.51h18.72M198.64 481.74h18.72M180.22 483.52h37.14M180.22 484.41h18.72M180.22 485.3h18.72M217.06 485.3h18.72M124.96 486.2h18.72M161.8 487.09h18.72M217.06 487.09h18.72M143.38 495.99h18.72M143.38 496.88h18.72M88.12 498.66h18.72"/>
<path stroke="#74add1" d="M235.48 382.88h21.42M88.12 430.09h18.72M66.7 441.66h21.72M124.96 459.48h18.72M66.7 460.37h21.72M66.7 461.26h21.72M66.7 462.15h21.72M88.12 464.82h18.72M180.22 479.07h37.14M180.22 481.74h18.72M217.06 484.41h39.84M106.54 487.98h18.72M106.54 488.87h18.72M124.96 490.65h18.72M66.7 491.54h21.72M66.7 492.43h21.72M143.38 495.1h18.72M66.7 499.55h21.72M66.7 500.45h21.72M66.7 501.34h21.72M66.7 502.23h21.72M66.7 503.12h21.72M66.7 504.01h21.72M66.7 504.9h21.72"/>
<path stroke="#7fb6d6" d="M235.48 381.1h21.42M235.48 383.77h21.42M66.7 459.48h21.72M124.96 460.37h18.72M124.96 462.15h18.72M88.12 465.71h18.72M88.12 471.95h18.72M180.22 479.96h37.14M198.64 482.63h37.14M198.64 484.41h18.72M143.38 493.32h18.72"/>
<path stroke="#8abfdb" d="M217.06 377.54h18.72M88.12 422.96h18.72M124.96 436.32h18.72M124.96 441.66h18.72M88.12 463.04h18.72M143.38 463.04h18.72M66.7 474.62h21.72M66.7 476.4h21.72M180.22 482.63h18.72M161.8 486.2h18.72M198.64 486.2h37.14M124.96 487.09h18.72M124.96 489.76h18.72M143.38 494.21h18.72M143.38 498.66h18.72M88.12 499.55h18.72M88.12 500.45h18.72M88.12 501.34h18.72M88.12 502.23h18.72M88.12 503.12h18.72M88.12 504.01h18.72M88.12 504.9h18.72"/>
<path stroke="#95c7df" d="M161.8 377.54h18.72M198.64 377.54h18.72M161.8 380.21h18.72M235.48 380.21h21.42M180.22 381.1h18.72M198.64 381.99h18.72M124.96 434.54h18.72M66.7 443.45h21.72M106.54 443.45h18.72M88.12 445.23h18.72M66.7 447.9h40.14M106.54 449.68h37.14M88.12 454.13h18.72M88.12 455.91h18.72M124.96 455.91h37.14M143.38 457.7h18.72M106.54 460.37h18.72M88.12 461.26h18.72M66.7 463.04h21.72M106.54 463.04h18.72M106.54 463.93h18.72M106.54 467.49h18.72M143.38 470.16h18.72M88.12 471.05h37.14M66.7 472.84h21.72M180.22 480.85h55.56M161.8 485.3h18.72M66.7 486.2h40.14M143.38 486.2h18.72M235.48 486.2h21.42M143.38 491.54h18.72"/>
<path stroke="#a0d0e4" d="M217.06 376.65h39.84M235.48 377.54h21.42M217.06 380.21h18.72M161.8 381.99h18.72M217.06 381.99h18.72M66.7 426.52h21.72M66.7 438.99h21.72M66.7 439.88h21.72M124.96 440.77h18.72M106.54 445.23h18.72M106.54 446.12h18.72M143.38 447.01h18.72M143.38 447.9h18.72M124.96 448.79h18.72M66.7 449.68h40.14M124.96 451.46h18.72M106.54 452.35h18.72M124.96 454.13h37.14M88.12 455.02h18.72M106.54 455.91h18.72M106.54 457.7h37.14M88.12 460.37h18.72M106.54 461.26h18.72M143.38 461.26h18.72M124.96 463.04h18.72M88.12 463.93h18.72M124.96 463.93h37.14M88.12 466.6h18.72M66.7 467.49h40.14M106.54 470.16h18.72M124.96 471.05h37.14M106.54 472.84h37.14M124.96 473.73h18.72M66.7 477.29h21.72M124.96 477.29h18.72M161.8 481.74h18.72M161.8 483.52h18.72M235.48 483.52h21.42M161.8 484.41h18.72M66.7 487.98h21.72M66.7 488.87h21.72M161.8 496.88h37.14M217.06 496.88h18.72M180.22 498.66h37.14M198.64 499.55h37.14M198.64 500.45h37.14M198.64 501.34h37.14M198.64 502.23h37.14M198.64 503.12h37.14M198.64 504.01h37.14M198.64 504.9h37.14"/>
<path stroke="#a50026" d="M106.54 347.26h18.72M106.54 348.15h18.72M106.54 349.93h18.72M106.54 351.71h18.72M106.54 386.45h18.72M106.54 387.34h18.72M106.54 388.23h18.72M106.54 389.12h18.72M88.12 391.79h18.72M88.12 392.68h18.72M106.54 393.57h18.72M106.54 394.46h18.72M124.96 396.24h18.72M124.96 397.13h18.72M124.96 398.02h37.14M106.54 399.8h55.56M66.7 400.7h95.4M66.7 401.59h95.4M106.54 402.48h55.56M124.96 403.37h18.72M235.48 452.35h21.42M235.48 453.24h21.42"/>
<path stroke="#abd9e9" d="M198.64 376.65h18.72M180.22 377.54h18.72M161.8 378.43h18.72M198.64 378.43h18.72M235.48 378.43h21.42M180.22 380.21h37.14M217.06 382.88h18.72M198.64 383.77h18.72M66.7 427.41h21.72M106.54 429.2h18.72M124.96 432.76h18.72M124.96 433.65h18.72M124.96 438.99h18.72M88.12 446.12h18.72M88.12 447.01h18.72M106.54 447.9h18.72M66.7 448.79h21.72M88.12 451.46h18.72M106.54 453.24h18.72M124.96 455.02h37.14M66.7 455.91h21.72M88.12 456.8h18.72M88.12 457.7h18.72M143.38 460.37h18.72M88.12 462.15h18.72M143.38 462.15h18.72M66.7 463.93h21.72M66.7 465.71h21.72M143.38 465.71h18.72M66.7 466.6h21.72M88.12 468.38h18.72M88.12 469.27h37.14M66.7 470.16h21.72M124.96 470.16h18.72M66.7 471.05h21.72M106.54 474.62h18.72M66.7 475.51h21.72M217.06 479.07h18.72M235.48 481.74h21.42M143.38 487.98h18.72M143.38 488.87h18.72M88.12 490.65h37.14M161.8 497.77h37.14M217.06 497.77h18.72M217.06 498.66h18.72M143.38 499.55h18.72M143.38 500.45h18.72M143.38 501.34h18.72M143.38 502.23h18.72M143.38 503.12h18.72M143.38 504.01h18.72M143.38 504.9h18.72"/>
<path stroke="#af0a26" d="M106.54 349.04h18.72M106.54 350.82h18.72M106.54 398.91h18.72M143.38 398.91h18.72M106.54 403.37h18.72"/>
<path stroke="#b6deec" d="M161.8 347.26h18.72M180.22 374.87h18.72M180.22 375.76h18.72M217.06 375.76h18.72M180.22 376.65h18.72M161.8 381.1h18.72M198.64 381.1h37.14M161.8 382.88h18.72M198.64 382.88h18.72M161.8 383.77h18.72M217.06 383.77h18.72M66.7 428.3h21.72M106.54 430.09h18.72M66.7 438.1h21.72M124.96 439.88h18.72M66.7 440.77h21.72M106.54 444.34h18.72M66.7 447.01h21.72M106.54 447.01h18.72M88.12 448.79h37.14M124.96 456.8h37.14M106.54 458.59h55.56M106.54 459.48h18.72M143.38 459.48h18.72M106.54 462.15h18.72M66.7 464.82h21.72M143.38 464.82h18.72M106.54 465.71h18.72M106.54 466.6h18.72M106.54 468.38h18.72M88.12 470.16h18.72M66.7 471.95h21.72M106.54 471.95h37.14M88.12 473.73h37.14M143.38 477.29h18.72M161.8 479.07h18.72M235.48 479.07h21.42M161.8 482.63h18.72M235.48 482.63h21.42M88.12 487.09h18.72M88.12 487.98h18.72M88.12 489.76h37.14M143.38 489.76h18.72M66.7 490.65h21.72M143.38 490.65h18.72M143.38 492.43h18.72M235.48 496.88h21.42M235.48 497.77h21.42M235.48 498.66h21.42M180.22 499.55h18.72M235.48 499.55h21.42M180.22 500.45h18.72M235.48 500.45h21.42M180.22 501.34h18.72M235.48 501.34h21.42M180.22 502.23h18.72M235.48 502.23h21.42M180.22 503.12h18.72M235.48 503.12h21.42M180.22 504.01h18.72M235.48 504.01h21.42M180.22 504.9h18.72M235.48 504.9h21.42"/>
<path stroke="#b91326" d="M124.96 346.37h18.72M124.96 395.35h18.72M124.96 398.91h18.72M143.38 403.37h18.72M217.06 441.66h18.72M217.06 443.45h18.72"/>
<path stroke="#c0e3ef" d="M161.8 348.15h18.72M198.64 366.85h18.72M161.8 367.74h18.72M198.64 373.98h18.72M198.64 374.87h18.72M198.64 375.76h18.72M180.22 378.43h18.72M217.06 378.43h18.72M161.8 379.32h18.72M235.48 379.32h21.42M88.12 422.07h18.72M66.7 425.63h21.72M124.96 435.43h18.72M124.96 437.21h18.72M124.96 438.1h18.72M66.7 444.34h21.72M143.38 449.68h18.72M88.12 450.57h18.72M124.96 450.57h18.72M66.7 454.13h21.72M106.54 456.8h18.72M88.12 458.59h18.72M88.12 459.48h18.72M106.54 464.82h18.72M88.12 474.62h18.72M106.54 476.4h18.72M124.96 478.18h37.14M161.8 479.96h18.72M217.06 479.96h39.84M66.7 487.09h21.72M143.38 487.09h18.72M88.12 488.87h18.72M66.7 489.76h21.72"/>
<path stroke="#c31d27" d="M66.7 331.23h21.72M88.12 340.13h37.14M66.7 343.7h21.72M106.54 343.7h18.72M143.38 356.16h18.72M88.12 387.34h18.72M124.96 394.46h18.72M143.38 397.13h18.72M88.12 398.02h18.72M66.7 402.48h21.72M217.06 406.04h18.72M217.06 412.27h39.84M161.8 436.32h18.72"/>
<path stroke="#cbe9f2" d="M161.8 349.93h18.72M161.8 365.96h18.72M198.64 367.74h18.72M217.06 371.3h39.84M217.06 372.2h18.72M180.22 373.09h18.72M180.22 373.98h18.72M235.48 375.76h21.42M180.22 379.32h55.56M124.96 430.98h18.72M106.54 432.76h18.72M66.7 436.32h21.72M143.38 438.99h18.72M88.12 443.45h18.72M143.38 445.23h18.72M124.96 452.35h18.72M106.54 454.13h18.72M66.7 456.8h21.72M124.96 474.62h18.72M66.7 478.18h21.72M161.8 480.85h18.72M235.48 480.85h21.42M66.7 484.41h21.72M106.54 484.41h18.72M106.54 486.2h18.72M180.22 495.1h18.72M217.06 495.1h18.72M161.8 495.99h18.72M235.48 495.99h21.42"/>
<path stroke="#cd2627" d="M66.7 328.55h21.72M66.7 327.66h21.72M66.7 326.77h21.72M66.7 325.88h21.72M66.7 329.45h21.72M66.7 330.34h21.72M124.96 336.57h18.72M124.96 340.13h18.72M88.12 351.71h18.72M106.54 366.85h18.72M106.54 367.74h18.72M66.7 384.66h21.72M106.54 384.66h18.72M66.7 385.55h21.72M66.7 387.34h21.72M124.96 387.34h18.72M88.12 388.23h18.72M124.96 388.23h18.72M88.12 389.12h18.72M124.96 389.12h18.72M66.7 391.79h21.72M106.54 391.79h18.72M124.96 393.57h37.14M143.38 394.46h18.72M143.38 396.24h18.72M66.7 398.02h21.72M217.06 406.93h18.72M161.8 412.27h18.72M198.64 412.27h18.72M217.06 444.34h18.72M235.48 447.9h21.42M180.22 451.46h18.72M235.48 451.46h21.42"/>
<path stroke="#d5eef5" d="M161.8 349.04h18.72M161.8 356.16h18.72M161.8 366.85h37.14M180.22 367.74h18.72M180.22 369.52h18.72M180.22 370.41h37.14M235.48 370.41h21.42M180.22 371.3h37.14M235.48 373.09h21.42M124.96 420.29h18.72M106.54 422.96h18.72M88.12 426.52h18.72M88.12 432.76h18.72M66.7 434.54h21.72M143.38 439.88h18.72M143.38 440.77h18.72M88.12 442.55h37.14M143.38 443.45h18.72M66.7 445.23h21.72M88.12 452.35h18.72M124.96 466.6h18.72M124.96 467.49h37.14M143.38 468.38h18.72M66.7 469.27h21.72M124.96 469.27h18.72M143.38 472.84h18.72M88.12 475.51h18.72M88.12 476.4h18.72M143.38 476.4h18.72M198.64 495.1h18.72M180.22 495.99h18.72M198.64 496.88h18.72"/>
<path stroke="#d73027" d="M66.7 344.59h21.72M88.12 347.26h18.72M143.38 347.26h18.72M88.12 348.15h18.72M143.38 349.04h18.72M88.12 349.93h18.72M143.38 349.93h18.72M124.96 384.66h18.72M106.54 385.55h18.72M143.38 388.23h18.72M143.38 389.12h18.72M124.96 390.01h18.72M66.7 390.9h21.72M124.96 390.9h18.72M143.38 391.79h18.72M66.7 392.68h21.72M106.54 392.68h55.56M66.7 399.8h40.14M88.12 402.48h18.72M180.22 402.48h18.72M161.8 411.38h37.14M180.22 412.27h18.72M217.06 446.12h18.72M235.48 447.01h21.42M161.8 450.57h18.72M161.8 451.46h18.72M161.8 452.35h37.14M161.8 453.24h18.72"/>
<path stroke="#dd3c2d" d="M124.96 337.46h18.72M106.54 338.35h37.14M124.96 341.91h18.72M124.96 342.8h18.72M124.96 347.26h18.72M143.38 348.15h18.72M88.12 349.04h18.72M124.96 349.04h18.72M88.12 350.82h18.72M124.96 350.82h18.72M124.96 351.71h18.72M143.38 357.05h18.72M124.96 385.55h18.72M66.7 386.45h21.72M66.7 390.01h21.72M143.38 390.01h18.72M88.12 390.9h37.14M143.38 390.9h18.72M124.96 391.79h18.72M106.54 396.24h18.72M88.12 397.13h18.72M66.7 398.91h40.14M66.7 403.37h40.14M198.64 411.38h58.26M217.06 445.23h18.72M180.22 450.57h18.72M235.48 450.57h21.42"/>
<path stroke="#e0f3f8" d="M161.8 357.95h18.72M180.22 365.07h18.72M180.22 365.96h18.72M217.06 369.52h18.72M217.06 370.41h18.72M180.22 372.2h37.14M235.48 372.2h21.42M143.38 427.41h18.72M88.12 433.65h18.72M88.12 439.88h18.72M88.12 441.66h18.72M143.38 442.55h18.72M66.7 446.12h21.72M143.38 446.12h18.72M143.38 448.79h18.72M106.54 450.57h18.72M88.12 453.24h18.72M124.96 453.24h18.72M66.7 455.02h21.72M106.54 455.02h18.72M66.7 457.7h21.72M66.7 458.59h21.72M124.96 465.71h18.72M143.38 466.6h18.72M66.7 468.38h21.72M124.96 468.38h18.72M143.38 471.95h18.72M106.54 475.51h18.72M143.38 475.51h18.72M88.12 477.29h37.14M88.12 484.41h18.72M161.8 493.32h18.72M161.8 494.21h18.72M161.8 495.1h18.72M235.48 495.1h21.42M198.64 495.99h37.14M161.8 498.66h18.72M161.8 499.55h18.72M161.8 500.45h18.72M161.8 501.34h18.72M161.8 502.23h18.72M161.8 503.12h18.72M161.8 504.01h18.72M161.8 504.9h18.72"/>
<path stroke="#e34832" d="M124.96 331.23h18.72M66.7 332.12h21.72M106.54 341.02h18.72M106.54 341.91h18.72M88.12 342.8h18.72M143.38 342.8h18.72M106.54 344.59h18.72M124.96 345.48h18.72M106.54 346.37h18.72M143.38 346.37h18.72M124.96 348.15h18.72M66.7 349.04h21.72M66.7 349.93h21.72M124.96 349.93h18.72M66.7 354.38h21.72M106.54 354.38h18.72M143.38 354.38h18.72M88.12 386.45h18.72M124.96 386.45h18.72M180.22 386.45h18.72M88.12 390.01h37.14M106.54 395.35h18.72M143.38 395.35h18.72M180.22 403.37h18.72M161.8 406.04h18.72M198.64 406.04h18.72M235.48 406.04h21.42M217.06 410.49h18.72M161.8 437.21h18.72M217.06 442.55h18.72M180.22 453.24h18.72"/>
<path stroke="#e6f5ed" d="M198.64 369.52h18.72M198.64 373.09h37.14M235.48 373.98h21.42M161.8 374.87h18.72M217.06 374.87h39.84M161.8 376.65h18.72M106.54 422.07h18.72M88.12 423.85h18.72M124.96 424.74h37.14M88.12 425.63h18.72M143.38 428.3h18.72M124.96 431.87h18.72M106.54 433.65h18.72M66.7 435.43h21.72M66.7 437.21h21.72M143.38 438.1h18.72M106.54 439.88h18.72M88.12 440.77h37.14M106.54 441.66h18.72M143.38 441.66h18.72M88.12 444.34h18.72M106.54 451.46h18.72M143.38 469.27h18.72M143.38 473.73h18.72M143.38 474.62h18.72M106.54 478.18h18.72M198.64 497.77h18.72"/>
<path stroke="#e85538" d="M106.54 336.57h18.72M106.54 339.24h37.14M88.12 341.02h18.72M124.96 341.02h18.72M88.12 341.91h18.72M143.38 341.91h18.72M106.54 342.8h18.72M143.38 343.7h18.72M88.12 354.38h18.72M106.54 356.16h18.72M106.54 365.07h18.72M66.7 366.85h21.72M143.38 368.63h18.72M143.38 384.66h18.72M143.38 387.34h18.72M66.7 388.23h21.72M66.7 397.13h21.72M106.54 398.02h18.72M198.64 401.59h18.72M180.22 406.04h18.72M161.8 406.93h18.72M198.64 406.93h18.72M198.64 408.71h18.72M180.22 410.49h37.14M217.06 419.4h18.72M217.06 420.29h18.72M161.8 421.18h18.72M235.48 421.18h21.42M161.8 441.66h37.14M235.48 443.45h21.42M217.06 451.46h18.72M161.8 457.7h18.72"/>
<path stroke="#ecf8e1" d="M161.8 340.13h18.72M161.8 357.05h18.72M161.8 358.84h18.72M180.22 368.63h55.56M161.8 373.98h18.72M161.8 397.13h18.72M124.96 414.05h18.72M124.96 421.18h18.72M124.96 422.96h18.72M124.96 423.85h37.14M88.12 424.74h18.72M106.54 427.41h18.72M124.96 464.82h18.72M161.8 474.62h18.72M124.96 480.85h18.72M66.7 485.3h40.14M106.54 487.09h18.72M235.48 491.54h21.42"/>
<path stroke="#ee613d" d="M106.54 328.55h55.56M106.54 327.66h55.56M106.54 326.77h55.56M106.54 325.88h55.56M106.54 329.45h55.56M88.12 331.23h37.14M143.38 331.23h18.72M143.38 333.9h18.72M88.12 335.68h18.72M66.7 336.57h40.14M88.12 337.46h18.72M143.38 340.13h18.72M88.12 343.7h18.72M88.12 346.37h18.72M124.96 352.6h18.72M88.12 353.49h18.72M124.96 353.49h37.14M66.7 355.27h58.56M143.38 355.27h18.72M106.54 361.51h55.56M106.54 365.96h18.72M66.7 367.74h21.72M106.54 368.63h18.72M180.22 387.34h18.72M180.22 392.68h18.72M66.7 393.57h40.14M66.7 394.46h40.14M180.22 401.59h18.72M198.64 405.15h58.26M235.48 408.71h21.42M198.64 409.6h18.72M161.8 416.73h18.72M161.8 420.29h18.72M235.48 420.29h21.42M217.06 421.18h18.72M161.8 422.07h18.72M161.8 439.88h18.72M161.8 443.45h18.72M161.8 444.34h18.72M198.64 447.01h18.72M198.64 447.9h18.72M198.64 450.57h18.72M198.64 452.35h18.72M217.06 454.13h18.72M217.06 457.7h18.72M161.8 458.59h18.72"/>
<path stroke="#f3fad6" d="M217.06 340.13h18.72M217.06 341.02h18.72M198.64 345.48h37.14M217.06 349.04h18.72M235.48 350.82h21.42M161.8 353.49h18.72M161.8 354.38h18.72M161.8 359.73h18.72M217.06 359.73h18.72M180.22 362.4h18.72M217.06 362.4h39.84M161.8 365.07h18.72M217.06 365.96h18.72M217.06 366.85h18.72M161.8 370.41h18.72M161.8 371.3h18.72M217.06 373.98h18.72M161.8 375.76h18.72M66.7 383.77h21.72M106.54 406.04h55.56M124.96 414.95h18.72M124.96 417.62h18.72M66.7 418.51h76.98M124.96 419.4h18.72M124.96 426.52h37.14M106.54 428.3h18.72M66.7 429.2h21.72M88.12 430.98h37.14M143.38 430.98h18.72M66.7 432.76h21.72M143.38 432.76h18.72M143.38 434.54h18.72M88.12 436.32h18.72M143.38 436.32h18.72M143.38 444.34h18.72M124.96 446.12h18.72M180.22 469.27h18.72M235.48 474.62h21.42M198.64 476.4h18.72M235.48 476.4h21.42M161.8 477.29h55.56M88.12 478.18h18.72M88.12 480.85h18.72M124.96 484.41h37.14M106.54 485.3h18.72M161.8 491.54h37.14"/>
<path stroke="#f46d43" d="M88.12 328.55h18.72M88.12 327.66h18.72M88.12 326.77h18.72M88.12 325.88h18.72M88.12 329.45h18.72M88.12 330.34h73.98M66.7 333.9h21.72M106.54 333.9h37.14M106.54 335.68h18.72M66.7 337.46h21.72M124.96 343.7h18.72M143.38 344.59h18.72M143.38 350.82h18.72M106.54 352.6h18.72M143.38 352.6h18.72M106.54 353.49h18.72M66.7 356.16h40.14M124.96 356.16h18.72M66.7 357.95h21.72M106.54 357.95h18.72M143.38 357.95h18.72M106.54 358.84h18.72M143.38 358.84h18.72M88.12 361.51h18.72M124.96 364.18h18.72M88.12 365.96h18.72M88.12 366.85h18.72M124.96 367.74h37.14M66.7 368.63h21.72M124.96 368.63h18.72M106.54 369.52h18.72M143.38 369.52h18.72M88.12 384.66h18.72M235.48 390.01h21.42M198.64 391.79h18.72M198.64 392.68h18.72M235.48 392.68h21.42M66.7 396.24h40.14M106.54 397.13h18.72M198.64 402.48h58.26M198.64 403.37h18.72M217.06 404.26h18.72M161.8 405.15h37.14M180.22 406.93h18.72M235.48 406.93h21.42M217.06 407.82h39.84M217.06 408.71h18.72M180.22 409.6h18.72M217.06 409.6h18.72M217.06 422.07h18.72M217.06 422.96h39.84M217.06 436.32h39.84M217.06 437.21h39.84M180.22 438.99h18.72M161.8 440.77h18.72M235.48 444.34h21.42M198.64 446.12h18.72M180.22 447.01h18.72M217.06 447.01h18.72M161.8 447.9h37.14M217.06 447.9h18.72M161.8 448.79h37.14M217.06 448.79h18.72M198.64 451.46h18.72M217.06 453.24h18.72M161.8 455.91h18.72M217.06 455.91h18.72M217.06 458.59h18.72"/>
<path stroke="#f67a49" d="M88.12 332.12h18.72M124.96 332.12h18.72M88.12 333.9h18.72M106.54 334.79h37.14M124.96 335.68h18.72M106.54 337.46h18.72M66.7 338.35h21.72M66.7 339.24h40.14M143.38 341.02h18.72M66.7 342.8h21.72M88.12 344.59h18.72M124.96 344.59h18.72M66.7 350.82h21.72M66.7 351.71h21.72M143.38 351.71h18.72M88.12 352.6h18.72M124.96 354.38h18.72M66.7 358.84h21.72M124.96 360.62h18.72M124.96 363.29h18.72M66.7 364.18h21.72M143.38 364.18h18.72M124.96 365.07h18.72M66.7 365.96h21.72M124.96 365.96h18.72M143.38 366.85h18.72M88.12 385.55h18.72M143.38 385.55h18.72M143.38 386.45h18.72M66.7 389.12h21.72M235.48 391.79h21.42M235.48 393.57h21.42M235.48 394.46h21.42M88.12 395.35h18.72M198.64 400.7h18.72M161.8 404.26h18.72M180.22 407.82h37.14M180.22 408.71h18.72M66.7 411.38h21.72M66.7 412.27h21.72M217.06 418.51h18.72M235.48 422.07h21.42M217.06 424.74h18.72M161.8 438.1h37.14M235.48 438.1h21.42M161.8 438.99h18.72M235.48 438.99h21.42M161.8 442.55h18.72M161.8 445.23h18.72M235.48 446.12h21.42M161.8 447.01h18.72M198.64 448.79h18.72M235.48 448.79h21.42M217.06 450.57h18.72M217.06 452.35h18.72M198.64 453.24h18.72M217.06 456.8h18.72"/>
<path stroke="#f8874f" d="M106.54 332.12h18.72M143.38 332.12h18.72M88.12 333.01h18.72M124.96 333.01h37.14M88.12 334.79h18.72M88.12 338.35h18.72M143.38 339.24h18.72M66.7 341.91h21.72M88.12 345.48h37.14M143.38 345.48h18.72M66.7 352.6h21.72M124.96 355.27h18.72M106.54 357.05h18.72M88.12 357.95h18.72M124.96 359.73h18.72M143.38 362.4h18.72M88.12 364.18h18.72M66.7 365.07h40.14M124.96 366.85h18.72M88.12 367.74h18.72M88.12 368.63h18.72M66.7 369.52h21.72M124.96 369.52h18.72M106.54 377.54h18.72M235.48 390.9h21.42M180.22 391.79h18.72M66.7 395.35h21.72M217.06 403.37h39.84M180.22 404.26h37.14M235.48 404.26h21.42M235.48 413.16h21.42M161.8 417.62h18.72M198.64 420.29h18.72M161.8 422.96h18.72M217.06 423.85h18.72M217.06 427.41h18.72M217.06 428.3h18.72M180.22 442.55h18.72M198.64 443.45h18.72M198.64 445.23h18.72M161.8 446.12h18.72M180.22 449.68h55.56M217.06 455.02h18.72M161.8 456.8h18.72"/>
<path stroke="#f99455" d="M235.48 328.55h21.42M235.48 327.66h21.42M235.48 326.77h21.42M235.48 325.88h21.42M235.48 329.45h21.42M66.7 333.01h21.72M106.54 333.01h18.72M180.22 337.46h18.72M143.38 338.35h18.72M66.7 346.37h21.72M66.7 353.49h21.72M66.7 357.05h21.72M124.96 357.95h18.72M124.96 358.84h18.72M66.7 359.73h21.72M66.7 360.62h40.14M88.12 362.4h18.72M88.12 363.29h18.72M143.38 363.29h18.72M106.54 364.18h18.72M66.7 377.54h21.72M143.38 380.21h18.72M106.54 381.1h37.14M235.48 386.45h21.42M235.48 389.12h21.42M198.64 395.35h18.72M198.64 396.24h18.72M180.22 400.7h18.72M235.48 401.59h21.42M161.8 410.49h18.72M180.22 413.16h18.72M217.06 413.16h18.72M161.8 418.51h18.72M180.22 419.4h18.72M180.22 420.29h18.72M198.64 421.18h18.72M180.22 430.98h18.72M235.48 435.43h21.42M235.48 441.66h21.42M235.48 445.23h21.42M161.8 449.68h18.72M235.48 449.68h21.42M161.8 454.13h18.72M217.06 460.37h18.72"/>
<path stroke="#f9fdca" d="M161.8 339.24h18.72M161.8 341.02h18.72M161.8 343.7h18.72M161.8 345.48h37.14M180.22 347.26h37.14M180.22 349.04h37.14M235.48 349.04h21.42M180.22 349.93h37.14M235.48 349.93h21.42M198.64 350.82h18.72M180.22 351.71h37.14M235.48 351.71h21.42M217.06 352.6h18.72M180.22 353.49h18.72M217.06 353.49h18.72M180.22 354.38h18.72M180.22 356.16h18.72M235.48 359.73h21.42M161.8 360.62h18.72M161.8 361.51h37.14M217.06 361.51h39.84M198.64 362.4h18.72M235.48 366.85h21.42M217.06 367.74h39.84M235.48 369.52h21.42M88.12 370.41h18.72M88.12 375.76h18.72M88.12 378.43h18.72M161.8 399.8h18.72M66.7 406.04h40.14M66.7 414.95h21.72M143.38 414.95h18.72M66.7 416.73h21.72M124.96 416.73h18.72M106.54 417.62h18.72M66.7 419.4h21.72M106.54 419.4h18.72M106.54 426.52h18.72M143.38 429.2h18.72M66.7 430.98h21.72M88.12 434.54h37.14M106.54 436.32h18.72M88.12 438.99h37.14M124.96 443.45h18.72M124.96 445.23h18.72M124.96 447.9h18.72M180.22 456.8h18.72M180.22 464.82h18.72M235.48 464.82h21.42M161.8 466.6h95.1M161.8 469.27h18.72M198.64 469.27h58.26M235.48 471.95h21.42M180.22 474.62h37.14M180.22 475.51h18.72M217.06 475.51h18.72M161.8 476.4h37.14M217.06 476.4h18.72M217.06 477.29h39.84M180.22 489.76h18.72M217.06 489.76h18.72M180.22 490.65h18.72M217.06 490.65h39.84M198.64 491.54h37.14"/>
<path stroke="#fba15b" d="M180.22 328.55h18.72M217.06 328.55h18.72M180.22 327.66h18.72M217.06 327.66h18.72M180.22 326.77h18.72M217.06 326.77h18.72M180.22 325.88h18.72M217.06 325.88h18.72M180.22 329.45h18.72M217.06 329.45h18.72M235.48 330.34h21.42M180.22 331.23h18.72M66.7 335.68h21.72M88.12 358.84h18.72M88.12 359.73h18.72M143.38 359.73h18.72M106.54 360.62h18.72M143.38 360.62h18.72M106.54 362.4h37.14M66.7 363.29h21.72M106.54 363.29h18.72M88.12 369.52h18.72M66.7 370.41h21.72M66.7 371.3h21.72M143.38 371.3h18.72M106.54 382.88h18.72M198.64 386.45h37.14M180.22 388.23h37.14M235.48 388.23h21.42M180.22 389.12h37.14M235.48 395.35h21.42M198.64 398.02h18.72M198.64 398.91h18.72M217.06 401.59h18.72M235.48 410.49h21.42M106.54 411.38h18.72M124.96 412.27h18.72M161.8 413.16h18.72M198.64 413.16h18.72M161.8 415.84h18.72M161.8 419.4h18.72M235.48 419.4h21.42M180.22 421.18h18.72M198.64 422.07h18.72M161.8 424.74h18.72M217.06 435.43h18.72M198.64 441.66h18.72M180.22 443.45h18.72M180.22 444.34h37.14M235.48 460.37h21.42M106.54 479.96h18.72M106.54 481.74h18.72"/>
<path stroke="#fdae61" d="M161.8 328.55h18.72M161.8 327.66h18.72M161.8 326.77h18.72M161.8 325.88h18.72M161.8 329.45h18.72M180.22 330.34h18.72M217.06 330.34h18.72M161.8 331.23h18.72M235.48 331.23h21.42M66.7 334.79h21.72M143.38 335.68h18.72M143.38 336.57h18.72M180.22 336.57h18.72M66.7 340.13h21.72M88.12 357.05h18.72M124.96 357.05h18.72M106.54 359.73h18.72M66.7 376.65h21.72M143.38 379.32h18.72M124.96 382.88h37.14M124.96 383.77h37.14M198.64 384.66h18.72M235.48 387.34h21.42M161.8 392.68h18.72M217.06 392.68h18.72M161.8 393.57h37.14M180.22 394.46h37.14M235.48 396.24h21.42M161.8 403.37h18.72M66.7 407.82h21.72M161.8 408.71h18.72M161.8 409.6h18.72M124.96 411.38h18.72M198.64 414.05h18.72M198.64 414.95h18.72M180.22 415.84h76.68M180.22 416.73h18.72M217.06 416.73h39.84M180.22 418.51h18.72M235.48 418.51h21.42M180.22 422.07h18.72M235.48 425.63h21.42M235.48 426.52h21.42M161.8 427.41h18.72M235.48 427.41h21.42M180.22 428.3h37.14M217.06 430.09h39.84M198.64 430.98h37.14M198.64 433.65h18.72M235.48 434.54h21.42M180.22 436.32h37.14M180.22 437.21h37.14M217.06 438.99h18.72M180.22 439.88h37.14M235.48 454.13h21.42M235.48 455.02h21.42M106.54 479.07h18.72"/>
<path stroke="#fdb86a" d="M161.8 330.34h18.72M235.48 332.12h21.42M143.38 337.46h18.72M235.48 341.91h21.42M143.38 370.41h18.72M66.7 375.76h21.72M106.54 378.43h18.72M106.54 383.77h18.72M217.06 384.66h39.84M180.22 385.55h76.68M198.64 387.34h37.14M180.22 390.01h37.14M161.8 390.9h18.72M161.8 391.79h18.72M217.06 391.79h18.72M198.64 393.57h37.14M161.8 394.46h18.72M198.64 397.13h18.72M235.48 400.7h21.42M161.8 402.48h18.72M161.8 407.82h18.72M66.7 408.71h21.72M235.48 409.6h21.42M88.12 411.38h18.72M88.12 412.27h37.14M161.8 414.05h18.72M217.06 414.05h39.84M161.8 414.95h37.14M235.48 424.74h21.42M217.06 425.63h18.72M180.22 427.41h37.14M235.48 428.3h21.42M198.64 429.2h18.72M198.64 430.09h18.72M235.48 430.98h21.42M217.06 433.65h18.72M217.06 434.54h18.72M217.06 438.1h18.72M198.64 438.99h18.72M217.06 439.88h39.84M180.22 440.77h18.72M217.06 440.77h39.84M180.22 446.12h18.72M161.8 455.02h18.72M235.48 459.48h21.42M217.06 461.26h18.72M217.06 462.15h18.72M217.06 463.04h18.72M106.54 480.85h18.72"/>
<path stroke="#fdc274" d="M161.8 332.12h37.14M143.38 334.79h18.72M235.48 337.46h21.42M198.64 338.35h37.14M235.48 342.8h21.42M235.48 346.37h21.42M235.48 348.15h21.42M66.7 361.51h21.72M143.38 365.96h18.72M106.54 371.3h37.14M66.7 378.43h21.72M66.7 380.21h40.14M106.54 381.99h37.14M180.22 384.66h18.72M161.8 390.01h18.72M180.22 390.9h37.14M217.06 394.46h18.72M198.64 399.8h18.72M180.22 414.05h18.72M217.06 414.95h39.84M180.22 417.62h18.72M217.06 417.62h39.84M180.22 422.96h37.14M161.8 423.85h18.72M235.48 423.85h21.42M161.8 426.52h18.72M198.64 426.52h37.14M161.8 428.3h18.72M180.22 429.2h18.72M217.06 429.2h39.84M180.22 432.76h18.72M180.22 433.65h18.72M235.48 433.65h21.42M180.22 435.43h37.14M198.64 438.1h18.72M198.64 440.77h18.72M235.48 442.55h21.42M235.48 457.7h21.42M217.06 459.48h18.72M217.06 463.93h18.72"/>
<path stroke="#fecc7d" d="M180.22 333.9h18.72M180.22 334.79h76.68M180.22 338.35h18.72M235.48 340.13h21.42M66.7 341.02h21.72M235.48 341.02h21.42M235.48 344.59h21.42M66.7 345.48h21.72M106.54 373.09h55.56M106.54 373.98h37.14M124.96 377.54h37.14M88.12 379.32h18.72M124.96 379.32h18.72M124.96 380.21h18.72M66.7 381.1h40.14M143.38 381.1h18.72M161.8 386.45h18.72M161.8 395.35h37.14M217.06 395.35h18.72M180.22 396.24h18.72M235.48 398.02h21.42M217.06 400.7h18.72M66.7 404.26h21.72M66.7 405.15h21.72M198.64 418.51h18.72M180.22 426.52h18.72M180.22 430.09h18.72M180.22 431.87h18.72M217.06 431.87h18.72M217.06 432.76h39.84M198.64 442.55h18.72M180.22 445.23h18.72M180.22 472.84h18.72M66.7 479.96h21.72M66.7 481.74h21.72"/>
<path stroke="#fed687" d="M198.64 328.55h18.72M198.64 327.66h18.72M198.64 326.77h18.72M198.64 325.88h18.72M198.64 329.45h18.72M198.64 331.23h18.72M217.06 333.9h39.84M161.8 334.79h18.72M198.64 337.46h37.14M235.48 338.35h21.42M198.64 343.7h18.72M235.48 343.7h21.42M180.22 344.59h37.14M235.48 347.26h21.42M217.06 350.82h18.72M143.38 365.07h18.72M106.54 370.41h18.72M66.7 373.98h21.72M143.38 373.98h18.72M106.54 375.76h18.72M66.7 379.32h21.72M106.54 380.21h18.72M88.12 382.88h18.72M161.8 387.34h18.72M217.06 388.23h18.72M161.8 389.12h18.72M161.8 396.24h18.72M180.22 398.02h18.72M180.22 398.91h18.72M235.48 398.91h21.42M161.8 401.59h18.72M88.12 407.82h18.72M88.12 409.6h55.56M88.12 413.16h18.72M88.12 415.84h37.14M198.64 419.4h18.72M66.7 421.18h40.14M143.38 421.18h18.72M66.7 422.07h21.72M161.8 425.63h55.56M235.48 431.87h21.42M198.64 432.76h18.72M198.64 434.54h18.72M143.38 452.35h18.72M180.22 454.13h37.14M198.64 455.91h18.72M235.48 455.91h21.42M198.64 457.7h18.72M198.64 460.37h18.72M180.22 462.15h37.14M198.64 465.71h18.72M198.64 472.84h18.72M143.38 479.07h18.72M143.38 479.96h18.72M143.38 483.52h18.72"/>
<path stroke="#fee090" d="M198.64 330.34h18.72M198.64 332.12h37.14M161.8 333.9h18.72M198.64 333.9h18.72M161.8 335.68h18.72M198.64 336.57h37.14M217.06 341.91h18.72M161.8 342.8h18.72M217.06 343.7h18.72M217.06 344.59h18.72M66.7 348.15h21.72M198.64 352.6h18.72M235.48 353.49h21.42M235.48 354.38h21.42M235.48 357.05h21.42M124.96 370.41h18.72M66.7 372.2h21.72M124.96 372.2h18.72M66.7 373.09h21.72M66.7 374.87h21.72M106.54 374.87h55.56M124.96 375.76h18.72M143.38 376.65h18.72M143.38 378.43h18.72M106.54 379.32h18.72M143.38 381.99h18.72M88.12 383.77h18.72M161.8 384.66h18.72M161.8 388.23h18.72M217.06 389.12h18.72M217.06 396.24h18.72M217.06 398.02h18.72M217.06 398.91h18.72M106.54 407.82h55.56M66.7 409.6h21.72M143.38 409.6h18.72M88.12 410.49h73.98M66.7 413.16h21.72M106.54 413.16h18.72M143.38 413.16h18.72M88.12 416.73h18.72M143.38 416.73h18.72M88.12 420.29h18.72M143.38 420.29h18.72M143.38 422.07h18.72M161.8 430.98h18.72M198.64 431.87h18.72M161.8 433.65h18.72M180.22 434.54h18.72M143.38 453.24h18.72M198.64 456.8h18.72M235.48 456.8h21.42M161.8 460.37h18.72M161.8 461.26h55.56M161.8 462.15h18.72M217.06 465.71h18.72M180.22 471.95h37.14M66.7 479.07h21.72M143.38 481.74h18.72M143.38 482.63h18.72"/>
<path stroke="#fee699" d="M217.06 331.23h18.72M180.22 333.01h18.72M235.48 335.68h21.42M235.48 336.57h21.42M198.64 339.24h37.14M180.22 341.02h37.14M161.8 341.91h55.56M198.64 342.8h18.72M180.22 343.7h18.72M235.48 345.48h21.42M66.7 347.26h21.72M217.06 351.71h18.72M235.48 355.27h21.42M235.48 356.16h21.42M66.7 362.4h21.72M143.38 372.2h18.72M143.38 375.76h18.72M106.54 376.65h37.14M124.96 378.43h18.72M88.12 381.99h18.72M161.8 385.55h18.72M217.06 399.8h18.72M106.54 408.71h18.72M66.7 410.49h21.72M143.38 411.38h18.72M143.38 412.27h18.72M198.64 416.73h18.72M88.12 417.62h18.72M143.38 417.62h18.72M143.38 419.4h18.72M66.7 420.29h21.72M143.38 422.96h18.72M180.22 423.85h18.72M180.22 424.74h37.14M198.64 458.59h18.72M235.48 458.59h21.42M235.48 461.26h21.42M235.48 462.15h21.42M180.22 463.04h18.72M235.48 463.04h21.42M180.22 463.93h18.72"/>
<path stroke="#feeca3" d="M161.8 333.01h18.72M198.64 333.01h58.26M180.22 335.68h55.56M161.8 338.35h18.72M180.22 339.24h18.72M235.48 339.24h21.42M198.64 340.13h18.72M180.22 342.8h18.72M217.06 346.37h18.72M235.48 352.6h21.42M198.64 353.49h18.72M161.8 364.18h18.72M235.48 364.18h21.42M161.8 368.63h18.72M88.12 371.3h18.72M106.54 372.2h18.72M66.7 381.99h21.72M217.06 390.01h18.72M217.06 390.9h18.72M180.22 397.13h18.72M235.48 397.13h21.42M161.8 400.7h18.72M88.12 404.26h18.72M143.38 404.26h18.72M66.7 406.93h21.72M88.12 408.71h18.72M66.7 414.05h58.56M143.38 414.05h18.72M106.54 414.95h18.72M66.7 422.96h21.72M198.64 423.85h18.72M106.54 425.63h18.72M161.8 430.09h18.72M161.8 435.43h18.72M180.22 455.02h37.14M161.8 459.48h18.72M198.64 459.48h18.72M161.8 463.04h18.72M198.64 463.04h18.72M161.8 463.93h18.72M198.64 463.93h18.72M235.48 463.93h21.42M198.64 464.82h37.14M198.64 470.16h18.72M143.38 485.3h18.72M180.22 487.98h18.72M217.06 487.98h18.72M198.64 488.87h18.72"/>
<path stroke="#fff3ac" d="M161.8 337.46h18.72M180.22 340.13h18.72M217.06 342.8h18.72M161.8 344.59h18.72M161.8 346.37h55.56M198.64 348.15h37.14M198.64 357.05h18.72M217.06 357.95h18.72M180.22 358.84h18.72M217.06 358.84h39.84M217.06 363.29h18.72M217.06 364.18h18.72M217.06 365.07h39.84M235.48 368.63h21.42M88.12 373.09h18.72M217.06 397.13h18.72M161.8 398.02h18.72M180.22 399.8h18.72M235.48 399.8h21.42M124.96 404.26h18.72M124.96 405.15h18.72M88.12 406.93h73.98M124.96 408.71h37.14M88.12 414.95h18.72M124.96 415.84h37.14M198.64 417.62h18.72M143.38 418.51h18.72M106.54 421.18h18.72M66.7 423.85h21.72M66.7 424.74h21.72M124.96 425.63h18.72M161.8 429.2h18.72M143.38 430.09h18.72M161.8 432.76h18.72M88.12 435.43h18.72M143.38 435.43h18.72M88.12 438.1h37.14M124.96 444.34h18.72M124.96 447.01h18.72M180.22 457.7h18.72M235.48 467.49h21.42M180.22 470.16h18.72M217.06 470.16h18.72M217.06 471.05h18.72M161.8 472.84h18.72M235.48 472.84h21.42M161.8 473.73h18.72M235.48 473.73h21.42M161.8 478.18h55.56M235.48 478.18h21.42M88.12 479.07h18.72M88.12 479.96h18.72M66.7 480.85h21.72M143.38 480.85h18.72M88.12 481.74h18.72M124.96 481.74h18.72M66.7 483.52h40.14M124.96 483.52h18.72M124.96 485.3h18.72M161.8 487.98h18.72M235.48 487.98h21.42M217.06 488.87h18.72"/>
<path stroke="#fff9b6" d="M180.22 348.15h18.72M161.8 355.27h18.72M180.22 357.05h18.72M198.64 357.95h18.72M198.64 358.84h18.72M198.64 360.62h37.14M161.8 363.29h18.72M235.48 363.29h21.42M180.22 364.18h37.14M198.64 365.07h18.72M161.8 369.52h18.72M88.12 373.98h18.72M88.12 377.54h18.72M106.54 404.26h18.72M88.12 405.15h37.14M143.38 405.15h18.72M66.7 415.84h21.72M106.54 416.73h18.72M124.96 422.07h18.72M106.54 424.74h18.72M143.38 425.63h18.72M88.12 427.41h18.72M124.96 427.41h18.72M88.12 428.3h18.72M124.96 428.3h18.72M124.96 430.09h18.72M66.7 431.87h21.72M143.38 431.87h37.14M66.7 433.65h21.72M143.38 433.65h18.72M161.8 434.54h18.72M106.54 435.43h18.72M88.12 437.21h37.14M143.38 437.21h18.72M143.38 450.57h18.72M143.38 451.46h18.72M161.8 467.49h37.14M217.06 467.49h18.72M235.48 468.38h21.42M161.8 470.16h18.72M235.48 470.16h21.42M235.48 471.05h21.42M217.06 471.95h18.72M198.64 473.73h37.14M217.06 478.18h18.72M124.96 479.07h18.72M124.96 479.96h18.72M66.7 482.63h21.72M124.96 482.63h18.72M106.54 483.52h18.72M198.64 487.98h18.72M161.8 488.87h37.14M235.48 488.87h21.42M198.64 489.76h18.72M198.64 490.65h18.72M161.8 492.43h18.72M217.06 492.43h39.84M180.22 493.32h18.72M180.22 494.21h18.72M235.48 494.21h21.42"/>
<path stroke="#ffffbf" d="M161.8 336.57h18.72M217.06 347.26h18.72M217.06 349.93h18.72M161.8 350.82h37.14M161.8 351.71h18.72M161.8 352.6h37.14M198.64 354.38h37.14M180.22 355.27h55.56M198.64 356.16h37.14M217.06 357.05h18.72M180.22 357.95h18.72M235.48 357.95h21.42M180.22 359.73h37.14M180.22 360.62h18.72M235.48 360.62h21.42M198.64 361.51h18.72M161.8 362.4h18.72M180.22 363.29h37.14M198.64 365.96h18.72M235.48 365.96h21.42M88.12 372.2h18.72M161.8 372.2h18.72M161.8 373.09h18.72M88.12 374.87h18.72M88.12 376.65h18.72M66.7 382.88h21.72M161.8 398.91h18.72M124.96 413.16h18.72M66.7 417.62h21.72M88.12 419.4h18.72M106.54 420.29h18.72M106.54 423.85h18.72M124.96 429.2h18.72M66.7 430.09h21.72M88.12 431.87h37.14M66.7 450.57h21.72M66.7 451.46h21.72M66.7 452.35h21.72M66.7 453.24h21.72M180.22 455.91h18.72M180.22 458.59h18.72M180.22 459.48h18.72M180.22 460.37h18.72M161.8 464.82h18.72M161.8 465.71h37.14M235.48 465.71h21.42M198.64 467.49h18.72M161.8 468.38h73.98M161.8 471.05h55.56M161.8 471.95h18.72M217.06 472.84h18.72M180.22 473.73h18.72M217.06 474.62h18.72M161.8 475.51h18.72M198.64 475.51h18.72M235.48 475.51h21.42M88.12 482.63h37.14M161.8 489.76h18.72M235.48 489.76h21.42M161.8 490.65h18.72M180.22 492.43h37.14M198.64 493.32h58.26M198.64 494.21h37.14"/>
</g>
<path d="M62.87 329.92L64.8 329L64.8 330.84ZM62.42 332.68L64.8 330.84L64.8 334.52ZM63.02 332.31L64.8 330.84L64.8 333.78ZM62.67 336.36L64.8 334.52L64.8 338.2ZM62.83 339.35L64.8 338.2L64.8 340.5ZM62.7 341.65L64.8 340.5L64.8 342.8ZM62.2 346.02L64.8 342.8L64.8 349.24ZM62.8 345.38L64.8 342.8L64.8 347.95ZM62.9 350.62L64.8 349.24L64.8 352ZM62.49 353L64.8 352L64.8 354ZM61.27 356.4L64.8 354L64.8 358.8ZM62.99 354.72L64.8 354L64.8 355.44ZM62.39 357.12L64.8 355.44L64.8 358.8ZM63.27 357.96L64.8 357.12L64.8 358.8ZM61.95 360.4L64.8 358.8L64.8 362ZM62.89 359.6L64.8 358.8L64.8 360.4ZM63.04 361.2L64.8 360.4L64.8 362ZM61.67 364.5L64.8 362L64.8 367ZM62.44 365.25L64.8 363.5L64.8 367ZM63.22 364.38L64.8 363.5L64.8 365.25ZM61.67 369.5L64.8 367L64.8 372ZM62.45 370L64.8 368L64.8 372ZM63.2 370.6L64.8 369.2L64.8 372ZM59.54 374.8L64.8 372L64.8 377.6ZM61.43 373.68L64.8 372L64.8 375.36ZM62.76 372.84L64.8 372L64.8 373.68ZM62.53 374.52L64.8 373.68L64.8 375.36ZM61.62 376.48L64.8 375.36L64.8 377.6ZM59.65 380.54L64.8 377.6L64.8 383.48ZM61.7 379.07L64.8 377.6L64.8 380.54ZM62.83 378.34L64.8 377.6L64.8 379.07ZM63.06 379.81L64.8 379.07L64.8 380.54ZM61.83 382.01L64.8 380.54L64.8 383.48ZM62.98 381.27L64.8 380.54L64.8 382.01ZM62.89 382.75L64.8 382.01L64.8 383.48ZM61.4 384.74L64.8 383.48L64.8 386ZM62.91 386.76L64.8 386L64.8 387.52ZM61.82 390.56L64.8 387.52L64.8 393.6ZM62.87 389.04L64.8 387.52L64.8 390.56ZM63.01 392.08L64.8 390.56L64.8 393.6ZM62.55 395.5L64.8 393.6L64.8 397.4ZM62.47 399.3L64.8 397.4L64.8 401.2ZM63.07 399.87L64.8 398.54L64.8 401.2ZM61.04 403.1L64.8 401.2L64.8 405ZM62.5 402.15L64.8 401.2L64.8 403.1ZM62.29 404.05L64.8 403.1L64.8 405ZM57.81 407.7L64.8 405L64.8 410.4ZM59.71 407.16L64.8 405L64.8 409.32ZM61.52 407.81L64.8 406.3L64.8 409.32ZM62.83 407.05L64.8 406.3L64.8 407.81ZM62.6 408.56L64.8 407.81L64.8 409.32ZM59.82 412.2L64.8 410.4L64.8 414ZM61.22 411.48L64.8 410.4L64.8 412.56ZM61.98 413.28L64.8 412.56L64.8 414ZM62.53 416.27L64.8 414L64.8 418.55ZM63.23 415.59L64.8 414L64.8 417.19ZM62.53 420.83L64.8 418.55L64.8 423.1ZM63.23 421.96L64.8 420.83L64.8 423.1ZM62.79 424.47L64.8 423.1L64.8 425.83ZM62.27 429.01L64.8 425.83L64.8 432.2ZM62.87 428.38L64.8 425.83L64.8 430.93ZM62.46 433.76L64.8 432.2L64.8 435.32ZM63.2 432.98L64.8 432.2L64.8 433.76ZM61.52 437.66L64.8 435.32L64.8 440ZM63.17 436.02L64.8 435.32L64.8 436.72ZM62.23 438.36L64.8 436.72L64.8 440ZM63.06 437.54L64.8 436.72L64.8 438.36ZM63.02 439.18L64.8 438.36L64.8 440ZM61.62 441.12L64.8 440L64.8 442.24ZM62.59 443.14L64.8 442.24L64.8 444.03ZM62.82 444.75L64.8 444.03L64.8 445.47ZM61.53 448.33L64.8 445.47L64.8 451.2ZM63.19 446.33L64.8 445.47L64.8 447.19ZM62.65 449.19L64.8 447.19L64.8 451.2ZM63.25 448.79L64.8 447.19L64.8 450.4ZM60.74 452.6L64.8 451.2L64.8 454ZM62.42 451.9L64.8 451.2L64.8 452.6ZM62.01 453.3L64.8 452.6L64.8 454ZM61.18 456.8L64.8 454L64.8 459.6ZM61.98 455.96L64.8 454L64.8 457.92ZM62.64 456.35L64.8 454.78L64.8 457.92ZM63 458.76L64.8 457.92L64.8 459.6ZM62.05 461.95L64.8 459.6L64.8 464.3ZM62.99 460.78L64.8 459.6L64.8 461.95ZM63.22 463.13L64.8 461.95L64.8 464.3ZM63.05 465.31L64.8 464.3L64.8 466.32ZM63.04 467.16L64.8 466.32L64.8 468ZM61.34 469.3L64.8 468L64.8 470.6ZM61.91 472.16L64.8 470.6L64.8 473.72ZM62.91 471.38L64.8 470.6L64.8 472.16ZM62.89 472.94L64.8 472.16L64.8 473.72ZM61.9 476.63L64.8 473.72L64.8 479.54ZM62.51 477.21L64.8 474.88L64.8 479.54ZM63.14 477.91L64.8 476.28L64.8 479.54ZM63.07 480.27L64.8 479.54L64.8 481ZM56.15 482.75L64.8 481L64.8 484.5ZM60.09 481.88L64.8 481L64.8 482.75ZM59.29 483.62L64.8 482.75L64.8 484.5ZM57.67 486.25L64.8 484.5L64.8 488ZM60.15 485.38L64.8 484.5L64.8 486.25ZM60.75 487.12L64.8 486.25L64.8 488ZM57.97 491.19L64.8 488L64.8 494.38ZM60.2 489.92L64.8 488L64.8 491.83ZM61.46 489.34L64.8 488L64.8 490.68ZM60.7 493.11L64.8 491.83L64.8 494.38ZM60.01 495.75L64.8 494.38L64.8 497.12ZM61.73 495.07L64.8 494.38L64.8 495.75ZM61.69 496.44L64.8 495.75L64.8 497.12ZM59.74 498.26L64.8 497.12L64.8 499.4Z" fill="#111" fill-opacity="0.6"/>
<path d="M62.87 329.46L62.87 330.38M62.87 329.46L64.5 329.46M62.87 330.38L64.5 330.38M63.5 331.21L63.5 331.94M63.5 331.21L64.5 331.21M63.5 331.94L64.5 331.94M63.5 332.68L63.5 333.42M63.5 332.68L64.5 332.68M63.5 333.42L64.5 333.42M63.02 331.58L63.02 333.05M63.02 331.58L63.5 331.58M63.02 333.05L63.5 333.05M62.42 332.31L62.42 334.15M62.42 332.31L63.02 332.31M62.42 334.15L64.5 334.15M63.32 336.27L63.32 337.56M63.32 336.27L64.5 336.27M63.32 337.56L64.5 337.56M62.67 335.07L62.67 336.91M62.67 335.07L64.5 335.07M62.67 336.91L63.32 336.91M61.36 333.23L61.36 335.99M61.36 333.23L62.42 333.23M61.36 335.99L62.67 335.99M60.35 329.92L60.35 334.61M60.35 329.92L62.87 329.92M60.35 334.61L61.36 334.61M62.83 338.77L62.83 339.93M62.83 338.77L64.5 338.77M62.83 339.93L64.5 339.93M59.21 332.27L59.21 339.35M59.21 332.27L60.35 332.27M59.21 339.35L62.83 339.35M62.7 341.07L62.7 342.23M62.7 341.07L64.5 341.07M62.7 342.23L64.5 342.23M63.5 343.32L63.5 344.35M63.5 343.32L64.5 343.32M63.5 344.35L64.5 344.35M63.5 345.25L63.5 346.02M63.5 345.25L64.5 345.25M63.5 346.02L64.5 346.02M63.5 346.79L63.5 347.57M63.5 346.79L64.5 346.79M63.5 347.57L64.5 347.57M63.5 345.63L63.5 347.18M63.5 345.63L63.5 345.63M63.5 347.18L63.5 347.18M62.8 343.83L62.8 346.41M62.8 343.83L63.5 343.83M62.8 346.41L63.5 346.41M62.2 345.12L62.2 348.6M62.2 345.12L62.8 345.12M62.2 348.6L64.5 348.6M63.5 349.59L63.5 350.27M63.5 349.59L64.5 349.59M63.5 350.27L64.5 350.27M63.5 350.97L63.5 351.65M63.5 350.97L64.5 350.97M63.5 351.65L64.5 351.65M62.9 349.93L62.9 351.31M62.9 349.93L63.5 349.93M62.9 351.31L63.5 351.31M61.15 346.86L61.15 350.62M61.15 346.86L62.2 346.86M61.15 350.62L62.9 350.62M59.82 341.65L59.82 348.74M59.82 341.65L62.7 341.65M59.82 348.74L61.15 348.74M55.7 335.81L55.7 345.19M55.7 335.81L59.21 335.81M55.7 345.19L59.82 345.19M55.7 340.5L55.7 344.2M62.49 352.5L62.49 353.5M62.49 352.5L64.5 352.5M62.49 353.5L64.5 353.5M62.99 354.36L62.99 355.08M62.99 354.36L64.5 354.36M62.99 355.08L64.5 355.08M63.38 355.86L63.38 356.7M63.38 355.86L64.5 355.86M63.38 356.7L64.5 356.7M63.27 357.54L63.27 358.38M63.27 357.54L64.5 357.54M63.27 358.38L64.5 358.38M62.39 356.28L62.39 357.96M62.39 356.28L63.38 356.28M62.39 357.96L63.27 357.96M61.27 354.72L61.27 357.12M61.27 354.72L62.99 354.72M61.27 357.12L62.39 357.12M62.89 359.2L62.89 360M62.89 359.2L64.5 359.2M62.89 360L64.5 360M63.04 360.8L63.04 361.6M63.04 360.8L64.5 360.8M63.04 361.6L64.5 361.6M61.95 359.6L61.95 361.2M61.95 359.6L62.89 359.6M61.95 361.2L63.04 361.2M60.06 355.92L60.06 360.4M60.06 355.92L61.27 355.92M60.06 360.4L61.95 360.4M59.31 353L59.31 358.16M59.31 353L62.49 353M59.31 358.16L60.06 358.16M63.39 362.38L63.39 363.12M63.39 362.38L64.5 362.38M63.39 363.12L64.5 363.12M63.22 363.94L63.22 364.81M63.22 363.94L64.5 363.94M63.22 364.81L64.5 364.81M63.34 365.69L63.34 366.56M63.34 365.69L64.5 365.69M63.34 366.56L64.5 366.56M62.44 364.38L62.44 366.12M62.44 364.38L63.22 364.38M62.44 366.12L63.34 366.12M61.67 362.75L61.67 365.25M61.67 362.75L63.39 362.75M61.67 365.25L62.44 365.25M63.5 369.55L63.5 370.25M63.5 369.55L64.5 369.55M63.5 370.25L64.5 370.25M63.5 370.95L63.5 371.65M63.5 370.95L64.5 370.95M63.5 371.65L64.5 371.65M63.2 369.9L63.2 371.3M63.2 369.9L63.5 369.9M63.2 371.3L63.5 371.3M62.45 368.6L62.45 370.6M62.45 368.6L64.5 368.6M62.45 370.6L63.2 370.6M61.67 367.5L61.67 369.6M61.67 367.5L64.5 367.5M61.67 369.6L62.45 369.6M59.58 364L59.58 368.55M59.58 364L61.67 364M59.58 368.55L61.67 368.55M56.5 355.58L56.5 366.27M56.5 355.58L59.31 355.58M56.5 366.27L59.58 366.27M56.5 360.93L56.5 364.2M52.5 344.2L52.5 364.2M52.5 344.2L55.7 344.2M52.5 364.2L56.5 364.2M62.76 372.42L62.76 373.26M62.76 372.42L64.5 372.42M62.76 373.26L64.5 373.26M62.53 374.1L62.53 374.94M62.53 374.1L64.5 374.1M62.53 374.94L64.5 374.94M61.43 372.84L61.43 374.52M61.43 372.84L62.76 372.84M61.43 374.52L62.53 374.52M61.62 375.92L61.62 377.04M61.62 375.92L64.5 375.92M61.62 377.04L64.5 377.04M59.54 373.68L59.54 376.48M59.54 373.68L61.43 373.68M59.54 376.48L61.62 376.48M62.83 377.97L62.83 378.7M62.83 377.97L64.5 377.97M62.83 378.7L64.5 378.7M63.06 379.44L63.06 380.17M63.06 379.44L64.5 379.44M63.06 380.17L64.5 380.17M61.7 378.34L61.7 379.81M61.7 378.34L62.83 378.34M61.7 379.81L63.06 379.81M62.98 380.91L62.98 381.64M62.98 380.91L64.5 380.91M62.98 381.64L64.5 381.64M62.89 382.38L62.89 383.11M62.89 382.38L64.5 382.38M62.89 383.11L64.5 383.11M61.83 381.27L61.83 382.75M61.83 381.27L62.98 381.27M61.83 382.75L62.89 382.75M59.65 379.07L59.65 382.01M59.65 379.07L61.7 379.07M59.65 382.01L61.83 382.01M61.4 384.11L61.4 385.37M61.4 384.11L64.5 384.11M61.4 385.37L64.5 385.37M57.87 380.54L57.87 384.74M57.87 380.54L59.65 380.54M57.87 384.74L61.4 384.74M55.4 375.08L55.4 382.64M55.4 375.08L59.54 375.08M55.4 382.64L57.87 382.64M55.4 378.3L55.4 378.86M45.5 354.2L45.5 378.3M45.5 354.2L52.5 354.2M45.5 378.3L55.4 378.3M62.91 386.38L62.91 387.14M62.91 386.38L64.5 386.38M62.91 387.14L64.5 387.14M63.5 387.9L63.5 388.66M63.5 387.9L64.5 387.9M63.5 388.66L64.5 388.66M63.5 389.42L63.5 390.18M63.5 389.42L64.5 389.42M63.5 390.18L64.5 390.18M62.87 388.28L62.87 389.8M62.87 388.28L63.5 388.28M62.87 389.8L63.5 389.8M63.5 390.94L63.5 391.7M63.5 390.94L64.5 390.94M63.5 391.7L64.5 391.7M63.5 392.46L63.5 393.22M63.5 392.46L64.5 392.46M63.5 393.22L64.5 393.22M63.01 391.32L63.01 392.84M63.01 391.32L63.5 391.32M63.01 392.84L63.5 392.84M61.82 389.04L61.82 392.08M61.82 389.04L62.87 389.04M61.82 392.08L63.01 392.08M60.49 386.76L60.49 390.56M60.49 386.76L62.91 386.76M60.49 390.56L61.82 390.56M63.43 394.08L63.43 395.02M63.43 394.08L64.5 394.08M63.43 395.02L64.5 395.02M63.45 395.98L63.45 396.92M63.45 395.98L64.5 395.98M63.45 396.92L64.5 396.92M62.55 394.55L62.55 396.45M62.55 394.55L63.43 394.55M62.55 396.45L63.45 396.45M63.07 399.2L63.07 400.53M63.07 399.2L64.5 399.2M63.07 400.53L64.5 400.53M62.47 397.97L62.47 399.87M62.47 397.97L64.5 397.97M62.47 399.87L63.07 399.87M61.18 395.5L61.18 398.92M61.18 395.5L62.55 395.5M61.18 398.92L62.47 398.92M58.06 388.66L58.06 397.21M58.06 388.66L60.49 388.66M58.06 397.21L61.18 397.21M62.5 401.67L62.5 402.62M62.5 401.67L64.5 401.67M62.5 402.62L64.5 402.62M62.29 403.58L62.29 404.52M62.29 403.58L64.5 403.58M62.29 404.52L64.5 404.52M61.04 402.15L61.04 404.05M61.04 402.15L62.5 402.15M61.04 404.05L62.29 404.05M55.7 392.93L55.7 403.1M55.7 392.93L58.06 392.93M55.7 403.1L61.04 403.1M55.7 398.02L55.7 399.3M62.83 406.67L62.83 407.43M62.83 406.67L64.5 406.67M62.83 407.43L64.5 407.43M62.6 408.19L62.6 408.94M62.6 408.19L64.5 408.19M62.6 408.94L64.5 408.94M61.52 407.05L61.52 408.56M61.52 407.05L62.83 407.05M61.52 408.56L62.6 408.56M59.71 405.65L59.71 407.81M59.71 405.65L64.5 405.65M59.71 407.81L61.52 407.81M57.81 406.73L57.81 409.86M57.81 406.73L59.71 406.73M57.81 409.86L64.5 409.86M61.22 410.94L61.22 412.02M61.22 410.94L64.5 410.94M61.22 412.02L64.5 412.02M61.98 412.92L61.98 413.64M61.98 412.92L64.5 412.92M61.98 413.64L64.5 413.64M59.82 411.48L59.82 413.28M59.82 411.48L61.22 411.48M59.82 413.28L61.98 413.28M54.8 408.29L54.8 412.38M54.8 408.29L57.81 408.29M54.8 412.38L59.82 412.38M54.8 410.34L54.8 410.4M41.8 399.3L41.8 410.4M41.8 399.3L55.7 399.3M41.8 410.4L54.8 410.4M35.7 366.25L35.7 404.85M35.7 366.25L45.5 366.25M35.7 404.85L41.8 404.85M63.5 414.4L63.5 415.19M63.5 414.4L64.5 414.4M63.5 415.19L64.5 415.19M63.5 415.99L63.5 416.79M63.5 415.99L64.5 415.99M63.5 416.79L64.5 416.79M63.23 414.8L63.23 416.39M63.23 414.8L63.5 414.8M63.23 416.39L63.5 416.39M63.5 417.53L63.5 418.21M63.5 417.53L64.5 417.53M63.5 418.21L64.5 418.21M62.53 415.59L62.53 417.87M62.53 415.59L63.23 415.59M62.53 417.87L63.5 417.87M63.33 419.12L63.33 420.26M63.33 419.12L64.5 419.12M63.33 420.26L64.5 420.26M63.23 421.39L63.23 422.53M63.23 421.39L64.5 421.39M63.23 422.53L64.5 422.53M62.53 419.69L62.53 421.96M62.53 419.69L63.33 419.69M62.53 421.96L63.23 421.96M61.07 416.73L61.07 420.83M61.07 416.73L62.53 416.73M61.07 420.83L62.53 420.83M63.39 423.44L63.39 424.12M63.39 423.44L64.5 423.44M63.39 424.12L64.5 424.12M63.39 424.81L63.39 425.49M63.39 424.81L64.5 424.81M63.39 425.49L64.5 425.49M62.79 423.78L62.79 425.15M62.79 423.78L63.39 423.78M62.79 425.15L63.39 425.15M63.5 426.34L63.5 427.36M63.5 426.34L64.5 426.34M63.5 427.36L64.5 427.36M63.5 428.25L63.5 429.01M63.5 428.25L64.5 428.25M63.5 429.01L64.5 429.01M63.5 429.78L63.5 430.54M63.5 429.78L64.5 429.78M63.5 430.54L64.5 430.54M63.5 428.63L63.5 430.16M63.5 428.63L63.5 428.63M63.5 430.16L63.5 430.16M62.87 426.85L62.87 429.4M62.87 426.85L63.5 426.85M62.87 429.4L63.5 429.4M62.27 428.12L62.27 431.56M62.27 428.12L62.87 428.12M62.27 431.56L64.5 431.56M60.92 424.47L60.92 429.84M60.92 424.47L62.79 424.47M60.92 429.84L62.27 429.84M58.61 418.78L58.61 427.15M58.61 418.78L61.07 418.78M58.61 427.15L60.92 427.15M63.2 432.59L63.2 433.37M63.2 432.59L64.5 432.59M63.2 433.37L64.5 433.37M63.44 434.15L63.44 434.93M63.44 434.15L64.5 434.15M63.44 434.93L64.5 434.93M62.46 432.98L62.46 434.54M62.46 432.98L63.2 432.98M62.46 434.54L63.44 434.54M63.17 435.67L63.17 436.37M63.17 435.67L64.5 435.67M63.17 436.37L64.5 436.37M63.06 437.13L63.06 437.95M63.06 437.13L64.5 437.13M63.06 437.95L64.5 437.95M63.02 438.77L63.02 439.59M63.02 438.77L64.5 438.77M63.02 439.59L64.5 439.59M62.23 437.54L62.23 439.18M62.23 437.54L63.06 437.54M62.23 439.18L63.02 439.18M61.52 436.02L61.52 438.36M61.52 436.02L63.17 436.02M61.52 438.36L62.23 438.36M60.3 433.76L60.3 437.19M60.3 433.76L62.46 433.76M60.3 437.19L61.52 437.19M55.7 422.97L55.7 435.48M55.7 422.97L58.61 422.97M55.7 435.48L60.3 435.48M55.7 429.22L55.7 432.6M61.62 440.56L61.62 441.68M61.62 440.56L64.5 440.56M61.62 441.68L64.5 441.68M62.59 442.69L62.59 443.58M62.59 442.69L64.5 442.69M62.59 443.58L64.5 443.58M62.82 444.39L62.82 445.11M62.82 444.39L64.5 444.39M62.82 445.11L64.5 445.11M63.19 445.9L63.19 446.76M63.19 445.9L64.5 445.9M63.19 446.76L64.5 446.76M63.5 447.59L63.5 448.39M63.5 447.59L64.5 447.59M63.5 448.39L64.5 448.39M63.5 449.19L63.5 450M63.5 449.19L64.5 449.19M63.5 450L64.5 450M63.25 447.99L63.25 449.59M63.25 447.99L63.5 447.99M63.25 449.59L63.5 449.59M62.65 448.79L62.65 450.8M62.65 448.79L63.25 448.79M62.65 450.8L64.5 450.8M61.53 446.33L61.53 449.8M61.53 446.33L63.19 446.33M61.53 449.8L62.65 449.8M60.08 444.75L60.08 448.06M60.08 444.75L62.82 444.75M60.08 448.06L61.53 448.06M59.08 443.14L59.08 446.4M59.08 443.14L62.59 443.14M59.08 446.4L60.08 446.4M56.88 441.12L56.88 444.77M56.88 441.12L61.62 441.12M56.88 444.77L59.08 444.77M62.42 451.55L62.42 452.25M62.42 451.55L64.5 451.55M62.42 452.25L64.5 452.25M62.01 452.95L62.01 453.65M62.01 452.95L64.5 452.95M62.01 453.65L64.5 453.65M60.74 451.9L60.74 453.3M60.74 451.9L62.42 451.9M60.74 453.3L62.01 453.3M54.8 442.95L54.8 452.6M54.8 442.95L56.88 442.95M54.8 452.6L60.74 452.6M54.8 447.77L54.8 448.7M50.7 432.6L50.7 448.7M50.7 432.6L55.7 432.6M50.7 448.7L54.8 448.7M63.37 455.18L63.37 455.96M63.37 455.18L64.5 455.18M63.37 455.96L64.5 455.96M63.5 456.74L63.5 457.53M63.5 456.74L64.5 456.74M63.5 457.53L64.5 457.53M62.64 455.57L62.64 457.14M62.64 455.57L63.37 455.57M62.64 457.14L63.5 457.14M61.98 454.39L61.98 456.35M61.98 454.39L64.5 454.39M61.98 456.35L62.64 456.35M63 458.34L63 459.18M63 458.34L64.5 458.34M63 459.18L64.5 459.18M61.18 455.37L61.18 458.76M61.18 455.37L61.98 455.37M61.18 458.76L63 458.76M62.99 460.19L62.99 461.36M62.99 460.19L64.5 460.19M62.99 461.36L64.5 461.36M63.22 462.54L63.22 463.72M63.22 462.54L64.5 462.54M63.22 463.72L64.5 463.72M62.05 460.78L62.05 463.13M62.05 460.78L62.99 460.78M62.05 463.13L63.22 463.13M63.05 464.81L63.05 465.82M63.05 464.81L64.5 464.81M63.05 465.82L64.5 465.82M61 461.95L61 465.31M61 461.95L62.05 461.95M61 465.31L63.05 465.31M63.04 466.74L63.04 467.58M63.04 466.74L64.5 466.74M63.04 467.58L64.5 467.58M60.18 463.63L60.18 467.16M60.18 463.63L61 463.63M60.18 467.16L63.04 467.16M58.2 457.07L58.2 465.4M58.2 457.07L61.18 457.07M58.2 465.4L60.18 465.4M58.2 461.23L58.2 462M61.34 468.65L61.34 469.95M61.34 468.65L64.5 468.65M61.34 469.95L64.5 469.95M62.91 470.99L62.91 471.77M62.91 470.99L64.5 470.99M62.91 471.77L64.5 471.77M62.89 472.55L62.89 473.33M62.89 472.55L64.5 472.55M62.89 473.33L64.5 473.33M61.91 471.38L61.91 472.94M61.91 471.38L62.91 471.38M61.91 472.94L62.89 472.94M63.5 475.23L63.5 475.93M63.5 475.23L64.5 475.23M63.5 475.93L64.5 475.93M63.5 476.69L63.5 477.51M63.5 476.69L64.5 476.69M63.5 477.51L64.5 477.51M63.5 478.32L63.5 479.14M63.5 478.32L64.5 478.32M63.5 479.14L64.5 479.14M63.14 477.1L63.14 478.73M63.14 477.1L63.5 477.1M63.14 478.73L63.5 478.73M62.51 475.58L62.51 477.91M62.51 475.58L63.5 475.58M62.51 477.91L63.14 477.91M61.9 474.3L61.9 476.75M61.9 474.3L64.5 474.3M61.9 476.75L62.51 476.75M63.07 479.91L63.07 480.64M63.07 479.91L64.5 479.91M63.07 480.64L64.5 480.64M60.74 475.53L60.74 480.27M60.74 475.53L61.9 475.53M60.74 480.27L63.07 480.27M58.61 472.16L58.61 477.9M58.61 472.16L61.91 472.16M58.61 477.9L60.74 477.9M56.5 469.3L56.5 475.03M56.5 469.3L61.34 469.3M56.5 475.03L58.61 475.03M56.5 472.16L56.5 478.2M54.5 462L54.5 478.2M54.5 462L58.2 462M54.5 478.2L56.5 478.2M46.5 440.65L46.5 473.3M46.5 440.65L50.7 440.65M46.5 473.3L54.5 473.3M60.09 481.44L60.09 482.31M60.09 481.44L64.5 481.44M60.09 482.31L64.5 482.31M59.29 483.19L59.29 484.06M59.29 483.19L64.5 483.19M59.29 484.06L64.5 484.06M56.15 481.88L56.15 483.62M56.15 481.88L60.09 481.88M56.15 483.62L59.29 483.62M60.15 484.94L60.15 485.81M60.15 484.94L64.5 484.94M60.15 485.81L64.5 485.81M60.75 486.69L60.75 487.56M60.75 486.69L64.5 486.69M60.75 487.56L64.5 487.56M57.67 485.38L57.67 487.12M57.67 485.38L60.15 485.38M57.67 487.12L60.75 487.12M51.3 482.75L51.3 486.25M51.3 482.75L56.15 482.75M51.3 486.25L57.67 486.25M51.3 484L51.3 484.5M61.46 488.67L61.46 490.01M61.46 488.67L64.5 488.67M61.46 490.01L64.5 490.01M60.2 489.34L60.2 491.26M60.2 489.34L61.46 489.34M60.2 491.26L64.5 491.26M60.7 492.47L60.7 493.75M60.7 492.47L64.5 492.47M60.7 493.75L64.5 493.75M57.97 490.3L57.97 493.11M57.97 490.3L60.2 490.3M57.97 493.11L60.7 493.11M61.73 494.73L61.73 495.41M61.73 494.73L64.5 494.73M61.73 495.41L64.5 495.41M61.69 496.09L61.69 496.78M61.69 496.09L64.5 496.09M61.69 496.78L64.5 496.78M60.01 495.07L60.01 496.44M60.01 495.07L61.73 495.07M60.01 496.44L61.69 496.44M54.63 491.7L54.63 495.75M54.63 491.7L57.97 491.7M54.63 495.75L60.01 495.75M59.74 497.69L59.74 498.83M59.74 497.69L64.5 497.69M59.74 498.83L64.5 498.83M51.9 493.73L51.9 498.26M51.9 493.73L54.63 493.73M51.9 498.26L59.74 498.26M51.9 493.4L51.9 495.99M40.1 484L40.1 493.4M40.1 484L51.3 484M40.1 493.4L51.9 493.4M32.6 456.98L32.6 488.7M32.6 456.98L46.5 456.98M32.6 488.7L40.1 488.7M19.5 385.55L19.5 472.84M19.5 385.55L35.7 385.55M19.5 472.84L32.6 472.84" fill="none" stroke="#111" stroke-width="0.6"/>
<rect x="64.3" y="328.9" width="3.8" height="170.5" fill="#000"/>
<path transform="translate(0.5 0)" d="M97.33 315.5L115.75 315.5M97.33 315.5L97.33 327.7M115.75 315.5L115.75 327.7M134.17 314.3L152.59 314.3M134.17 314.3L134.17 327.7M152.59 314.3L152.59 327.7M106.54 313.2L143.38 313.2M106.54 313.2L106.54 315.5M143.38 313.2L143.38 314.3M78.91 311.75L124.96 311.75M78.91 311.75L78.91 327.7M124.96 311.75L124.96 313.2M189.43 318.5L207.85 318.5M189.43 318.5L189.43 327.7M207.85 318.5L207.85 327.7M226.27 317.25L244.69 317.25M226.27 317.25L226.27 327.7M244.69 317.25L244.69 327.7M198.64 316.75L235.48 316.75M198.64 316.75L198.64 318.5M235.48 316.75L235.48 317.25M171.01 313.5L217.06 313.5M171.01 313.5L171.01 327.7M217.06 313.5L217.06 316.75M101.94 282.5L194.03 282.5M101.94 282.5L101.94 311.75M194.03 282.5L194.03 313.5" fill="none" stroke="#555" stroke-width="0.55"/>
<text transform="translate(81.11 500.8) rotate(-90)" font-size="5.0" text-anchor="end" fill="#111" stroke="#111" stroke-width="0.15">TEL-AML</text>
<text transform="translate(99.53 500.8) rotate(-90)" font-size="5.0" text-anchor="end" fill="#111" stroke="#111" stroke-width="0.15">TEL-AML</text>
<text transform="translate(117.95 500.8) rotate(-90)" font-size="5.0" text-anchor="end" fill="#111" stroke="#111" stroke-width="0.15">TEL-AML</text>
<text transform="translate(136.37 500.8) rotate(-90)" font-size="5.0" text-anchor="end" fill="#111" stroke="#111" stroke-width="0.15">HYPER</text>
<text transform="translate(154.79 500.8) rotate(-90)" font-size="5.0" text-anchor="end" fill="#111" stroke="#111" stroke-width="0.15">HYPER</text>
<text transform="translate(173.21 500.8) rotate(-90)" font-size="5.0" text-anchor="end" fill="#111" stroke="#111" stroke-width="0.15">CD34+</text>
<text transform="translate(191.63 500.8) rotate(-90)" font-size="5.0" text-anchor="end" fill="#111" stroke="#111" stroke-width="0.15">CD19+</text>
<text transform="translate(210.05 500.8) rotate(-90)" font-size="5.0" text-anchor="end" fill="#111" stroke="#111" stroke-width="0.15">CD19+</text>
<text transform="translate(228.47 500.8) rotate(-90)" font-size="5.0" text-anchor="end" fill="#111" stroke="#111" stroke-width="0.15">CD34+</text>
<text transform="translate(246.89 500.8) rotate(-90)" font-size="5.0" text-anchor="end" fill="#111" stroke="#111" stroke-width="0.15">CD19+</text>
<rect x="73.75" y="529.75" width="90.75" height="3.75" fill="#4f81bd"/>
<rect x="167.2" y="529.75" width="88.3" height="3.75" fill="#c0504d"/>
<text x="92.5" y="526.5" font-size="3" text-anchor="middle" fill="#444">8</text>
<g transform="translate(2 276)">
<text x="47" y="4.7" font-size="4.6" text-anchor="middle">Methylation</text>
<path d="M24 14.3L69 5.7L69 14.3Z" fill="#dcdcdc" stroke="#a8a8a8" stroke-width="0.4"/>
<rect x="22" y="16" width="4.52" height="4" fill="#313695"/>
<rect x="26.47" y="16" width="4.52" height="4" fill="#4575b4"/>
<rect x="30.95" y="16" width="4.52" height="4" fill="#74add1"/>
<rect x="35.42" y="16" width="4.52" height="4" fill="#abd9e9"/>
<rect x="39.89" y="16" width="4.52" height="4" fill="#e0f3f8"/>
<rect x="44.36" y="16" width="4.52" height="4" fill="#ffffbf"/>
<rect x="48.84" y="16" width="4.52" height="4" fill="#fee090"/>
<rect x="53.31" y="16" width="4.52" height="4" fill="#fdae61"/>
<rect x="57.78" y="16" width="4.52" height="4" fill="#f46d43"/>
<rect x="62.25" y="16" width="4.52" height="4" fill="#d73027"/>
<rect x="66.73" y="16" width="4.52" height="4" fill="#a50026"/>
<text x="23.1" y="27.3" font-size="4.6" text-anchor="middle">-3</text>
<text x="36.9" y="27.3" font-size="4.6" text-anchor="middle">-1.4</text>
<text x="47.25" y="27.3" font-size="4.6" text-anchor="middle">1</text>
<text x="59.6" y="27.3" font-size="4.6" text-anchor="middle">3.4</text>
<text x="70.4" y="27.3" font-size="4.6" text-anchor="middle">5</text>
<text x="1.3" y="33.4" font-size="4.6">Standard deviation from mean log (MspI/HpaII)</text>
</g>
<text x="1.9" y="9.1" font-size="11" font-weight="bold" fill="#000">A</text>
<text x="264.8" y="10.8" font-size="11" font-weight="bold" fill="#000">B</text>
<text x="2.2" y="285.6" font-size="11" font-weight="bold" fill="#000">C</text>
<text x="263.6" y="286.2" font-size="11" font-weight="bold" fill="#000">D</text>
<g class="tbl">
<rect x="264.3" y="331.2" width="255.7" height="10.1" fill="#f5f5f5"/>
<text transform="translate(423.45 338.75) scale(0.9 1)" font-size="6.9" text-anchor="middle">Comparison</text>
<rect x="264.3" y="341.9" width="62" height="10.5" fill="#d0d0d0"/>
<rect x="326.9" y="341.9" width="63.1" height="10.5" fill="#d0d0d0"/>
<text transform="translate(358.45 349.6) scale(0.9 1)" font-size="6.9" text-anchor="middle">MLL-r vs. MLL-wt</text>
<rect x="390.6" y="341.9" width="63.8" height="10.5" fill="#d0d0d0"/>
<text transform="translate(422.5 349.6) scale(0.9 1)" font-size="6.9" text-anchor="middle">MLL-r vs. Normal</text>
<rect x="455" y="341.9" width="65" height="10.5" fill="#d0d0d0"/>
<text transform="translate(487.5 349.6) scale(0.9 1)" font-size="6.9" text-anchor="middle">MLL-wt vs. Normal</text>
<rect x="264.3" y="353" width="62" height="10.6" fill="#eeeeee"/>
<text transform="translate(295.3 360.75) scale(0.9 1)" font-size="6.9" text-anchor="middle"># hypermethlyated</text>
<rect x="326.9" y="353" width="63.1" height="10.6" fill="#eeeeee"/>
<text transform="translate(358.45 360.75) scale(0.9 1)" font-size="6.9" text-anchor="middle">146</text>
<rect x="390.6" y="353" width="63.8" height="10.6" fill="#eeeeee"/>
<text transform="translate(422.5 360.75) scale(0.9 1)" font-size="6.9" text-anchor="middle">298</text>
<rect x="455" y="353" width="65" height="10.6" fill="#eeeeee"/>
<text transform="translate(487.5 360.75) scale(0.9 1)" font-size="6.9" text-anchor="middle">284</text>
<rect x="264.3" y="364.2" width="62" height="10.6" fill="#d0d0d0"/>
<text transform="translate(295.3 371.95) scale(0.9 1)" font-size="6.9" text-anchor="middle"># hypomethylated</text>
<rect x="326.9" y="364.2" width="63.1" height="10.6" fill="#d0d0d0"/>
<text transform="translate(358.45 371.95) scale(0.9 1)" font-size="6.9" text-anchor="middle">50</text>
<rect x="390.6" y="364.2" width="63.8" height="10.6" fill="#d0d0d0"/>
<text transform="translate(422.5 371.95) scale(0.9 1)" font-size="6.9" text-anchor="middle">174</text>
<rect x="455" y="364.2" width="65" height="10.6" fill="#d0d0d0"/>
<text transform="translate(487.5 371.95) scale(0.9 1)" font-size="6.9" text-anchor="middle">293</text>
<rect x="264.3" y="375.4" width="62" height="10.6" fill="#eeeeee"/>
<text transform="translate(295.3 383.15) scale(0.9 1)" font-size="6.9" text-anchor="middle">Ratio (hyper/hypo)</text>
<rect x="326.9" y="375.4" width="63.1" height="10.6" fill="#eeeeee"/>
<text transform="translate(358.45 383.15) scale(0.9 1)" font-size="6.9" text-anchor="middle">2.9</text>
<rect x="390.6" y="375.4" width="63.8" height="10.6" fill="#eeeeee"/>
<text transform="translate(422.5 383.15) scale(0.9 1)" font-size="6.9" text-anchor="middle">1.7</text>
<rect x="455" y="375.4" width="65" height="10.6" fill="#eeeeee"/>
<text transform="translate(487.5 383.15) scale(0.9 1)" font-size="6.9" text-anchor="middle">1.0</text>
</g>
</svg>
</body>
</html>
